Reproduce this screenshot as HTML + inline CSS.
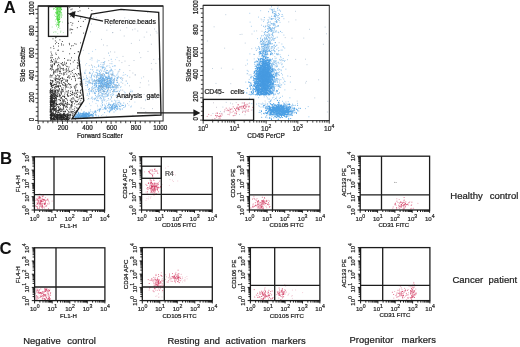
<!DOCTYPE html>
<html><head><meta charset="utf-8"><title>Figure</title>
<style>
html,body{margin:0;padding:0;background:#fff;width:520px;height:347px;overflow:hidden}
svg{display:block;filter:blur(0.35px)}
text{font-family:"Liberation Sans",sans-serif}
</style></head><body>
<svg width="520" height="347" viewBox="0 0 520 347">
<rect width="520" height="347" fill="#fff"/>
<path d="M55.4 43.7h0M51.2 57.7h0M56.2 37.2h0M53 38.8h0M55.5 37.8h0M76.1 44.2h0M71.5 57.8h0M61.6 45h0M55.8 53.1h0M78.2 51.8h0M71.5 45.9h0M73.1 45.6h0M58.6 43.5h0M74.8 43.7h0M59.9 39.8h0M55.4 58.8h0M61.6 43.8h0M53.5 46.2h0M56.2 54.5h0M78.3 51.7h0M58.5 57.2h0M59.1 58.3h0M51.4 59.9h0M58.4 46.1h0M64.5 58.5h0M69.7 53.8h0M50.7 57.8h0M56.7 42.3h0M69.3 43.4h0M52.3 55.2h0M51.4 53.9h0M74.7 53.5h0M63 51.4h0M63.3 45h0M53.7 59.7h0M57.3 59h0M51 52h0M69.6 44.7h0M55.3 40.9h0M58.2 50.1h0M52.6 57.7h0M51.1 55.8h0M58 50.4h0M53.9 48.4h0M50.8 47.8h0M62.3 41.5h0M80.5 42.9h0M70.7 48.7h0M83.3 21.4h0M78.1 11.5h0M89.8 17.8h0M89.1 20h0M72.8 23.3h0M81.8 16.5h0M69.8 7.6h0M68.7 23.2h0M71.4 29.3h0M72.8 12h0M70.1 30h0M70.7 16.3h0M80 10.8h0M78.4 21.4h0M80.8 26.5h0M71 9.7h0M79.7 7.4h0M71.3 32.9h0M77.3 27.7h0M85.2 19.4h0M72 25.2h0M68.5 13.5h0M83.7 33.1h0M88.7 8.3h0M72.1 9h0M70.2 29h0M72.7 29.6h0M70.9 22.5h0M80.7 18.1h0M91.9 10.5h0M71.4 79.2h0M73.2 62h0M52.6 80.6h0M70.4 63.8h0M74.1 69.3h0M67.6 80.4h0M52.2 62.1h0M81.5 86.3h0M57.6 86.2h0M50.4 82.8h0M75.6 79.9h0M60.1 85.5h0M57.3 86.1h0M56.8 69.9h0M60.5 68.1h0M53 89.6h0M61.2 83.2h0M55.9 87.3h0M56.9 81.8h0M59.6 79.9h0M56.2 85.8h0M55.1 62.5h0M55 61.2h0M80.9 83h0M65.8 65.1h0M78 60.2h0M52.1 64.6h0M80.8 84.2h0M59 65.3h0M69.3 78.1h0M65.1 69.9h0M74.4 87.2h0M59.6 83h0M56 61.1h0M66.9 81.4h0M66.3 68.6h0M63.2 74.1h0M58.4 86.3h0M75.2 78.4h0M56.9 87.1h0M75.4 73.5h0M65.3 72.3h0M78.1 63.6h0M56.1 61.1h0M52.6 81.4h0M81.4 84.1h0M61.4 73.8h0M56.9 89.7h0M52 61.7h0M77.2 67.8h0M78.8 65.2h0M60.4 78.6h0M54.2 64.8h0M63.9 73.4h0M51.9 66.3h0M51.3 86h0M60.2 69.8h0M63.7 75h0M66.9 80.1h0M50.6 83.1h0M74.2 86.3h0M66.3 63.1h0M62.5 78.5h0M52.1 85.5h0M62.7 80.4h0M60.2 86.3h0M54 72.1h0M60 66.3h0M63 65.6h0M57.3 71.9h0M59.9 75.6h0M71.2 71.3h0M50.7 68.5h0M56.5 78.7h0M59.5 79.3h0M54.8 89.9h0M51.5 75.7h0M52.2 85.2h0M55.8 72.2h0M58 82.9h0M61.4 88h0M74.1 76h0M54.2 71.6h0M57.2 70.1h0M55.7 77.2h0M60 80.9h0M79 73.6h0M61.3 82.9h0M69 83.9h0M58.3 79.6h0M64.5 62.2h0M56.5 86.7h0M50.1 77.1h0M60.6 78.8h0M69.6 71.3h0M50.2 83.4h0M50.2 69.3h0M77 84.2h0M60.2 73.1h0M68.8 60.1h0M64.7 74.2h0M52.4 65.3h0M61.7 80.5h0M57 69.3h0M75.8 86h0M51.1 68.2h0M58.6 64.5h0M74.6 76.6h0M58.8 86.1h0M80.5 85.2h0M58.8 62.7h0M58.2 75.4h0M70.8 74.1h0M51.2 84.4h0M76.7 74.4h0M70 77h0M63.3 82.4h0M75.4 80.7h0M74.7 60.4h0M75.8 85.2h0M52.7 82.6h0M69 67h0M78.2 78.4h0M72.3 70.5h0M55.1 88.6h0M53.7 81.1h0M66.4 87.1h0M55.6 86.5h0M58.4 86.3h0M54.9 84.6h0M57 78.7h0M79.9 77.7h0M65.7 81.2h0M54.2 84.7h0M67.5 82h0M52.2 80.9h0M59.2 76.5h0M68.6 83.6h0M63.3 65.3h0M54.4 87.3h0M51.5 83.8h0M58.7 86.1h0M58.1 70.9h0M51.9 77h0M66.4 63.2h0M56.3 83.2h0M63.2 87.9h0M67.2 84.8h0M61.9 78h0M65.4 87.2h0M53.1 69.5h0M62.7 89.5h0M55 79.6h0M58.2 86.1h0M50.8 62.2h0M63.1 69.6h0M62.1 68.5h0M51.9 65.8h0M59.2 77.1h0M68.2 72h0M57.8 68.3h0M55.7 70.1h0M55.8 82.2h0M53.9 72.8h0M74 74.2h0M69.5 84.7h0M68.7 76.9h0M53.9 74.1h0M55.8 75.5h0M56.4 84.4h0M66 85h0M56.2 76.7h0M64.8 64h0M66.9 66.4h0M78 65.9h0M64.1 82.5h0M67.9 76.9h0M58.7 78.2h0M58.6 68.9h0M74.8 88.2h0M51.2 85.5h0M64 64.3h0M63.8 85.1h0M62.4 62.5h0M51.8 88.1h0M58 82.1h0M61.5 63.9h0M55.4 84.7h0M80.1 84.1h0M52.8 85.7h0M50.8 89.4h0M77.3 62.6h0M75.5 89.1h0M57.6 75h0M55.7 71.2h0M54.1 63.4h0M65.8 80h0M52.1 67.7h0M70.2 88h0M51.8 86h0M58 81.5h0M53.6 85.5h0M63.3 70.3h0M55.8 78.5h0M76.8 84.6h0M68 87.2h0M58.3 87.2h0M50.6 65.1h0M59.1 83.9h0M51.2 86.3h0M68.8 70.2h0M78.3 73.5h0M59.9 71h0M63.1 79.2h0M55.6 80.5h0M80.6 78.6h0M53.5 72.1h0M61.5 81.5h0M61.8 68.4h0M67.4 60.2h0M64.2 79.2h0M81.8 89.7h0M50.1 75.9h0M67.1 66.7h0M77.7 68.5h0M62.4 64.2h0M72.3 72.7h0M57.4 65.6h0M65.3 85.6h0M76 87.2h0M65.2 86h0M69 75.5h0M55.6 79.4h0M62.6 84.2h0M65.7 84.2h0M51.2 80.6h0M52.7 61.6h0M62.7 77.8h0M59.9 67.8h0M54.5 64.3h0M59.2 88.8h0M58.4 87h0M59.4 71.4h0M64 85.3h0M53.7 73.2h0M64 72.6h0M54.2 84.3h0M50.5 84.5h0M60.6 71.6h0M51.5 60.3h0M64.9 83.5h0M66.8 74.1h0M77.5 66h0M52.4 66.8h0M51.4 84.1h0M71.6 87.3h0M51.9 83.5h0M51.6 83.9h0M59.5 88.9h0M51.3 86.6h0M51 60.5h0M50.7 89h0M79.6 74.9h0M60.7 86.2h0M80.3 81.7h0M74 76.6h0M50.6 75h0M66.3 86.2h0M67.4 77.5h0M52.4 69.1h0M57.9 69.3h0M68.5 68.9h0M51.2 66.6h0M56 80h0M56.3 62.1h0M67.7 80.2h0M77.1 75.8h0M62.6 84.8h0M50.8 80.8h0M50.4 89.3h0M59.7 73.3h0M66.7 69.7h0M65.3 89h0M57 62.7h0M79.2 78.2h0M52.7 75.2h0M52.5 87.6h0M59.6 82.8h0M72.4 76.4h0M51.3 83.1h0M69.9 71.7h0M57.6 79h0M54.8 88h0M70.9 86.3h0M50.4 82.9h0M54.8 63.5h0M78.8 74.1h0M61 63.4h0M53.8 70.7h0M54.1 78.2h0M57.8 66.8h0M52.9 87.2h0M70.7 84.5h0M80.3 83.9h0M54.5 64.1h0M51.6 70h0M54 84.4h0M67 70.5h0M66.4 71.7h0M65.7 84.2h0M50.5 80.1h0M61.9 89.4h0M80.3 74.9h0M70.3 60.3h0M63.5 68.4h0M59.6 104.5h0M67.8 93.3h0M77.1 111h0M51.5 97.7h0M53 108.8h0M51.7 110.3h0M53.9 108.6h0M71.2 101.7h0M57 110.4h0M54.8 94.3h0M50.8 111.9h0M55.8 108.4h0M53.4 104.6h0M55.9 95h0M50.5 102.2h0M67.4 102.6h0M60 100.7h0M63.8 104.2h0M51.6 90.4h0M55.1 115.3h0M60.8 98.7h0M53.9 97.6h0M56.2 104h0M65.1 114.8h0M53.5 103.1h0M61.5 93.6h0M62.7 109.9h0M52.9 106.5h0M51.4 113.5h0M64.9 101.4h0M79.9 104.2h0M64.2 96.5h0M70.1 112.9h0M53.1 101.6h0M50.4 106h0M50.7 100.8h0M66 98.5h0M50.7 100.7h0M80.2 96h0M76.9 97.5h0M74.1 99.1h0M71 108.9h0M60 113.3h0M50.7 111.3h0M68.7 112h0M58.7 107.2h0M50.1 90.8h0M51.6 94.6h0M59.8 96.2h0M53.9 91.3h0M68 113.7h0M59.9 95.7h0M51.9 98.9h0M63.2 91.3h0M74.7 103.8h0M51.4 113.7h0M56.8 101.9h0M72.3 94.7h0M63 96h0M80.5 93h0M53.6 107.2h0M80.9 90.7h0M62.9 100.9h0M71.5 94.3h0M50.4 98.2h0M72.9 101.4h0M50.3 111.2h0M77 96.1h0M54.2 106.4h0M76.9 104.7h0M51.5 103.8h0M52.4 95.2h0M53.4 105.2h0M52.4 101.5h0M51 106.7h0M53.6 96.2h0M52.7 104.6h0M78.8 103.7h0M61.5 97.4h0M55.8 109.3h0M50.2 111.3h0M54.3 114.8h0M67.2 113.8h0M52.8 96.1h0M51.3 114.5h0M54.8 96h0M62.9 103h0M50.1 92.1h0M54 113.9h0M53.2 114.8h0M61.5 109.8h0M75 106.8h0M56.8 111.8h0M50.1 102.3h0M50.8 109.6h0M57.5 104.6h0M54.7 98.8h0M58.2 114.5h0M52.2 97.1h0M51.2 92.2h0M53.3 113.3h0M58.7 108h0M72.8 92.4h0M63.7 114.6h0M62.3 104.8h0M52.9 91.9h0M57.3 112.9h0M80.9 103.7h0M82.2 102.5h0M52.2 106.7h0M64.2 111.3h0M50.4 98.3h0M76.1 96.7h0M51 91.7h0M54.2 102.7h0M50.5 109.9h0M54 94.4h0M55.1 99.9h0M70.7 114.9h0M55.7 112.7h0M54.9 92.8h0M59 112.7h0M54.6 95.8h0M54.4 109.4h0M55.4 98.2h0M54.9 93.3h0M50.2 104.4h0M52.5 91.6h0M50.8 97.9h0M51.1 101.3h0M51.2 94.2h0M52.6 103.1h0M71.4 105.6h0M64.7 94.9h0M54.7 93.1h0M53.1 109.1h0M63.5 107h0M55.1 95.9h0M54.1 96.2h0M67.5 94.7h0M59.9 114.1h0M80.3 104.6h0M55.7 106.1h0M56.1 98.1h0M67.6 104.6h0M51.5 94.7h0M51.3 99.5h0M57.7 110.7h0M53.2 112.3h0M68.9 95.8h0M77.4 94.6h0M59.8 109h0M50.1 96.6h0M58.4 90.9h0M81.4 98.4h0M65.6 111.1h0M57 93.2h0M56.1 111.8h0M63.7 102.1h0M64 99.8h0M81.3 103.1h0M52.3 90.5h0M53.6 108.6h0M57.4 96.6h0M74.8 93.9h0M77.3 90.3h0M69.9 112.1h0M63 109.3h0M60.1 91.3h0M75.6 101.1h0M61.7 111.4h0M64.4 113.6h0M63.6 113.2h0M66.5 109.3h0M81.2 104.2h0M76.9 101.2h0M52.9 101.9h0M50.5 104.5h0M62.8 100.9h0M50.6 114.6h0M50.9 98h0M64.5 105.7h0M68.5 114.2h0M68.3 104.2h0M53.8 107.2h0M50.7 114.6h0M51.4 105.8h0M61.6 91.8h0M60 93.9h0M55.6 97.5h0M75.8 111.7h0M53 102h0M52 102.4h0M55.1 104.9h0M50.8 102h0M56.3 99h0M50.8 97h0M60.4 108.2h0M62.6 90h0M51.5 101.2h0M55.2 110.4h0M51.5 98.1h0M68.3 111.8h0M61.1 102.3h0M50.3 112.9h0M53.2 101h0M67.2 94.6h0M55.4 109.8h0M57.3 112.9h0M78.2 99.8h0M69.5 104.4h0M71.4 102.6h0M51.5 100.7h0M50.2 112.2h0M50.5 103.8h0M53.2 101.7h0M52.7 113.3h0M80.8 100.7h0M70.5 95.6h0M74.4 112.7h0M52.4 96.1h0M51.4 95.8h0M59 112.8h0M53.8 107.8h0M55.8 100.5h0M53.5 93.3h0M72 99.2h0M79.9 102.3h0M53.2 105.5h0M59.1 110.1h0M51.9 110.9h0M72.8 111.7h0M80.1 98.8h0M74.7 110.6h0M54.3 113.9h0M52.1 109h0M72 104.9h0M52.1 112.5h0M50.6 105.4h0M55.1 103.4h0M52.7 97.9h0M52.6 97.6h0M52.9 94.8h0M56.1 110.2h0M54.6 106.1h0M81.5 95h0M70.2 100.3h0M70.9 100.3h0M80.9 93.2h0M77.9 92.3h0M76 102.1h0M65 93h0M61.4 103.8h0M52.4 102h0M69 115.2h0M51.5 113.2h0M53.2 94.8h0M51.6 95.1h0M70.3 93.4h0M59.6 115.2h0M50.1 92.9h0M54.2 102.3h0M55.8 106.1h0M54.4 110.6h0M59.4 90h0M68 91.2h0M64.3 113.2h0M50.2 101.7h0M58.8 99.6h0M57.8 115.2h0M66.1 106.6h0M73 97.5h0M78.3 108.8h0M67.1 104h0M54.8 101.8h0M51 99.3h0M57.8 91.8h0M55.6 91.3h0M53 101.9h0M53.5 103.5h0M51.5 114.2h0M59 96.6h0M65.8 98.4h0M51.9 98.3h0M77.8 90.8h0M51 96.7h0M51.5 101.3h0M51.8 105.6h0M77.3 90.7h0M64.4 100.1h0M55 91.6h0M54 94.6h0M65.8 107.1h0M51.6 94.2h0M52.8 90.2h0M67.4 95.7h0M72.1 94.9h0M54.7 107h0M64.5 97.4h0M70.9 105.2h0M56.3 104.9h0M72.9 113h0M57.9 92.5h0M55.3 97.6h0M51.1 99.7h0M51.3 94.4h0M61.3 94.2h0M58.8 93.4h0M74.5 93.1h0M54.2 91.1h0M78.2 104.2h0M51.9 104.7h0M73.7 111.7h0M57.6 104.5h0M51.5 97.2h0M67 105.9h0M51.6 92.6h0M51.5 114.9h0M50.7 91.3h0M51.8 101.5h0M50.6 96.5h0M52.3 113.1h0M63.2 114.8h0M71.1 101.6h0M53.2 106.7h0M55.8 115h0M72.2 113.9h0M73.1 98.6h0M55.2 97h0M51.2 100.8h0M63 115.4h0M53.1 115.1h0M50.3 92h0M53.9 93.8h0M52.1 98.6h0M58.5 112.4h0M51.9 99h0M57.6 96.5h0M54.9 90.9h0M53.6 95.1h0M63.8 106.7h0M65.6 103.5h0M52.6 100.3h0M54.8 100.4h0M51.6 104.4h0M50.8 104.2h0M62.8 91.7h0M55.9 93.3h0M73 101.7h0M65.8 114.3h0M52 101.9h0M51.9 99.1h0M53.4 113.4h0M74.7 108.8h0M56.8 100h0M51.5 97.8h0M56.9 104.6h0M72 102.9h0M54.9 108.7h0M51.1 91.9h0M72.1 111.4h0M51.9 110h0M72.4 103h0M56 108.9h0M66.3 106.2h0M57.9 106.5h0M63.5 113.6h0M50.9 102.9h0M50.6 109.8h0M56.8 104.8h0M71.7 104.5h0M66.5 104.1h0M54 105h0M59.6 95.4h0M60.8 92.3h0M53.8 100.5h0M76.1 93h0M51.3 90.6h0M51.3 105.1h0M50.7 104.6h0M59.3 109.8h0M50.3 110.5h0M50.4 95.4h0M55.6 95.8h0M71.3 98.7h0M62 98.7h0M54.2 101.8h0M61.5 97.9h0M82.1 95.1h0M52.7 95.5h0M57.5 90.4h0M53.9 93.3h0M51.2 105.3h0M71.4 111.8h0M50.5 101.9h0M52.1 90.6h0M55.8 90.3h0M50.1 98.6h0M63.2 108h0M51.1 113.6h0M73.2 94.1h0M59.6 109.2h0M51.1 106.1h0M50.6 93.1h0M57.4 115h0M55.7 113.7h0M50.2 109.7h0M83.5 98.1h0M50.5 96.1h0M72.5 92.8h0M50.3 107.7h0M56.4 103.5h0M54.7 106.1h0M53 103.9h0M54.3 98.8h0M52.2 96.8h0M54.6 104.2h0M53.7 110.4h0M58 95.1h0M61 108.8h0M50.5 108.5h0M77.4 101.5h0M57 95.3h0M54.7 103.4h0M53.6 103.4h0M71.8 112.6h0M67.4 96h0M53.4 111.2h0M64.4 115.3h0M60.5 100.5h0M68.4 90.7h0M64.9 105.4h0M67.5 100.2h0M52.2 113.6h0M52.5 104.2h0M76.1 93.8h0M50.8 106h0M58.8 110.6h0M53.2 104h0M68.1 92.7h0M55.9 103.8h0M52.4 100.3h0M51.5 100.7h0M51.9 114.7h0M58.3 90h0M67.4 107.3h0M69.3 109.1h0M60 115.3h0M54 92.9h0M63 105.5h0M56.4 104.8h0M51.5 94.9h0M51.8 102.5h0M52.9 109.5h0M56 92.2h0M63.8 104.7h0M72.1 91h0M82.6 90.8h0M53.7 107.7h0M51.5 96.1h0M53.8 98.7h0M52.2 99.9h0M55.7 90.7h0M62.8 103.3h0M60.4 115.4h0M51 105.8h0M51.2 113.4h0M54.4 110.2h0M76.3 93h0M50.2 100.4h0M53.2 98.4h0M63.8 111.4h0M58.6 107.2h0M63.3 101h0M60.7 109.5h0M58.8 104.7h0M67.3 102.3h0M51.1 109.5h0M80.2 91.9h0M52.6 92.4h0M54.4 114.8h0M52.7 106.2h0M53.7 109.5h0M62.2 104.4h0M56.9 96.5h0M55.2 91.8h0M61.9 110.1h0M59.4 109.4h0M60.7 111.6h0M62.9 96.3h0M63.2 111.6h0M68.6 96.3h0M55.8 108.9h0M52.4 108h0M55.8 111.4h0M76.1 101.3h0M51.4 111.9h0M52.5 99.3h0M66.9 91.8h0M62.9 96.4h0M57.5 94.2h0M50.3 111.8h0M56.9 111.2h0M59.7 94.5h0M56.9 95.9h0M51.4 111.3h0M63.1 90.1h0M52.9 90.7h0M53.3 102.5h0M60.2 97.3h0M62.9 114.3h0M56.6 97.3h0M53.7 101h0M56.2 95.9h0M54.6 99.9h0M53.8 108.7h0M58.9 110.2h0M54.6 102.7h0M60.2 110.8h0M50.9 91.6h0M55.3 94.9h0M50.4 107.5h0M61.5 90.1h0M66.7 99h0M61.7 92.4h0M59.2 103.6h0M50.2 106.6h0M54.1 106.2h0M57 114.5h0M77.3 108.2h0M56.5 98.6h0M80 96.1h0M50.9 90.7h0M70.5 91.3h0M56.6 107.4h0M51.4 104.5h0M58.8 115h0M65.4 102h0M54.7 97h0M54.5 101.4h0M57.1 90.8h0M50.3 94h0M73.2 114.1h0M51.9 102.3h0M51 109.9h0M64.4 114.3h0M72.5 92.4h0M54.2 100.7h0M52 102.3h0M51.7 96.6h0M51.5 102h0M57.4 115.3h0M72.2 106h0M51.7 114.2h0M55.8 111.2h0M64.7 96.5h0M60.7 103.4h0M66 91.2h0M55.8 101.3h0M56.1 100.4h0M80.2 92.7h0M55.3 94.4h0M59.1 106.9h0M53.9 96.3h0M61.9 104h0M77.6 101.6h0M51.5 106.7h0M55.6 92.1h0M50.2 90.7h0M53.6 98.3h0M58.4 110.8h0M82.1 98.8h0M63.1 101.1h0M56.2 95.2h0M56.5 109h0M60.6 100.6h0M79.3 96.3h0M52.5 93.6h0M76.8 110.8h0M54.6 101.3h0M50.6 103.5h0M76.5 107.9h0M54.4 96.5h0M50.7 114.2h0M52.9 102.5h0M53.1 98.2h0M79.1 97.9h0M54.4 102.7h0M54.4 109.8h0M75.4 112.8h0M58.5 110.9h0M60.9 113.5h0M60.3 104.1h0M65.5 111.6h0M72.6 115.3h0M59.1 109.4h0M55.7 113.3h0M60.6 105.5h0M54.6 114.7h0M52.6 108.9h0M52.4 105.2h0M52.4 102.5h0M71 106.4h0M81.3 98.4h0M58.2 91.5h0M75.9 90.7h0M52.7 92.8h0M63.8 109.1h0M54.5 98.5h0M75.5 90.8h0M52.2 109.4h0M56.2 99h0M50.4 99.2h0M51.9 111.2h0M67.7 110.3h0M80.6 90.3h0M52.5 95.1h0M56 102.6h0M64.3 105.1h0M77.5 97.4h0M51.9 108.5h0M65 103.9h0M50.6 104.6h0M74.4 95.7h0M50.7 102.6h0M51.9 112.7h0M51 112h0M55.2 90.9h0M55.9 98.3h0M66 107h0M50.5 101.6h0M65 111.9h0M50.5 104.3h0M75 100.4h0M67.3 103.1h0M70.1 107.6h0M70.8 111.2h0M63.5 105.6h0M50.2 108.9h0M58.8 110.8h0M71.5 107.1h0M50.2 115.3h0M59.8 99.5h0M64.7 96.8h0M62.8 99.4h0M60.6 95.7h0M54.7 108.8h0M72.9 109.4h0M63.5 108.2h0M52.9 115h0M66.6 114.6h0M61.4 118.8h0M56.1 117.7h0M50.4 119.1h0M50.2 117.6h0M61.6 116.3h0M58.5 118h0M60.9 115.8h0M59.8 119.1h0M57.8 115h0M64.2 117.6h0M66.5 118.9h0M61.9 114.7h0M63 118h0M67.5 116.3h0M54.9 118.9h0M64 115.5h0M64.1 115.1h0M57.8 117.9h0M64.4 115.6h0M53.9 116.2h0M53.7 118.8h0M63.7 117.4h0M65.8 119.2h0M51.7 118.5h0M57.7 118.8h0M55.1 116.4h0M56.3 117.7h0M60 117.9h0M56.2 118.4h0M63.4 119.2h0M66.4 118.3h0M65.5 116.5h0M75.3 119.1h0M67.7 117.2h0M50.6 116.8h0M51.6 116.6h0M64.5 119.4h0M50.5 117.9h0M54.6 119.2h0M57.7 117.2h0M64.7 119.6h0M52 115.5h0M50.8 117.7h0M68 118h0M61.9 116.4h0M68.8 119.2h0M60 117.2h0M61 119.5h0M58.1 115.7h0M54.6 119.7h0M59.2 119.6h0M58.2 119.2h0M63.6 119.1h0M63.4 117.9h0M54.5 119.6h0M64.9 115.8h0M66.9 115.2h0M54.2 115.4h0M58.4 116.1h0M51 118.3h0M51.4 119.1h0M51.4 119.4h0M62.5 119.3h0M51.5 118.7h0M66.8 119h0M57.4 117.6h0M52.8 120.2h0M53.2 114.7h0M63.2 114.8h0M63.9 118.8h0M63.3 117.9h0M51 117.9h0M68.1 115.8h0M60.5 119.8h0M55.1 120h0M53.2 118.9h0M57.8 115.9h0M57.4 115.5h0M55.8 115.6h0M51.7 115.4h0M64.8 119.5h0M67.2 119.6h0M63.1 117.1h0M63.7 117.5h0M63.5 116.5h0M61.9 117.9h0M52 115.3h0M50.9 115.6h0M62 114.9h0M70 116.3h0M56.1 117h0M57.6 116.8h0M59.9 119.1h0M59.9 119.6h0M52.7 118.5h0M50.4 118.4h0M61.4 116.3h0M57.2 117.2h0M52.9 114.7h0M65 116.3h0M67 117.1h0M61.3 116.8h0M57.4 119.9h0M66.9 117.3h0M57.7 117.2h0M52 118.2h0M57.5 119.5h0M70.1 114.7h0M60.8 116.9h0M55.8 116.8h0M50.5 115.4h0M56.4 117.9h0M54.5 116.4h0M67.2 115.7h0M51.5 117.7h0M61.8 116.6h0M65.6 120.2h0M53 120h0M54.2 118.6h0M54.8 116.6h0M52.2 115.2h0M60.6 118.5h0M66.1 116.9h0M51.6 116.6h0M50.2 115h0M72.8 116h0M60.4 117.6h0M55.5 117.3h0M50.8 115.9h0M56.5 114.5h0M58.6 116.1h0M54.6 117.5h0M50.4 120.1h0M53.1 118.4h0M53.5 117.2h0M52.6 118.6h0M64.7 119h0M56.2 117.8h0M62.3 117.4h0M57.3 117.8h0M72.4 117.4h0M66.1 118.9h0M53.4 119.4h0M62.2 116.5h0M67.6 116.3h0M57.8 119.3h0M51.1 115.4h0M67.9 116.4h0M52.8 114.9h0M54.1 115.6h0M62.4 116h0M67.2 118.1h0M63.3 119h0M57.4 119.5h0M55.1 118.9h0M58.4 117.8h0M56.2 114.9h0M57.2 116.9h0M67.3 117.5h0M66 116.2h0M67.4 114.5h0M61.3 120h0M67.4 120.1h0M67.9 117.3h0M61.9 119.7h0M63.4 114.6h0M61.4 118.9h0M50.9 115.3h0M60.3 115h0M67.4 117.8h0M67.2 119h0M57.5 119.1h0M65.6 115.3h0M62 117.9h0M62.7 119.1h0M58.1 115h0M64.6 115h0M68.6 119.5h0M55.4 116.9h0M57.3 117.7h0M59.4 116.2h0M55.2 114.7h0M51.4 115.7h0M60.9 116.2h0M67.5 120h0M69 120h0M62.6 119.8h0M60.1 114.5h0M69.1 118.3h0M58.1 117.3h0M61.6 119.7h0M56.1 116h0M70.1 114.8h0M51.4 116.3h0M59.3 117.1h0M57.4 117.6h0M61.3 117.4h0M54.8 119.5h0M56.4 116.4h0M54.4 118.4h0M56.6 116.8h0M56.7 117.4h0M55.2 119.8h0M63.8 117.1h0M66.4 119.4h0M54 119.7h0M70.2 114.8h0M56.3 119.7h0M61.9 117.1h0M66.3 119.4h0M61.2 117.2h0M60.7 116.2h0M51 117.1h0M54.8 116.6h0M64.9 115.7h0M61 116.9h0M69.7 117.1h0M61.9 116.6h0M61.3 115h0M51.9 118.1h0M57.8 119.9h0M65.4 118.1h0M56.3 117.3h0M65.1 115.2h0M53.4 117.7h0M53.5 117.3h0M64 117.2h0M52.4 116.7h0M57.3 119.2h0M66.9 118.1h0M67.1 117.3h0M59.9 117.3h0M57.6 116.1h0M62 120.1h0M54.2 116.5h0M66.4 118.4h0M54.7 115.5h0M65.6 115.9h0M70.8 115.6h0M55.2 116.9h0M51.3 119.7h0M61.6 116h0M67.7 119.4h0M68.9 115.1h0M57.5 116.3h0M68.4 115.6h0M52.9 118.8h0M64.9 117.8h0M65.6 118.6h0M57.4 114.6h0M51.6 119.9h0M59.8 115.1h0M57.2 119.1h0M56.8 118.5h0M51.4 117.5h0M59.7 118.4h0M58.1 115.4h0M61.8 115h0M52.9 115.8h0M52.7 115.5h0M56.6 115h0M50.8 120.1h0M61.7 115.2h0M50.7 114.6h0M64.2 118.7h0M53.6 119h0M53.2 115.7h0M52.6 119.7h0M60.1 116.8h0M56.5 115.3h0M68.4 119.4h0M53.2 118.5h0M63.6 117h0M60 116h0M60.2 115.3h0M70.8 117.9h0M69.5 118.6h0M57.9 119.8h0M53.9 115.3h0M60.1 117.2h0M50.4 114.7h0M60.3 114.8h0M51.5 114.8h0M50.9 118.6h0M56.4 114.5h0M63.4 115.3h0M67 118.4h0M59.4 114.6h0M62.6 119.7h0M53.1 118.7h0M61 117.8h0M67.7 120h0M68.8 118.1h0M57.5 114.7h0M62.1 115.7h0M66.3 119.6h0M66.3 119.7h0M59.3 117.7h0M62.5 119.3h0M57.4 118.7h0M66.7 116.5h0M67.7 115.5h0M61 119.3h0M57.5 119.6h0M59.4 117.9h0M57.9 115.9h0M61.4 117.7h0M56.5 117.7h0M57.7 119.1h0M62.8 115.1h0M59 118h0M60.1 115.9h0M50.9 117.9h0M53.7 118.3h0M65.2 116.6h0M68.8 117.3h0M67.7 118.3h0M57.8 119.8h0M62.2 117.3h0M64.6 117.5h0M65.9 115.6h0M71.1 118.9h0M58 115.1h0M63.5 117.8h0M67.2 115.1h0M59.2 114.5h0M57.6 116.4h0M61.7 117.9h0M57.1 118.8h0M58.9 118.8h0M54.9 115.3h0M62.8 118h0M55.9 119.3h0M61.7 117h0M65.4 119h0M69.3 115.1h0M61.4 115.9h0" stroke="#262626" stroke-width="1" stroke-linecap="round"/>
<path d="M124.2 36h0M152.3 96.6h0M131.3 43.4h0M144 108.6h0M146.8 32.1h0M100.3 66.8h0M156.1 31.3h0M129.4 92.4h0M125 61.1h0M93.6 90.9h0M129.1 65.5h0M134 60.5h0M93.6 17.4h0M136.4 23.7h0M114.8 52.1h0M89.2 80.1h0M148.9 84.9h0M148.2 20.5h0M129.5 85.8h0M103.5 45h0M110.5 51.8h0M105.1 69.8h0M156.1 98.5h0M86.5 115.1h0M129.8 77.2h0M98.8 78.5h0M119.1 77.4h0M148.9 97.7h0M90.6 31.8h0M128.8 19.7h0M123 56.4h0M96.2 17.6h0M95.8 112.9h0M124.8 17.9h0M152.9 99h0M155.9 63.4h0M102 70h0M153.8 59.4h0M132.7 29.8h0M104.1 58.4h0M147.5 12.1h0M151.3 63.4h0M135.5 74.9h0M81 74h0M108.6 53.1h0M114.5 85.7h0M125.4 98.2h0M139.9 87.4h0M148.4 81h0M150.4 35h0M151.3 44.2h0M126.8 27.7h0M113.8 86.9h0M144.2 37.1h0M127.6 103.6h0M120.3 30.2h0M155.2 12.2h0M110 63.6h0M137.8 31h0M135 29h0M104.5 64h0M107.1 45.7h0M140.8 57.6h0M112.7 32.7h0M103 62.6h0M158.2 94.3h0M114.2 84.3h0M121.9 62.6h0M143.7 76.8h0M92.2 58.1h0M158.2 96.2h0M141.3 23h0M101.6 39.4h0M158.7 59h0M132 91.9h0M144.1 94.4h0M126.2 80.8h0M116.7 86.1h0M132.9 73h0M95.2 75h0M108.8 60.6h0M141.1 108h0M140.8 94.8h0M152.5 108.6h0M135 74.9h0M92.4 69.9h0M129.9 70.6h0M80.5 64.8h0M106.9 30.2h0M119.2 60.7h0M151.8 69.1h0M122.8 83.3h0M110.3 25.5h0M145.8 111.8h0M117.6 103.9h0M83.3 50.3h0M145.5 100.6h0M148 51.4h0M154.5 29h0M81.6 109.9h0M139.6 40.2h0M132.9 115.3h0M112.8 32.5h0M84.8 73.6h0M122.7 90.1h0M91.5 24.1h0M157 33h0M124 10.5h0M140.3 82.7h0M139.6 52.7h0" stroke="#a8b8c8" stroke-width="0.9" stroke-linecap="round"/>
<path d="M103.5 91.1h0M134.9 102.1h0M112 70.9h0M117.5 91.4h0M96 103.4h0M108 85.9h0M99.3 98.4h0M87.1 79.1h0M99.9 87.8h0M108.7 53.2h0M103 78.1h0M92 60.1h0M106 84.5h0M111.2 98.3h0M82.1 79.2h0M117.2 87.1h0M96.3 115h0M109.1 65.7h0M112.6 72.3h0M101.8 87.5h0M125.7 74.5h0M126.2 81.4h0M94.9 77.4h0M106.6 115.9h0M121.2 86.7h0M128.9 105.2h0M104.6 100.5h0M99.1 88.3h0M96.9 72.8h0M103.7 96.4h0M115.1 69.6h0M96.6 76.5h0M117.1 106.8h0M92.6 51.4h0M95.8 82.6h0M117 100.6h0M92.3 98.1h0M103.9 82.5h0M98.4 90.8h0M116.8 77.4h0M104.8 83.3h0M131.5 106h0M102.7 96.9h0M145.8 99.4h0M135.7 97.6h0M104.1 100.7h0M110.6 99.4h0M82.6 80.9h0M79.1 117.8h0M86 89.9h0M107.3 91.1h0M115.7 87h0M103.2 85h0M105.8 71.8h0M111.8 82.6h0M93.5 91.2h0M96.3 83.4h0M117.3 98.7h0M89.6 82h0M125.1 85h0M89.5 93.7h0M105.5 85.7h0M94.8 74.9h0M92.8 93h0M111.5 70.3h0M105.5 93.4h0M111.9 81h0M100.6 64.4h0M101.8 94.1h0M125.8 95.1h0M104.6 79.7h0M98.6 73.9h0M124.6 97.4h0M95.9 112.5h0M100.5 85.1h0M95.3 72.5h0M116 87.5h0M97.4 60.1h0M108.9 100h0M106.8 107.9h0M97.9 109.2h0M99.2 91.9h0M108.9 75.1h0M116.1 87.7h0M109.6 80.1h0M91.8 89.7h0M107.2 65.7h0M97.7 83.6h0M89.2 77h0M107.7 92.2h0M85.9 81.1h0M85.6 65h0M124.5 92.8h0M108.7 90.3h0M115.8 85.9h0M97 97.8h0M96.6 72.7h0M98 97.5h0M116.3 108.7h0M94.8 92.9h0M101.5 115.6h0M88.3 82.4h0M141.4 78.1h0M88.9 53.6h0M85.9 70h0M103.2 73.4h0M91.1 83.4h0M121.2 104h0M90.9 105.6h0M100.9 75.8h0M114.7 87.1h0M90.3 73.5h0M116.7 79h0M85.9 106.3h0M87 95.5h0M102.4 77h0M99.1 86.8h0M100.1 76.5h0M92.4 99.6h0M98.9 85.9h0M102.8 88h0M124 75h0M89.2 65.6h0M109.7 72.8h0M113 73.4h0M113.2 91.8h0M87.9 99.4h0M93.7 90.4h0M104.9 84.7h0M88.8 96.1h0M113.7 82.7h0M83.3 77h0M101.6 85.8h0M119.6 69.4h0M119.2 84h0M104 71.5h0M101.2 62.6h0M100.9 99.1h0M89.2 83.1h0M115.5 65.8h0M119.6 96.8h0M97.2 77h0M116.1 102h0M115 65.9h0M97.5 98.6h0M99.4 109.5h0M90 98.8h0M95 93.5h0M80.1 61.1h0M106.8 73.4h0M106.6 103.7h0M124.1 91.4h0M85.9 81.9h0M125.4 92.8h0M90.1 59.5h0M115.5 85.4h0M112.1 75.8h0M95 87.9h0M98.2 73.7h0M90.2 77.8h0M89.2 90.4h0M119 92.4h0M89.3 82.6h0M116.3 88.7h0M106.8 86.7h0M109.2 93.1h0M108.9 102.6h0M93.6 91.6h0M121.6 77.4h0M114.8 77h0M130.9 90.1h0M123.4 72.6h0M86.8 81.3h0M91.7 75.3h0M80.3 66.9h0M82.9 83.8h0M110.7 83.7h0M104.2 99h0M99.7 108.6h0M116.6 85.4h0M106.6 81.1h0M96.4 76.8h0M89.6 103.7h0M94.8 84.8h0M100.7 106h0M98.6 115.8h0M92.7 65.9h0M104.1 63.8h0M112 61.6h0M91.3 80.2h0M93.5 88.7h0M105.1 99.7h0M101.8 103.7h0M108 79.1h0M115.4 59.6h0M101.8 89.1h0M96.2 85.6h0M101.2 78.8h0M125.4 97h0M109.5 55.6h0M106.2 101.7h0M92.5 101.8h0M111.1 59.3h0M96.2 67.5h0M105.3 86.8h0M102.9 114.8h0M91.3 76.1h0M119 90.8h0M112.1 93.7h0M107.7 85.6h0M101.9 83.1h0M101.4 98.9h0M107.5 84.8h0M107.9 82.9h0M107.2 85.3h0M112.3 101.2h0M117 57.4h0M96.8 70.7h0M92.7 91.3h0M110.6 105.7h0M93.6 80.6h0M103.5 94.2h0M112.4 87.5h0M95.7 49.6h0M104 99.5h0M95.9 81.7h0M93.3 98.8h0M122.5 80.5h0M108.6 95.7h0M99.6 96.7h0M89.3 92.7h0M109 71.5h0M95.5 81.4h0M92.9 69.7h0M110.6 90.8h0M92.9 83h0M115.4 76.3h0M113.5 86.8h0M104.3 104.3h0M123 75.4h0M92.5 83.7h0M106.3 84.7h0M92.3 86.3h0M97.6 105.3h0M104.5 62.5h0M87.6 95.2h0M118.2 87.7h0M89.2 73.6h0M86.7 63.5h0M96.5 78.6h0M108.9 111.3h0M108.5 72.4h0M106 79.5h0M107.2 100.5h0M97.3 96h0M85.9 79.1h0M101.2 88.1h0M110 78.7h0M120.9 106.6h0M115.9 91.7h0M88.8 89.4h0M111.2 76.9h0M112 74.8h0M111.5 81.5h0M111.5 59.4h0M102.3 94.6h0M129.4 101.6h0M116.4 82.6h0M96.5 100.6h0M123.2 98.9h0M85.1 71.1h0M97.8 106.7h0M125.3 104.4h0" stroke="#a6cdee" stroke-width="0.9" stroke-linecap="round"/>
<path d="M107.2 80.2h0M116.1 95.8h0M93.7 75.9h0M107.4 96h0M97.1 81.7h0M110 90.3h0M104.4 69.6h0M111 79.8h0M113.7 87.3h0M110.5 79.3h0M99.8 74.1h0M107.8 85.6h0M92.1 97.1h0M88.5 89.5h0M110.5 81.8h0M106.9 87.8h0M109.1 80.5h0M100.6 89.9h0M90.8 69.4h0M91.6 75.3h0M119.2 85.5h0M94.3 79.5h0M98.6 89.3h0M106.5 77h0M104.1 81.9h0M111.3 79.7h0M101.1 79.5h0M104.9 78.6h0M113.4 79.8h0M117.7 82.6h0M86.5 77.7h0M109.5 77.6h0M116.2 87.2h0M92.5 81h0M109.1 76.4h0M105 76.1h0M106.2 87.8h0M110.6 92.2h0M109.1 87.3h0M101.4 81.8h0M95.2 89.6h0M92.1 74.8h0M108.2 87.5h0M102.2 64.9h0M101.8 81.6h0M99.4 78.6h0M106.8 83.6h0M98.7 86.2h0M112.1 85.9h0M109.1 75.3h0M105.4 89.6h0M113.8 81.8h0M105.7 72.8h0M97.6 87.8h0M110.1 80.7h0M103.1 75.4h0M108.4 93.9h0M96.9 72.4h0M102 95.7h0M98.9 75.7h0M110.6 78.2h0M107.2 91.4h0M110.4 81.1h0M109 103.6h0M100.8 87.4h0M104.3 74.7h0M101.4 86.3h0M95.2 91.3h0M103.7 87.1h0M83.5 79.6h0M108.8 74.3h0M102.6 78.4h0M96.6 80.1h0M102 100.5h0M97.9 75.6h0M85.2 73.2h0M112.4 82.9h0M99.2 75.3h0M107 86.6h0M111.2 81.6h0M95.1 83.8h0M101.2 80h0M101.3 79.3h0M118.1 76.2h0M99.1 79.2h0M116.8 75.1h0M99.5 80.2h0M111.1 82.8h0M102 77h0M87.6 85.3h0M91.3 83.2h0M100.6 86.7h0M106.5 73.5h0M93.4 71.8h0M105.6 85.4h0M94.5 85.2h0M99.7 81.1h0M108.2 84.2h0M100.8 77.9h0M104 67.2h0M104.3 81.3h0M111.4 69.7h0M113.1 83.7h0M116 88.8h0M106.7 88.2h0M107.6 94.6h0M100.1 75.3h0M109.4 76.7h0M95.2 80.7h0M102.8 68.5h0M104.7 81h0M107.7 95.8h0M89.2 80.2h0M102.7 89.5h0M112.9 87.9h0M104 84h0M108 88.9h0M99 60.6h0M99.5 71.3h0M104 71.1h0M111.1 84h0M91.2 77.5h0M95.6 98.3h0M92.6 79.2h0M107 78.6h0M113.4 89.9h0M113.8 79.5h0M107.3 78.9h0M96.5 77.2h0M96.1 80.4h0M100.2 89.6h0M102.5 81.6h0M117.7 78.5h0M111.3 81.7h0M127.5 83.3h0M116.1 87.3h0M96.1 85h0M102.1 80.7h0M102.1 81.9h0M98.5 100.8h0M110.6 74.1h0M91.7 90.8h0M98.5 91.5h0M105.7 68.2h0M101.4 77.3h0M97.9 70.1h0M103.9 86.2h0M101.7 93.7h0M111.6 97.5h0M102 79.3h0M108.4 76.4h0M100.1 90.9h0M104.6 94.2h0M106.3 91.9h0M100.2 86.4h0M100.6 78.1h0M103.1 86.6h0M109.1 83.4h0M113.9 81h0M98.5 78h0M111.5 87.2h0M120.9 78.2h0M100.5 97.3h0M97.3 81.6h0M94.4 66.8h0M116.9 85.9h0M105.7 73h0M95.1 87h0M105.9 84.4h0M104.9 91.6h0M91.4 76.4h0M110 80.4h0M99.2 71.1h0M100.5 97.9h0M112.9 80.6h0M98.2 94.6h0M101.4 92.1h0M108.5 84.8h0M103.8 93.7h0M108 87.6h0M111.2 82.4h0M96.1 86.7h0M100.1 78.1h0M104.8 68h0M113 93.1h0M89.4 72.7h0M100.4 74.1h0M105.6 85.3h0M108.8 82.4h0M101 83.5h0M117.7 78.9h0M92.7 86.9h0M99.5 85.4h0M92.5 84.2h0M106.4 83.7h0M97.4 80.1h0M104.4 74.5h0M113 86.9h0M86 85.5h0M100.4 81.2h0M109 92h0M114.9 89.2h0M110 67.3h0M110.8 78.4h0M106.8 66.3h0M113.7 91.6h0M113.5 75.1h0M88.9 83.2h0M111.8 81.8h0M112.9 75.8h0M105.6 86.6h0M103.5 76.9h0M94.6 80.9h0M119.6 91.5h0M103.9 91.6h0M113.5 84.1h0M120.8 90.1h0M106.8 84.2h0M104.4 84h0M112.7 86.6h0M113 71.9h0M102.4 93.7h0M84.7 72.8h0M110.6 87.8h0M100.6 79.9h0M110.4 83.9h0M117.3 78.1h0M115.5 101.1h0M105 97h0M101.6 71.1h0M106.6 70.4h0M96.4 85.2h0M111.7 78.5h0M106.5 96.2h0M108.9 77.9h0M108.2 72.7h0M93.1 88.2h0M97.7 100.6h0M107.6 81.3h0M94.8 80.5h0M112.5 95.2h0M116.6 80.1h0M104.4 83.6h0M98 75.5h0M114.8 78.4h0M98.1 79.6h0M103.5 78.4h0M116.2 91.6h0M111.5 79.9h0M98.6 85.8h0M113.7 94.7h0M112.5 87.2h0M107.7 73h0M115.2 85.1h0M98 89.1h0M106.3 82.7h0M117.1 86.2h0M98.9 90.4h0M114 87.7h0M92.8 82.2h0M89 91.4h0M117.8 73.9h0M94.5 76.4h0M87.3 93.9h0M95.1 93.8h0M102.1 101.4h0M102.6 67.2h0M114.7 89.5h0M94.9 93.1h0M102.1 67.9h0M99.8 73.9h0M114.1 80.7h0M106 72.2h0M100.2 72.6h0M106.9 83.4h0M95.1 98.2h0M107.9 95.7h0M117.6 78h0M102.1 75.4h0M100.5 69.9h0M103.5 64.9h0M91.4 91.6h0M102.3 89.3h0M120.5 87.2h0M102.8 87.5h0M103.7 73.7h0M99.8 86.4h0M100.1 92.4h0M94.1 85.7h0M116.7 80.4h0M87.4 84.5h0M104.6 75.7h0M114.4 79h0M87.8 87.1h0M110.1 81.6h0M108.1 76.2h0M97.4 74h0M98.3 66.6h0M106.1 84.3h0M109 86.1h0M104.3 83.6h0M96.4 96.8h0M113.8 82.6h0M113.3 90.6h0M116.6 95.3h0M97.2 61.9h0M96.9 70h0M95.2 81h0M98.4 65.1h0M86.3 75.9h0M96.6 80.9h0M90.1 82.6h0M113.7 87.2h0M118.1 72.1h0M96.5 83.6h0M98.9 83.5h0M119 100.8h0M109.6 87.5h0M104.8 61.5h0M102.5 93.9h0M99.5 86.3h0M107.6 87.5h0M99.3 95.6h0M105.8 93.9h0M104.2 80.3h0M111.1 77.8h0M109.7 84.9h0M111.3 83.1h0M98.5 88.6h0M111 83.8h0M100 88.9h0M102.7 75.5h0M107 78.2h0M104.3 84.2h0M95.5 93.2h0M109 85.6h0M107.1 79.3h0M94.8 99.6h0M104 84.9h0M130.4 91.7h0M111.7 89.6h0M99.5 83.2h0M103.1 78.3h0M102.5 87.1h0M108.2 94.1h0M100.6 78.5h0M98.8 78.7h0M112.8 66.4h0M102.5 77.8h0M116.3 84.7h0M114.3 75.8h0M89.4 88.6h0M106.9 82.4h0M110.8 87.4h0M114 91.8h0M99.4 73.3h0M97.5 74.9h0M96.2 82.9h0M109.8 82.9h0M98.9 80.4h0M121.1 82.2h0M103.2 77.4h0M118.6 84.2h0M106.7 85.7h0M102.7 67.3h0M112.3 80h0M87.4 78.4h0M92.3 73.3h0M94.7 83.3h0M107.3 91.1h0M105.7 77.4h0M116.1 91.7h0M110.2 80.8h0M112 83.1h0M103.5 80.2h0M103 99.9h0M103 79.9h0M102.9 66.9h0M103.8 97.1h0M100.6 82.7h0M120.6 78.1h0M110 78.5h0M101.3 82.7h0M105.9 76.8h0M101.2 66.7h0M91.8 87.6h0M112.8 74.2h0M94.2 87.9h0M98.9 93.6h0M110 86.5h0M95.3 84.9h0M106.6 94h0M102.2 80.4h0M111.4 101.1h0M117.3 77.7h0M107.5 85.1h0M95.1 84.1h0M101.9 76h0M103.5 67.3h0M111.9 63.7h0M104.7 89.9h0M97.6 73.8h0M98.1 96.3h0M103.9 84.5h0M117.5 82.4h0M112 70.4h0M95.1 87.7h0M107.2 78.2h0M94.7 98.8h0M103.9 79h0M106.6 86.2h0M98.9 65.9h0M91.5 98.1h0M99.5 90.1h0M95.5 89.9h0M108.9 83.1h0M109.2 80.7h0M108.4 105.2h0M111.1 94.8h0M114.7 100.2h0M111.6 82.2h0M108.2 83.3h0M101.3 98.3h0M100.2 92.3h0M114.3 90.9h0M89.1 81h0M122 79.4h0M118.3 85.9h0M103.4 80.4h0M104.5 88.4h0M88.9 81.5h0M87.3 81.8h0M107.8 73.5h0M105.2 80.2h0M110.2 95h0M91.3 90.7h0M103.5 91.1h0M102.4 78.7h0M106.4 79.5h0M97.3 89.9h0M102 77.6h0M102.7 78h0M109 81.6h0M114.3 78.6h0M98.8 82.2h0M98.8 80.1h0M101 76.8h0M103.5 98.2h0M101.2 75.2h0M110.5 80.3h0M92 88.6h0M96.3 75.4h0M117.8 87.7h0M98.7 88.8h0M119.9 69.7h0M110.5 70.3h0M106.7 72.8h0M113.5 90.1h0M99.7 78.2h0M98.2 96h0M104.7 83h0M114.7 84.4h0M91.3 79h0M98.6 88.4h0M98.1 83h0M95.5 95.6h0M102.6 74h0M108.1 77.7h0M103.7 62.5h0M114.3 65.8h0M111.5 89.5h0M89.9 72.3h0M103.2 91.6h0M102.6 95.9h0M111.6 74.1h0M100.3 80.6h0M118.4 77h0M94.4 85.2h0M106.4 92.7h0M109.7 86.7h0M98.1 85.8h0M96.8 100h0M84.5 79.1h0M89.4 88.9h0M94.4 93.1h0M108.3 98.5h0M108.5 73.3h0M110.8 81.9h0M127.3 75.8h0M108.4 84h0M99.4 80h0M132.2 91.1h0M103.9 92h0M106 89h0M102 85.1h0M100.9 90.5h0M94.4 93h0M97 87.8h0M85.9 83.4h0M101.3 96h0M104.2 78.7h0M91.2 58h0M103.2 78.9h0M97.2 89.6h0M107.4 70.5h0M92.5 67.2h0M90.5 91h0M101.5 89.2h0M109.4 71h0M105.2 78.5h0M115.6 85h0M102.4 79.8h0M106.9 84.4h0M112.7 73.9h0M102.3 83.3h0M111.1 69.1h0M102.4 81.6h0M110.6 85.4h0M110.7 71.2h0" stroke="#7ab8ea" stroke-width="1" stroke-linecap="round"/>
<path d="M104.5 79.9h0M103.1 81.1h0M108.1 81.1h0M108.4 84h0M107.5 77.9h0M110.1 80.8h0M103.1 78.6h0M102.9 78.6h0M105.4 84.4h0M100.1 83.6h0M112.4 78h0M102.9 91.1h0M100.3 76.9h0M110.2 78.9h0M107.1 86.5h0M110 83.7h0M101.4 80.9h0M100.6 86.4h0M102.9 86.1h0M103.9 90.4h0M108.2 88.4h0M104.6 82h0M99.4 78.7h0M102.8 80h0M102 86.5h0M97.1 79.8h0M103.3 83.9h0M93.3 81.3h0M105.7 77.7h0M96 82.9h0M110.6 85.8h0M110.8 88h0M96.5 85.8h0M106.6 85.2h0M103.6 79h0M99.9 85.8h0M102.3 83.2h0M105.1 96.1h0M101.2 76.3h0M103.1 80.3h0M106.8 86.9h0M103.9 87.1h0M105.6 83h0M109.1 79h0M100.1 81.2h0M106.6 82h0M107 85.3h0M110.1 81.1h0M98.6 87h0M106 82h0M99.9 82.3h0M101.9 82.3h0M98.6 87.7h0M102.5 84h0M98.9 83.8h0M99.4 88.1h0M98.2 91.2h0M103.2 77h0M92.8 83.5h0M101.1 85.1h0M106.3 86.5h0M100.7 77.5h0M105.1 76.3h0M99 81.8h0M102.8 84.9h0M102 83.2h0M101.6 81.9h0M106 86.5h0M102.3 80.7h0M106.2 87.5h0M96.4 91.6h0M107.6 83.4h0M99.6 86h0M108.2 83.7h0M112.5 86h0M103.6 88.7h0M100.9 83.8h0M98.3 83.8h0M102 83.2h0M100 86.7h0M109.4 78.4h0M102.9 83.6h0M100.1 82.9h0M102.3 89.2h0M110.3 83.5h0M98.7 80.6h0M102.1 78.6h0M99.9 80.8h0M106.3 86.6h0M104.2 86.2h0M100.1 78.5h0M108.4 86.3h0M101.5 88.4h0M107.4 83.5h0M105.8 82.5h0M111.7 84.7h0M110.2 82.6h0M102 86.6h0M100.1 95.2h0M104 85.9h0M99.6 81.5h0M106.5 85.3h0M113.5 82.9h0M101.4 85h0M96.4 86.2h0M109.4 82.7h0M111.4 77.7h0M103.6 85.4h0M107.8 81.1h0M104.4 84.6h0M96.2 82.9h0M98.6 81h0M104.8 91.5h0M102 85.2h0M101.4 79.7h0M98.5 91.2h0M109.3 85.6h0M102.2 87.3h0M107.6 90.5h0M108.5 78.4h0M100.3 80.6h0M100.6 84.1h0M114 82h0M106.2 77.6h0M104.9 79.5h0M99.3 81.6h0M104.7 80.1h0M108.2 76.2h0M105.3 82.7h0M107.7 83.7h0M96.4 86.4h0M105.4 80.3h0M105.3 82.6h0M108.5 78.1h0M89.5 94h0M108.5 87.4h0M107.8 80.9h0M100.8 75.1h0M103.4 82h0M102.8 84.3h0M107.6 78.6h0M109.1 85.2h0M94.8 83.4h0M100.4 85.2h0M106.7 81.2h0M101.3 82.6h0M109.8 80.2h0M98.1 80h0M107.5 81.2h0M106.4 77.5h0" stroke="#62a9e5" stroke-width="1" stroke-linecap="round"/>
<path d="M96.7 80.5h0M108.1 84.5h0M92.2 89.6h0M106.4 73h0M104.3 91.7h0M126.7 97.6h0M114.9 86.7h0M88.6 98.5h0M98.6 81.2h0M103 90.9h0M114.8 91.1h0M114.7 80h0M102.3 87.2h0M101.6 74.4h0M117.2 80.8h0M89.9 73.3h0M91.5 65.1h0M100.8 87.9h0M107.3 79.5h0M90.6 82.9h0M112.4 74.7h0M108.7 87.8h0M122.8 78.3h0M100 90.9h0M98.5 93.1h0M101.6 85.8h0M117.2 91.3h0M117.5 85.6h0M111.2 96.6h0M104.6 80.4h0M94.9 81.1h0M105.8 93.8h0M104.2 86.1h0M119 71.2h0M97 76.9h0M107.6 82.9h0M108.1 89.5h0M111.5 75h0M102.8 74.7h0M112.5 91.5h0" stroke="#7f8f9f" stroke-width="0.8" stroke-linecap="round"/>
<path d="M105.3 108.1h0M95.7 111.4h0M125.2 106.7h0M118.1 102.5h0M112.2 106.7h0M115.3 103h0M114 112h0M119.7 106.5h0M110.3 105.5h0M110.7 110.4h0M122.6 105.3h0M112.2 104.6h0M115.6 107.5h0M113.8 106.7h0M116.2 104.9h0M117.7 108.3h0M113.3 104.8h0M104.7 112.6h0M114.9 107.7h0M118.6 104.9h0M105.6 109.1h0M118.9 102.8h0M112.7 105.3h0M110.8 104.7h0M100.7 108.6h0M109.9 111.2h0M108.8 108.3h0M109.1 106.4h0M111.2 109.3h0M110.9 109.9h0M115.5 107.4h0M120.2 104.2h0M114.7 109.5h0M120.1 106.6h0M112.2 107.1h0M119.7 102.2h0M101.9 107.1h0M97.3 110.5h0M105.1 108.9h0M105.7 108.3h0M109.4 107.2h0M111.9 107.5h0M99.4 110.2h0M125.6 105.7h0M99.8 110h0M114.5 107.5h0M105.8 106.7h0M116.3 106.2h0M117.7 109.5h0M120.2 109.8h0M112.6 107h0M114.8 103.7h0M102.3 102.6h0M117.6 107h0M98.8 109.9h0M115.7 106.7h0M112.6 105.4h0M107.3 110.9h0M99.6 109.7h0M112.7 108.7h0M123.2 105.5h0M114.5 105.3h0M113.6 104.3h0M111.9 107.3h0M116.5 106h0M111.9 110h0M119.4 108.8h0M115.1 106.1h0M110 104.5h0M110 107.8h0M109.1 104.5h0M111.5 106.5h0M110 109.2h0M115.7 106.4h0M115.3 104.9h0M111.2 108.5h0M113 107.9h0M99.3 111.6h0M119.7 105.9h0M107.5 105.8h0M105.2 107h0M113.4 108.2h0M102.3 105.3h0M118 108.2h0M121.9 105.5h0M107.8 107.5h0M111.4 107.3h0M114.4 108.6h0M104.5 107.6h0M111.9 109.7h0M109.3 112.2h0M114.8 107.2h0M104.2 108.2h0M110.2 110.7h0M111.7 106.9h0M120.3 103.3h0M123.8 103h0M116.8 104.2h0M112.1 106.2h0M108.7 104.5h0M115.8 110.7h0M106.4 108.9h0M122.4 109h0M116.8 105.6h0M116.1 108.4h0M105 108.7h0M112.7 108.7h0M110.5 107.7h0M117.3 106.3h0M120.8 109h0M112.9 105.5h0M111.3 108.3h0M112.5 109h0M123.9 107.5h0M109.9 108h0M123.2 105.5h0M130.9 106.9h0M116.5 109h0M102.4 104.9h0M113.4 103.4h0M116.8 106.8h0M111.7 106.2h0M112.8 109.2h0M103 109.4h0M114.7 107.1h0M109.5 111.6h0M116.2 106.6h0M105.1 105.4h0M100.7 109.6h0M114.9 105.4h0" stroke="#6aaee6" stroke-width="1" stroke-linecap="round"/>
<path d="M95.2 114.2h0M83.6 114.2h0M80.5 118.3h0M80.4 116.1h0M90.8 115.6h0M86.3 114h0M77.6 116h0M80 116.5h0M86.9 115h0M80 112.6h0M84.3 116.3h0M78.5 112.4h0M81.4 117.9h0M92.4 112.1h0M81.5 116.2h0M74.9 117.6h0M76.8 112h0M95.8 114.9h0M92.6 116.2h0M84 113h0M78 113h0M89.6 115.8h0M83.9 115.5h0M83.7 112.3h0M82.2 115.7h0M75.8 118.2h0M87.5 113.8h0M92 115.4h0M85.2 112.5h0M75.8 117.2h0M98.3 116.1h0M86.8 116.6h0M78.4 112.6h0M77 117.7h0M82.1 116.4h0M92.4 114.3h0M87.3 113.5h0M74.9 116.8h0M86.2 116.4h0M86.8 113.2h0M75.4 116.4h0M79.3 116.2h0M90.9 111.7h0M78.2 112.1h0M96.2 116h0M74.8 116.4h0M95.3 114.9h0M90.3 109.9h0M80.4 114.2h0M78 115.7h0M88.7 112.1h0M85.1 117.2h0M80.8 116.3h0M85.3 116.3h0M83.6 117.3h0M84.1 115.4h0M76 114h0M82.8 116.1h0M89.8 114.5h0M81 117.7h0M81.1 114.9h0M82.2 116.7h0M90.7 114.5h0M82.8 117.3h0M79.4 116.7h0" stroke="#7ab6e8" stroke-width="1" stroke-linecap="round"/>
<path d="M82.3 115.6h0M77.1 117h0M90.5 115.5h0M87.2 116.4h0M83.9 113.3h0M95.8 111.9h0M84.9 113.9h0M88.3 114.2h0M81.3 113.5h0M81.7 115h0M85.8 114.5h0M81.7 116.6h0M79.3 118.2h0M81.7 114.8h0M75.7 116h0M93.5 113.5h0M86.8 114.2h0M88.5 115.4h0M75.7 117.2h0M80.3 114h0M76.3 117.2h0M88.7 116.4h0M86.4 117.6h0M94.3 112.3h0M84.1 114.4h0M86.7 113.6h0M88.6 113.5h0M82 116.3h0M79.7 115.1h0M78.7 115.7h0M81.2 116.5h0M82.6 115.8h0M92.8 115.4h0M84.2 117.9h0M89.3 115.5h0M87.7 117.7h0M86.9 117.9h0M87.2 117.3h0M88.2 114.1h0M86.9 117.1h0M78.2 118.4h0M84.9 114.2h0M83.5 114.6h0M84.9 114.6h0M80.7 118.1h0M76.8 114.9h0M85.7 113.3h0M85.4 113.7h0M89.5 115.4h0M86.2 115.1h0M78.3 116.1h0M84.7 116.6h0M89.2 113.6h0M84 114.9h0M85.2 116.6h0M84.2 114.9h0M84.8 116h0M81.3 115.6h0M83.7 115.3h0M78.4 117.5h0M81.6 115.9h0M88.6 115.6h0M79.3 114.1h0M85.8 117.4h0M73 118.5h0M75.4 117h0M90.3 117.2h0M84 117.2h0M81.5 115.9h0M78.3 117.8h0M78.1 117.7h0M86.6 113.2h0M78.9 116.3h0M87.1 113.3h0M86.4 116h0M82.9 115.5h0M86.6 112.7h0M80.8 115.8h0M83.4 115.4h0M82.5 118.2h0M85.9 116.6h0M83.2 115.2h0M89.4 113.2h0M83.9 116.4h0M84.4 115.2h0M79.3 115.6h0M84.9 116.2h0M79.7 115.8h0M84.1 116.3h0M84.8 115.7h0M83.3 115.5h0M95.2 110.8h0M79.5 115.7h0M82.5 113.8h0M91 114.1h0M75.7 113.8h0M94.2 111.7h0M83.6 116.7h0M78 117.3h0M87.2 118h0M80.6 113.9h0M78.7 117.8h0M85.7 116.4h0M89.7 115.5h0M77.4 116.7h0M82 115.2h0M77.7 115.5h0M86.8 117.2h0M79.1 114.4h0M84.1 111.8h0M75.4 118h0M89 112.9h0M80.7 116.6h0M81.4 115.7h0M82.3 116.9h0M86.5 117h0M76.7 116.6h0M83.2 113.3h0M84.5 115.2h0M76.9 115.3h0M83.2 116.3h0M83.2 113.5h0M84 115.7h0M76.9 114.1h0M83.4 117.2h0M83.5 116.1h0M85.4 114.6h0M82.6 116.3h0M82.9 114.6h0M89 117.1h0M93.1 114.9h0M83.4 114.6h0M73.8 116.9h0M78.9 115.9h0M79.6 115.1h0M89.6 115.4h0M87.8 114.4h0M76.7 116.2h0M87.7 117.5h0M88.6 115.6h0M86.5 113.5h0M78.8 114h0M88.3 116.2h0M82.3 115.9h0M82.1 114h0M93.1 115.8h0M83.7 115.5h0M77 117.3h0M89.2 112.4h0M91.6 114.6h0M83.9 114.9h0M80.2 113.6h0M86.1 116.2h0M79 114.2h0M84.9 117.7h0M85.9 114.5h0M88.5 114.5h0M93 116.5h0M86.1 115.8h0M87.1 115.2h0M85.2 114.3h0M90.9 115.1h0M82.7 115.1h0M85.8 116.4h0M81.9 117h0M85.5 116h0M85.4 114.6h0M79.3 114.7h0M82.6 113.3h0M78.1 116.7h0M86.2 114.8h0M87.3 115.8h0M85.8 116.6h0M87.4 114.1h0M85.7 115h0M89.4 116.2h0M85.9 117.4h0M77.9 114.6h0M78.5 113.2h0M83 113.2h0M88.7 115.7h0M86.7 116.2h0M77 116.7h0M84.4 117h0M73.5 116.8h0M85.4 117.1h0M85.6 115.1h0M92.7 114.9h0M80.7 116.6h0M79.4 115.6h0M81.8 115.9h0M88.4 116.1h0M84 117.2h0M83.5 117.2h0M84.8 114.5h0M78.9 116.9h0M88.5 114.9h0M75.4 115.7h0M83.1 116.8h0M84.3 117.3h0M82.5 116.6h0M86.3 116.2h0M82.6 115.5h0M84.7 115.5h0M80.6 117.7h0M86.9 116.3h0M85.4 115.5h0M80 117.7h0M81.4 115.8h0M91.2 115.9h0M87.2 114.3h0M77.4 117h0M83 116.5h0M79.9 115.8h0" stroke="#55a2e2" stroke-width="1.1" stroke-linecap="round"/>
<path d="M58.5 9.7h0M58.6 10h0M57.4 10.7h0M56.8 8.6h0M57.8 11.8h0M58 16.9h0M57.3 8.4h0M58.1 10.3h0M59.5 17.3h0M59.1 13.8h0M59.6 14.9h0M57.4 7.1h0M58.7 16.7h0M58.7 16.5h0M60 14.6h0M59.6 7.2h0M58.3 7.9h0M58.7 7.8h0M56.6 13h0M58.4 17h0M58.4 11.7h0M58.5 19.7h0M59.6 12.6h0M58 17h0M57.9 20.6h0M58.8 10h0M59.7 13.6h0M58.4 16.8h0M58.7 8.9h0M58 10.2h0M59.3 7.9h0M58.7 21.2h0M58.1 11.3h0M59 10.9h0M57.5 11.7h0M57.4 11.5h0M59.6 8.9h0M57.1 9.3h0M58.6 9.4h0M60.1 10h0M57.3 19.3h0M58.9 9.7h0M58.9 11.2h0M57.4 12h0M58.1 8h0M59.4 9.9h0M56.8 11.2h0M57.7 19.9h0M58 12.3h0M57.6 11.9h0M56.7 9.7h0M58.4 9.4h0M58.5 8.2h0M57.4 17.1h0M57.2 18.9h0M59.4 16.4h0M59.4 9.6h0M58.5 16.9h0M58.1 13.5h0M59 9.2h0M57.9 10h0M59.1 7.8h0M61.1 7.8h0M57.6 20.5h0M59.9 8.3h0M58.6 8.5h0M59.6 10.3h0M58.9 12.9h0M59.9 10.8h0M58.5 16.5h0M59 7.4h0M58.5 10.4h0M58.8 11.8h0M57.8 11.4h0M57.8 15.8h0M58.3 15.2h0M58.8 14.9h0M58.6 23h0M58.1 8.3h0M58.9 14.5h0M59.7 8.5h0M59.2 9.7h0M61 7.8h0M57.6 16.4h0M59.2 12.9h0M57.5 14.6h0M58.4 13.2h0M59.3 13.6h0M57.5 18.6h0M57.9 17.1h0M58.8 8.5h0M58.7 15h0M58.3 7.9h0M57.3 9.2h0M58.4 18.9h0M58.3 10.4h0M59.1 11.4h0M57.8 12.5h0M58.8 17.3h0M57.4 16.2h0M58.9 7.2h0M59.6 19.6h0M60.1 10.2h0M59.1 11.5h0M58.3 7.1h0M58.6 18.5h0M58.5 7.2h0M59.6 11.5h0M58.1 18.4h0M58.8 18.1h0M59.7 10.5h0M57.8 15.5h0M58 10.7h0M57.9 7.5h0M58.2 7h0M57.6 9.3h0M59.1 10.6h0M58.6 11.6h0M57 7.2h0M59 23.7h0M57.9 17h0M58.3 10.9h0M57.8 11.1h0M58.9 22.6h0M58.6 7.5h0M58.7 13.4h0M59.2 17h0M56.9 11.7h0M58.9 15.6h0M59.2 7.3h0M58.3 17.7h0M59 12.4h0M58.4 17.7h0M59.2 14h0M57.6 9.1h0M57.6 10.5h0M57.8 9.3h0M57.8 19.8h0M57.1 10.7h0M59.3 10.9h0M56.8 13.3h0M57.1 7.9h0M58 9.7h0M59.5 15.5h0M58.7 17.2h0M57.1 7.3h0M58.1 15.5h0M57.4 13.6h0M58.4 9h0M57 7.4h0M56.8 18h0M59.6 14.5h0M58.8 11h0M58.6 7h0M59.6 22.1h0M61.6 9.4h0M59.3 11.3h0M57.2 11h0M60.9 8.8h0M60.3 9.6h0M60.1 11.2h0M58.9 13h0M58.7 21.4h0M57 7.4h0M58.5 14.3h0M57.5 12.6h0M57.6 7.5h0M58.3 8.6h0M59 9.4h0M59.6 8.8h0M58.2 19.1h0M56.8 7.7h0M58.1 9.1h0M57.6 16.3h0M58.4 15.1h0M59.9 15.5h0M58.3 8.7h0M58.5 20.2h0M58.4 13.1h0M57.6 9.6h0M57.3 8.7h0M56.7 16.7h0M58.2 19h0M57.9 7.9h0M59 26.1h0M58.2 8.9h0M58.6 10.7h0M58.7 25.4h0M59.8 10.6h0M59.6 11h0M57.6 7.6h0M58.6 8.2h0M58.9 19.1h0M57.4 18.6h0M57.8 14.4h0M58.1 19.2h0M56.9 7.7h0M59.1 18.1h0M58.6 13.7h0M58.3 15.1h0M57.9 13.2h0M58.3 16.3h0M58.7 9.1h0M59.4 14.6h0M58.2 11.3h0M59.9 18h0M57.5 18.7h0M58.4 11.4h0M58 13.7h0M59.5 13.7h0M57.5 12h0M58.2 8.8h0M58.2 7.5h0M58.1 11.5h0M59.5 10.1h0M60.3 9.3h0M58.2 16.3h0M59.4 11.6h0M57.7 11.1h0M58.5 10.1h0M59.6 17h0M57.6 20.1h0M59.2 9.9h0M56.6 13.8h0M57.1 16.1h0M59.4 16.5h0M58.6 11.7h0M59.9 12.2h0M59.2 7.4h0M60.3 11.4h0M57.9 15.5h0M58.5 10.2h0M59 11.1h0M58 19.4h0M58.7 10.7h0M57.9 16.2h0M58.6 10.6h0M55.8 7.4h0M59.6 11.5h0M57.3 13.3h0M58.4 7.9h0M60.4 9.4h0M57.8 7.4h0M58.4 9.6h0M58.4 7.2h0M57 14h0M58.4 9.1h0M57.9 12.1h0M58.2 7.6h0M59.1 14.7h0M59.2 9.8h0M58.1 15.5h0M57.6 18.8h0M59.1 19.2h0M58.5 11.3h0M59.2 9.3h0M58.7 25.2h0M57.7 7.9h0M56.6 7.2h0M59.5 11.3h0M58.3 17.8h0M58.6 24.4h0M59 13.7h0M55.9 12.4h0M58.1 10.6h0M57.3 8.7h0M57 19.1h0M58.1 10.4h0M58.4 10.2h0M57.3 9h0M57.7 18.6h0M57.9 10.6h0M59.6 10.5h0M59 18h0M58.9 10.3h0M57.8 9.6h0M59.8 9.6h0M58.3 13.3h0M57.6 17h0M59.3 13.9h0M60.5 7.9h0M57.6 9.6h0M59 14.3h0M60 10h0M59.1 9.8h0M57 9.6h0M57.6 24.4h0M59.6 14.5h0M59.1 13.6h0M57.6 7.7h0M58.8 13.7h0M58.4 7.1h0M58.9 7.2h0M58 9.6h0M58.3 11.4h0M57.5 15.7h0M60.3 12.5h0M60.1 10h0M57.6 7.9h0M58.6 12h0M60.2 7.8h0M57.8 10.4h0M57.8 10.1h0M60.1 13h0M57.1 14.3h0M59.4 9.1h0M57.5 14.5h0M58 7.3h0M59.1 10.3h0M61.2 12.5h0M57.5 7.2h0M57.9 9.3h0M59.3 14.3h0M59.3 8.6h0M56 7.5h0M60.5 12.4h0M58 22.3h0M58.6 14h0M58 12.8h0M58.2 17.6h0M58.3 22.1h0M57.7 18.1h0M57 10.9h0M59.4 17.4h0M58.7 7h0M58 14.4h0M58.2 13.2h0M58.5 11.8h0M57.6 16.3h0M59.3 14.3h0M58.3 27.3h0M59.1 9.5h0M58.9 10.9h0M59.2 13.1h0M58.4 7.7h0M59.8 9.8h0M60.4 9.2h0M57.8 8.5h0M57.4 15.1h0M56.5 9.6h0M58.8 24h0M58.9 14.5h0M59.4 10.3h0M59.1 8.5h0M59.3 10.1h0M60.1 11.1h0M56.6 7.1h0M58.1 15.2h0M58.5 18.8h0M59.4 21.2h0M58.8 11.2h0M60.5 8.5h0M58.6 9.7h0M58.1 14.2h0M59.7 14.2h0M58.2 10.4h0M60.2 7.2h0M58.6 14.4h0M58.7 11.1h0M58.5 22.6h0" stroke="#45d838" stroke-width="1.1" stroke-linecap="round"/>
<path d="M57.3 14.7h0M57.6 29.1h0M57.3 10.3h0M56.3 8.9h0M55.5 16.5h0M57.1 10h0M59.1 8.1h0M53.4 9.4h0M59 17.2h0M57.1 14.1h0M58.9 8.1h0M60.3 10.3h0M61.5 17.5h0M58.8 13.9h0M57.1 15.8h0M56.8 10.5h0M58.2 12.8h0M55.9 13.7h0M58.3 16.2h0M62 15.2h0M58.5 12.6h0M53.5 8.5h0M57.7 7.2h0M58.1 17.8h0M58.1 7h0M59.7 15.7h0M58 22.6h0M58.5 12h0M59.4 10h0M59.6 12.4h0M59.8 28.2h0M61.5 16.3h0M58.8 17.6h0M58.3 8.7h0M59.5 10.4h0M60.1 8.7h0M56.3 10.7h0M56.9 25.3h0M56.7 23h0M58.2 21.2h0M60.6 12.5h0M60.2 16.8h0M60.7 10.7h0M58 24.2h0M59.2 8.8h0M54.6 15.1h0M60.5 21.4h0M58.6 9.6h0M58 21.7h0M58.6 12.3h0M58.6 8.8h0M59.9 10.2h0M56.5 7h0M59.1 7h0M54.5 8.6h0M58.5 16.8h0M61.4 13.4h0M59.4 15.9h0M60 13.9h0M56.6 19.1h0M60.6 9.5h0M55.7 9.4h0M58.8 13h0M57.1 15.3h0M57 11.5h0M61 10.8h0M56.7 7.6h0M56.4 18.5h0M58.9 10.8h0M59.1 24.7h0M58.2 18.1h0M59.6 10.6h0M56.5 25.1h0M55.9 19.6h0M59.6 13.6h0M58.1 10.5h0M58.4 8.3h0M58.6 13.9h0M61.3 14.9h0M61.8 14.8h0" stroke="#8fe58a" stroke-width="1" stroke-linecap="round"/>
<path d="M52.2 27h0M55.8 24.4h0M58 21.4h0M58.3 24h0M53.5 32.3h0M63.3 32.6h0M56.4 26.3h0M57.8 33.7h0M60.9 31.1h0M55 31.8h0M60.5 32.1h0M56 32h0M55.3 21.1h0M62.5 22.1h0" stroke="#86d486" stroke-width="0.8" stroke-linecap="round"/>
<path d="M38 6H163.1" stroke="#222" stroke-width="1.4"/>
<rect x="38.0" y="6.0" width="125.1" height="115" fill="none" stroke="#2a2a2a" stroke-width="1"/>
<path d="M38 120.5h-3M38.2 121v3M38 116.1h-2.2M43.1 121v2.2M38 111.6h-2.2M47.9 121v2.2M38 107.2h-2.2M52.8 121v2.2M38 102.7h-2.2M57.6 121v2.2M38 98.3h-3M62.5 121v3M38 93.8h-2.2M67.4 121v2.2M38 89.4h-2.2M72.2 121v2.2M38 84.9h-2.2M77.1 121v2.2M38 80.5h-2.2M81.9 121v2.2M38 76h-3M86.8 121v3M38 71.6h-2.2M91.7 121v2.2M38 67.1h-2.2M96.5 121v2.2M38 62.7h-2.2M101.4 121v2.2M38 58.2h-2.2M106.2 121v2.2M38 53.8h-3M111.1 121v3M38 49.3h-2.2M116 121v2.2M38 44.9h-2.2M120.8 121v2.2M38 40.4h-2.2M125.7 121v2.2M38 36h-2.2M130.5 121v2.2M38 31.5h-3M135.4 121v3M38 27.1h-2.2M140.3 121v2.2M38 22.6h-2.2M145.1 121v2.2M38 18.2h-2.2M150 121v2.2M38 13.7h-2.2M154.8 121v2.2M38 9.3h-3M159.7 121v3" stroke="#222" stroke-width="0.85" fill="none"/>
<text x="38.8" y="130.4" font-size="6.3" text-anchor="middle" fill="#1f1f1f" stroke="#1f1f1f" stroke-width="0.24">0</text>
<text x="33.6" y="119.5" font-size="6.3" text-anchor="middle" transform="rotate(-90 33.6 119.5)" fill="#1f1f1f" stroke="#1f1f1f" stroke-width="0.24">0</text>
<text x="63.1" y="130.4" font-size="6.3" text-anchor="middle" fill="#1f1f1f" stroke="#1f1f1f" stroke-width="0.24">200</text>
<text x="33.6" y="97.3" font-size="6.3" text-anchor="middle" transform="rotate(-90 33.6 97.3)" fill="#1f1f1f" stroke="#1f1f1f" stroke-width="0.24">200</text>
<text x="87.4" y="130.4" font-size="6.3" text-anchor="middle" fill="#1f1f1f" stroke="#1f1f1f" stroke-width="0.24">400</text>
<text x="33.6" y="75" font-size="6.3" text-anchor="middle" transform="rotate(-90 33.6 75)" fill="#1f1f1f" stroke="#1f1f1f" stroke-width="0.24">400</text>
<text x="111.7" y="130.4" font-size="6.3" text-anchor="middle" fill="#1f1f1f" stroke="#1f1f1f" stroke-width="0.24">600</text>
<text x="33.6" y="52.8" font-size="6.3" text-anchor="middle" transform="rotate(-90 33.6 52.8)" fill="#1f1f1f" stroke="#1f1f1f" stroke-width="0.24">600</text>
<text x="136" y="130.4" font-size="6.3" text-anchor="middle" fill="#1f1f1f" stroke="#1f1f1f" stroke-width="0.24">800</text>
<text x="33.6" y="30.5" font-size="6.3" text-anchor="middle" transform="rotate(-90 33.6 30.5)" fill="#1f1f1f" stroke="#1f1f1f" stroke-width="0.24">800</text>
<text x="160.3" y="130.4" font-size="6.3" text-anchor="middle" fill="#1f1f1f" stroke="#1f1f1f" stroke-width="0.24">1000</text>
<text x="33.6" y="8.3" font-size="6.3" text-anchor="middle" transform="rotate(-90 33.6 8.3)" fill="#1f1f1f" stroke="#1f1f1f" stroke-width="0.24">1000</text>
<text x="76.9" y="137.8" font-size="6.5" text-anchor="start" fill="#1f1f1f" stroke="#1f1f1f" stroke-width="0.24">Forward</text>
<text x="102.3" y="137.8" font-size="6.5" text-anchor="start" fill="#1f1f1f" stroke="#1f1f1f" stroke-width="0.24">Scatter</text>
<text x="25" y="64.2" font-size="6.5" text-anchor="middle" transform="rotate(-90 25 64.2)" fill="#1f1f1f" stroke="#1f1f1f" stroke-width="0.24">Side Scatter</text>
<polygon points="91.4,14.2 121.0,9.4 158.7,12.3 161.0,115.0 72.2,118.7 83.8,100.5 78.7,57.6" fill="none" stroke="#1c1c1c" stroke-width="1.35" stroke-linejoin="miter"/>
<rect x="48.5" y="6.5" width="19.2" height="29.9" fill="none" stroke="#1c1c1c" stroke-width="1.35"/>
<line x1="103" y1="21.2" x2="73" y2="14.8" stroke="#1c1c1c" stroke-width="1.3"/>
<polygon points="68.3,13.7 75.6,11.0 74.3,18.4" fill="#1c1c1c"/>
<text x="104.3" y="23.7" font-size="6.85" text-anchor="start" fill="#1f1f1f" stroke="#1f1f1f" stroke-width="0.24">Reference</text>
<text x="137.2" y="23.7" font-size="6.85" text-anchor="start" fill="#1f1f1f" stroke="#1f1f1f" stroke-width="0.24">beads</text>
<text x="116.6" y="98.1" font-size="6.85" text-anchor="start" fill="#1f1f1f" stroke="#1f1f1f" stroke-width="0.24">Analysis</text>
<text x="146.4" y="98.1" font-size="6.85" text-anchor="start" fill="#1f1f1f" stroke="#1f1f1f" stroke-width="0.24">gate</text>
<line x1="137" y1="112.9" x2="195" y2="112.9" stroke="#1c1c1c" stroke-width="1.35"/>
<polygon points="200.4,112.9 193.4,109.3 193.4,116.5" fill="#1c1c1c"/>
<text x="3.8" y="13.3" font-size="16.6" text-anchor="start" font-weight="bold" fill="#111">A</text>
<path d="M214.1 26.8h0M305.6 59.2h0M220.5 111.6h0M261.1 19h0M282 60.8h0M272.4 86.2h0M262.6 40.5h0M261.4 88.9h0M230.5 103.1h0M239.5 114.5h0M292 38.2h0M221.3 68.2h0M222.9 107.1h0M212.9 113.5h0M318.7 79.8h0M265.1 101h0M327.3 112h0M254.3 54.5h0M226.2 102.4h0M274.6 48.4h0M245.8 65.3h0M295.9 19.9h0M262 31.3h0M212.4 68.5h0M326.5 33.8h0M216 83.4h0M306.3 81.4h0M327.8 101.3h0M247.7 73.5h0M290.3 76.5h0M232.9 69.2h0M305.7 83h0M238.1 109h0M268.4 62.7h0M323.3 44.3h0M207.3 41h0M240.1 34.5h0M314.8 97.9h0M303.8 38.1h0M265.8 103.1h0M242 34.3h0M279.1 42.7h0M245.4 110.9h0M266.6 96.3h0M272.8 12.7h0M251.8 48.7h0M309.5 29.3h0M222.1 113.4h0M285.2 37.6h0M243.6 103h0M279.4 113.4h0M230.8 83.7h0M245.2 43.1h0M263.8 61.8h0M224.7 48.2h0M295.2 89.6h0M295.7 59.4h0M297.2 101.1h0M224.6 111.8h0M276.1 67.1h0M256.7 30.9h0M252 34h0M250.7 88.2h0M225.8 14.7h0M295.4 11.3h0M219.1 94.9h0M270.3 113.3h0M288.8 21.9h0M307 64.7h0M325.1 27.1h0" stroke="#a9bdd0" stroke-width="0.9" stroke-linecap="round"/>
<path d="M267.8 54.2h0M268.6 37.7h0M261.8 44.9h0M266.4 50.6h0M261.7 46.7h0M273.8 18.6h0M271.6 50.3h0M262.6 39.3h0M275.8 11.6h0M278.2 32.2h0M264.9 51.4h0M260.2 42.8h0M261.6 53.5h0M275.3 46.5h0M267.6 45.1h0M265.7 50.9h0M275.6 15.9h0M266.4 48h0M264.8 50.8h0M262.3 52.6h0M274.7 15.4h0M266.8 49.8h0M275.1 21.8h0M268.2 28.3h0M266.3 47.8h0M271.7 9.4h0M266.4 41.8h0M263.8 50.8h0M270.1 9h0M277.2 37.2h0M261.5 35.9h0M275.1 42.6h0M272.5 35h0M277.8 19.6h0M263.2 46.3h0M269.4 50.4h0M261.1 44.2h0M268.8 42.7h0M271.9 24h0M271.7 19.2h0M260.4 51.5h0M268.1 50.8h0M275.9 32.1h0M278.4 19.9h0M266.7 38.6h0M276.9 45.2h0M263.9 44h0M265.6 31.5h0M273.9 40h0M272.6 12.7h0M270.1 42.4h0M270.8 51.5h0M274.5 28.8h0M269.3 28h0M263.6 50.8h0M269.4 51h0M268.1 49h0M258.9 48.1h0M265.5 48.8h0M264.5 47.9h0M263 51.9h0M268.7 36.2h0M269.8 38.9h0M267.8 54.4h0M265.7 44.4h0M265.9 47.4h0M272.8 9.4h0M264.2 38.4h0M263.5 26.3h0M271.5 40.2h0M270.8 29.3h0M273.9 45.4h0M274.1 9.1h0M262.5 39.4h0M267.2 48h0M274.7 11.2h0M263.1 46.4h0M268.6 42.2h0M271.1 48.1h0M265.3 55.3h0M272.2 43.6h0M274.8 13.8h0M275 27.3h0M271.6 31.4h0M269.3 28.9h0M261.4 41.6h0M269.9 37.5h0M271.9 48.3h0M279.5 14.3h0M267.3 44.7h0M269.4 43.1h0M276 14.6h0M267.9 43.7h0M275.3 19.4h0M267.8 40.9h0M273.9 40.1h0M273 31.1h0M262.1 52h0M270.1 41h0M267.4 46.9h0M271.9 44h0M265.7 31.6h0M265.8 51.7h0M269.1 50.7h0M277.7 15.9h0M262.8 40.5h0M268.4 31.1h0M266.9 46.9h0M266.8 54.6h0M270.7 53.5h0M281.9 16.5h0M264.7 47h0M270.6 22h0M268.3 44.2h0M267.3 44.6h0M275.4 14.4h0M265.6 42.8h0M265.9 50.8h0M268.1 29.8h0M274.5 45.1h0M274.8 16.5h0M280.5 11.1h0M259.3 52.8h0M268.8 48.6h0M275 25h0M274.2 24h0M261.7 47h0M270 43.9h0M266 35.1h0M261.7 41.3h0M266.4 37.6h0M261.9 51.3h0M277.9 26.5h0M267.2 36.5h0M270.6 31.1h0M269.3 41.1h0M265.7 26.5h0M272.3 10.3h0M265.3 52.4h0M266.1 56h0M269.1 27h0M273 50.4h0M267.9 46.9h0M270.8 43.3h0M273.3 25.3h0M274.1 50.4h0M268 44.7h0M264.1 48.1h0M274.1 13.7h0M272.7 11.3h0M256.3 50.4h0M269.9 43.4h0M268.6 47.4h0M269.8 35.7h0M271.9 34.7h0M262.6 48.2h0M276.1 26.7h0M272.8 35.7h0M268 44.8h0M264.8 39.8h0M262.1 50.2h0M272.3 27.6h0M264.2 32.3h0M271.6 6.8h0M270 25.6h0M267.8 43.9h0M274.3 15.8h0M267.2 51.8h0M272.9 37.8h0M265.6 39h0M273.9 24.8h0M268.6 41.1h0M266.8 52.1h0M267.1 32.5h0M265.1 53.7h0M276.6 20.6h0M269.1 40.6h0M267 39.3h0M261 51.3h0M262.8 42.3h0M264.8 49.5h0M266.2 54.2h0M276.1 21.5h0M270.7 28.9h0M263.6 41.6h0M265.1 45.1h0M259.5 51.6h0M264.1 54.2h0M269.2 27.1h0M271.8 29.1h0M282.1 14.5h0M277.9 10.1h0M265.4 44.6h0M261.9 49.8h0M279.4 18.2h0M268.9 31.1h0M268.6 11.7h0M271.6 19.2h0M262.3 53.7h0M265.8 46h0M278.4 13.4h0M264.4 54.8h0M264.3 45.7h0M270.1 19h0M272.8 28.3h0M265.5 53.7h0M267.1 45h0M272.3 33.4h0M267.2 35h0M264 51.9h0M264.6 49.8h0M263.2 35.7h0M263 43.2h0M264.1 42.7h0M263 50.3h0M271 53h0M268.5 34h0M265.3 52.2h0M268.2 42h0M271.3 46.7h0M266.9 49.4h0M271.6 30.1h0M260.3 52.4h0M271.7 16.3h0M276.7 53.6h0M273 24h0M272.8 12.6h0M272.2 47.1h0M263.2 52h0M278 17.4h0M266 44.3h0M270.1 38.9h0M271.4 37.2h0M270.1 27.8h0M259.5 48.9h0M272.9 30.1h0M260.3 51.7h0M266.9 50.8h0M261.2 44h0M257.2 48.9h0M263.2 53.2h0M271.9 30.6h0M259.6 51.7h0M265.9 35.3h0M268.1 31.9h0M259.3 54.3h0M264.8 47.2h0M267.2 32.3h0M269.7 35.1h0M274.1 16.4h0M264.3 17.5h0M271.5 18.6h0M276.4 21.8h0M275.9 18.2h0M269.9 24.9h0M275.9 13h0M273.9 11.3h0M275.7 16.8h0M274.7 38.5h0M273.7 28.3h0M274.8 13.5h0M269.7 30.5h0M267.1 38.9h0M278.1 25.5h0M273.7 23.3h0M269.9 27.9h0M272.8 46.5h0M273.1 38.7h0M267.7 49.1h0M268.4 26.6h0M268.8 43.9h0M277.7 8.5h0M271 29.9h0M265.9 45.8h0M263 52.2h0M268.5 22h0M264.8 32.9h0M271.1 28.8h0M269.5 46.8h0M260.4 41.5h0M275.1 16.8h0M262.8 46.8h0M264.5 34.3h0M261.4 44.3h0M262.4 44h0M264 49.1h0M270.2 43.7h0M279.5 10h0M272.6 53.6h0M274.8 23.9h0M266.3 44.3h0M268.5 51.1h0M271.1 23.6h0M280.5 31.4h0M276.4 15.3h0M259.5 49.4h0M266.2 41.3h0M265 44.7h0M269 22.1h0M275.5 42.6h0M270.6 29.3h0M269.8 34.1h0M264 43.6h0M264.1 19.9h0M272.3 18.9h0M271.9 23.5h0M263.6 46.6h0M278.7 15.4h0M258.5 46.7h0M275.8 31.2h0M276.5 22.3h0M254 54.4h0M266.6 47.6h0M270.1 27.7h0M263.1 44.7h0M267.8 35.2h0M264.6 45.3h0M264.8 37.4h0M264.5 45.2h0M260.6 38.3h0" stroke="#6aaee6" stroke-width="1" stroke-linecap="round"/>
<path d="M269.1 17.3h0M277.9 54.9h0M278.2 25.7h0M268.2 45.1h0M269.1 45.5h0M265.4 50.2h0M268.5 20h0M269.4 43.7h0M264.2 47.5h0M268.9 28.4h0M276.3 45.6h0M264.4 49.3h0M268.4 46.5h0M274.7 13.6h0M267.9 25.1h0M270 18h0M272.3 63.6h0M266.7 54h0M283.9 35.1h0M282.9 16.2h0M278.5 25.9h0M272.9 54.9h0M268.2 24.4h0M254.2 31.1h0M278.1 53.4h0M265.9 25.7h0M269.6 62.1h0M266.2 36.8h0M273.5 36.2h0M260.7 10.7h0M267.7 65.1h0M278.8 32.7h0M264.8 51.2h0M287.6 59.7h0M257.5 38.6h0M260.9 40.2h0M259.5 54.3h0M273.4 24h0M267.6 25.9h0M283.9 18.7h0M276.4 30.9h0M261.9 19.9h0M288.5 55.4h0M267.4 39.6h0M262.1 58.9h0M267.9 42.8h0M279.3 20.6h0M261.4 25.2h0M272.2 18.7h0M275.4 38.1h0M272.1 34.5h0M268 26.2h0M280 54.7h0M274.4 30h0M272.9 32.4h0M267.5 22.7h0M265 27.2h0M267.3 23.2h0M273.8 32.2h0M270.1 41.6h0M274.1 32.2h0M269.5 43.1h0M263.4 21.5h0M275.1 25.7h0M277.3 21.7h0M250.1 22.1h0M281.9 44h0M272.8 33.7h0M251.3 26.3h0M260.8 40.1h0M261.1 48.8h0M265.6 29.4h0M270.1 42.3h0M280 22.4h0M268.5 40.4h0M277 22.6h0M272.1 10.3h0M279.1 18.3h0M259.4 71.2h0M267.8 20h0M249.8 13.3h0M274.5 27.5h0M273.1 32.5h0M258.4 17.1h0M278 7h0M268.3 37.6h0M260.9 37.8h0M282 32.5h0M271.6 30.9h0M272.4 39h0" stroke="#8cbfe8" stroke-width="0.9" stroke-linecap="round"/>
<path d="M275.4 98.5h0M271.2 59.5h0M249.6 85.1h0M253.8 73.5h0M262.6 81.4h0M255 66.3h0M274.6 62.4h0M259.2 106.6h0M284.8 84.3h0M273.6 110.1h0M290.3 82.1h0M277.2 65.9h0M273.4 69.4h0M262.9 81.2h0M276.8 72.5h0M256.2 70.2h0M272.1 76.5h0M269.7 102.9h0M276.1 70.6h0M263.9 77.6h0M274.9 74.5h0M257.4 72.1h0M271.2 88.9h0M265.5 70.4h0M262.6 90.7h0M256.6 104.1h0M271 65.3h0M274.2 99.6h0M274.9 51.8h0M245.8 82.1h0M268 67h0M268.2 99.1h0M262.3 59h0M259.5 63h0M277.1 66h0M270.8 83.1h0M264.1 91.7h0M249.1 75h0M278.4 50.9h0M265.7 82h0M263.2 48.5h0M273.5 84.7h0M285 60.5h0M272.5 92h0M268.4 81.3h0M257.1 74.6h0M248.2 71.3h0M270.9 71.9h0M277.7 81.9h0M267.4 107.5h0M270.2 84.4h0M265.1 38.6h0M264.4 51.7h0M270.3 54.9h0M270.4 92.3h0M275.4 69.7h0M262.9 76.5h0M267.7 69.3h0M259.1 83.1h0M263.2 86.9h0M261.8 66.2h0M276 62.4h0M271.3 87.5h0M259.3 51.6h0M271.3 52.4h0M259.6 65.4h0M265.2 80.8h0M273.4 49.3h0M278.1 84.8h0M260.2 90.1h0M255.6 48h0M259.6 47.3h0M282.5 96.2h0M255.6 65.2h0M278.3 93.9h0M268.5 66.1h0M272.3 65.1h0M265.7 65.7h0M263.8 70.2h0M256.9 73.7h0M267.1 86h0M256.9 72.3h0M261.6 85.1h0M256.5 88.9h0M272 104.9h0M250.7 83.5h0M276.3 98.8h0M269.3 61.3h0M270.2 83.8h0M264.4 86.5h0M278 79.6h0M282.2 63.9h0M258.9 103.4h0M270.5 87.9h0M276.6 78.8h0M256.3 83.5h0M262.8 73.3h0M271.2 72.2h0M257.3 74.1h0M268.5 76h0M249.9 53.9h0M273.6 60.9h0M281.2 59.5h0M269.5 82.2h0M269.6 90.4h0M275.8 82.4h0M280.5 97.4h0M263 43.8h0M283.2 58.5h0M264.6 81.3h0M264.6 74.9h0M268.6 72.7h0M260.5 67.1h0M276.6 76.5h0M266.5 44.8h0M258.9 70.5h0M267.4 53.9h0M247.6 63.9h0M276.5 90.7h0M274 89h0M278.5 89.1h0M270.4 59.6h0M264.2 62.3h0M267.9 74.7h0M273.7 90.9h0M280.7 87.4h0M267.9 62.3h0M272.9 90.4h0M281.1 50.1h0M267 55.1h0M254.4 62.6h0M257.4 58.2h0M263.5 71.1h0M255.7 81.4h0M270.1 44h0M270.4 67.5h0M271.4 64.2h0M282.2 60.2h0M253.4 79.6h0M268.9 87.3h0M266.5 90.5h0M267.5 80.6h0M259.5 79.5h0M264 44.7h0M254.8 83.6h0M279.3 98.3h0M264.8 86.6h0M247.1 73.8h0M267.1 75.1h0M259.6 81.8h0M269.4 85.9h0M256.7 79.8h0M267.8 71.3h0M256 62.3h0M279.3 86.2h0M264.3 75.4h0M251.8 103.6h0M263.9 103.9h0M264.2 96.9h0M261.3 56.6h0M267.1 92.9h0M274.7 88.6h0M270.6 86.9h0M273.3 63.1h0M263.8 72.9h0M266.9 85.5h0M279 50.5h0M273 87h0M270.2 75.6h0M267.9 69.6h0M275.2 60.9h0M266.7 69.3h0M259.9 64.4h0M263.3 56.8h0M270.8 86h0M277.3 69.6h0M259.1 56.1h0M259.3 80.2h0M250.1 91.9h0M272.2 93.2h0M259.8 63.6h0M268.2 71.1h0M266.6 93.9h0M281.5 73.4h0M265.5 91.2h0M265.4 65.8h0M267.8 90.1h0M261.7 77.8h0M260.6 79.8h0M265.6 66.9h0M263.5 49.5h0M264.9 74.6h0M273.4 70.3h0M264.8 64.7h0M259.5 87.2h0M260.6 53.8h0M269.8 80.6h0M259.8 69.9h0M283.3 60.4h0M257.4 65.2h0M272.2 39.8h0M278.4 72.8h0M254.5 64.3h0M263.1 82.6h0M284.6 81.1h0M269.4 71.7h0M268.9 63.5h0M259.4 78.5h0M264.8 40.2h0M282.2 50.1h0M249.2 79.4h0M261.6 75.4h0M265 91.4h0M261.6 85.7h0M273.7 87.8h0M265 75.9h0M272.6 97.9h0M252.7 76.7h0M274.6 72.3h0M255.3 61.4h0M253.1 88.3h0M267.5 92h0M274.2 61.8h0M259.7 95.5h0M263.7 55.4h0M260.5 78.3h0M264.6 55.8h0M272.7 71.5h0M276.2 58.2h0M263.4 77.5h0M261.4 86.2h0M283.8 79.1h0M264.6 79h0M276.7 97.2h0M274 73.2h0M255.3 62.2h0M271.7 72h0M249.5 98.2h0M255.3 66.5h0M270.6 87.6h0M256.8 85.9h0M273.5 64.5h0M276.6 78.2h0M268.5 69.2h0M274.3 89.9h0M285.1 81.6h0M262.7 56.8h0M266.8 68.1h0M267.1 67.7h0M273.9 71.3h0M253.5 78.4h0M272.7 64.1h0M273.8 97.2h0M278 62.4h0M265.8 76.6h0M265.9 78.1h0M251.3 88.9h0M256.5 80.7h0M267.3 75.9h0M258.7 97.7h0M247.2 60.1h0M260.9 70.6h0M263.7 77.2h0M260.4 86.8h0M257.5 80.3h0M280.7 56.5h0M263.3 84.2h0M264.6 67h0M264.9 75.6h0M278.7 62.3h0M265 80.1h0M272 65.7h0M267.7 70.8h0M274.8 78.4h0M276.7 78.4h0M271.8 86.1h0M271.5 75.6h0M263.8 48.5h0M269.6 69.8h0M271.4 84.5h0M257.6 92.4h0M256.7 72.5h0M283.2 82.8h0M260.6 67.2h0M265.9 76.5h0M262.5 70.6h0M273.1 74.5h0M255.7 91.7h0M254.9 83.2h0M260.2 76.7h0M265.1 59.4h0M265.2 70.9h0M273.9 60.9h0M256.4 71.2h0M271.4 85h0M264.6 76.9h0M254.7 74.2h0M261.8 60.8h0M265.6 67.4h0M279.5 75.4h0M265.6 81.8h0M272.7 69.6h0M263.8 75.4h0M268.5 66.9h0M278.8 74.9h0M273.5 81.4h0M261 76.3h0M259 52.6h0M274.9 56.7h0M271.7 64.6h0M254.2 58.9h0M264.1 93.6h0M271.9 77.8h0M260.5 74.8h0M262.6 74.5h0M261.3 64.6h0M261.2 85.4h0M271.8 80.7h0M272 85.8h0M267.8 71.6h0M267.8 90h0M268.7 88.8h0M259.4 70.4h0M284.9 89.9h0M267.4 87h0M269 88.9h0M275.1 81.9h0M275.4 70.5h0M266.8 79.6h0M269.7 76.3h0M275.9 65.7h0M258.4 91h0M271.7 77.5h0M264.3 88.3h0M266.6 91.6h0M263.1 77.2h0M269.2 72.7h0M260.2 53h0M256.7 94.4h0M271.2 63.5h0M261 73.9h0M269 75.1h0M284.8 48.1h0M265.9 88.8h0M272.9 71.1h0M265 77.5h0M261 103.9h0M269.7 99.1h0M264.3 79.2h0M270.4 63.4h0M266.7 87h0M259.5 53.5h0M259.2 78.1h0M261.9 90.2h0M254.1 78.5h0M263.8 81.6h0M272.4 75.1h0M259.5 75.1h0M254.4 62.2h0M271.5 54.4h0M272.6 59.1h0M250.9 74.8h0M262.5 78.5h0M266.3 83.6h0M269.7 80.5h0M248.8 81.6h0M276 80.9h0M281.1 69.8h0M263.1 62.5h0M279.7 69.4h0M272.5 93.3h0M266.1 72h0M247.2 70.4h0M263.7 93.8h0M271.5 75h0M267.6 93.7h0M271.4 68.9h0M265.2 66.4h0M274 77.4h0M267.4 69.4h0" stroke="#80bbea" stroke-width="0.9" stroke-linecap="round"/>
<path d="M277.3 73.4h0M274.2 47.2h0M276.2 63.8h0M267.6 67.8h0M282.3 67.2h0M270.1 90.5h0M275.2 81.5h0M267 65h0M285.9 69.2h0M281 57.7h0M280 84.1h0M271.6 91.4h0M278.5 74.6h0M274.1 76.6h0M271.6 65.1h0M271.9 77.6h0M273 84.6h0M276.4 75.4h0M268 88.5h0M275 51.2h0M273 73.2h0M276.8 49.3h0M276.5 72.2h0M281.7 84.7h0M267.6 79.8h0M275.2 76.5h0M276.7 66.4h0M271.2 71.1h0M273.4 64.7h0M283.6 47h0M279 63.7h0M275.9 86.3h0M268.4 61.8h0M271.8 86.9h0M269.9 68.6h0M271.4 53.8h0M274.4 76.3h0M280.2 60.5h0M269.9 77.4h0M272.4 58.8h0M276.6 73.3h0M266.6 65.4h0M272.5 75.2h0M279.5 72h0M278.7 68.7h0M277.2 76h0M281.8 64.7h0M265.2 64.6h0M274.1 86.1h0M277.7 54.2h0M283.6 66.7h0M274.7 69.9h0M275.1 58.7h0M276.4 75h0M279.7 82.9h0M275 66h0M275.8 63.5h0M276.4 85.1h0M275.8 84.5h0M274.3 64.6h0M268 60.2h0M275 69.5h0M269.9 49.1h0M268.7 73.7h0M276.3 79.7h0M274.1 89.5h0M269.9 95h0M270.1 84.8h0M279.8 87.4h0M280.9 79.6h0M277.7 82.3h0M279.5 92.5h0M277 91.7h0M271.9 53.1h0M279.1 79.3h0M268.9 84.8h0M266.5 74.5h0M272.9 72.7h0M277 66.6h0M283 46.6h0M279.7 59.4h0M274.3 68.3h0M278.3 86.1h0M271 79.4h0M281.2 70.7h0M277.6 78.7h0M277.9 72.7h0M271.9 76h0M275.1 78.8h0M272.8 62.8h0M269.1 70.8h0M275.3 61.5h0M278.6 70h0M277.7 54.5h0M273.6 87.3h0M276.3 74.7h0M272.4 53.8h0M272 64h0M272.7 79.8h0M274.8 81.3h0M287.8 76h0M267.5 28.5h0M267.4 75.2h0M273.9 63.1h0M273.2 80.2h0M276.9 64.2h0M279.6 100.6h0M276.3 60.9h0M284.6 61.4h0M279 93.5h0M274.2 90.2h0M276.5 73.5h0M281 62.9h0M271.7 61.2h0M274.5 69.9h0M269.8 77.7h0M280.9 85.7h0M278.3 54.3h0M278.2 47.9h0M282.5 74.9h0M265.7 76.1h0M277.7 93.6h0M277.9 78.8h0M276.7 54.6h0M273.1 70.3h0M277 73h0M279.4 80.9h0M282.5 101.3h0M274.5 51h0M274.1 47.9h0M278.3 103.6h0M274.7 53.4h0M273.7 83.8h0M268.1 86h0M276.5 72.9h0M270.3 66.3h0M282.7 77.7h0M272 72.4h0M277.3 74.4h0M274.9 60.7h0" stroke="#7ab8ea" stroke-width="0.9" stroke-linecap="round"/>
<path d="M257.5 82h0M266.8 67.6h0M271.3 71.4h0M262.7 81h0M265.2 88h0M270.7 60.6h0M262.3 86.9h0M265.1 74.2h0M262.9 89.9h0M260.3 69.7h0M262.4 74h0M261.3 81.4h0M269.2 78.1h0M262.8 72.9h0M267.5 72.5h0M267.7 88.9h0M259.2 82.3h0M262.3 80.2h0M268.6 67.8h0M268.8 79.6h0M263.3 57.3h0M266.3 65.5h0M263.2 61.3h0M265.1 70.8h0M265.9 68.2h0M258.7 78h0M262.5 91.4h0M261.2 77h0M260.3 75.6h0M268.7 71.4h0M264.8 73.6h0M269.5 69.2h0M256 73.9h0M261.2 68.8h0M266.8 74.3h0M261.4 58.5h0M272.5 70.6h0M266 76.2h0M264.3 61.6h0M261.8 72h0M255.4 94.7h0M262 54h0M260 81.1h0M260.5 72.3h0M260.7 61.8h0M255.6 78.1h0M267.1 80.7h0M260.5 79.8h0M259.8 75.4h0M265 72.1h0M264.1 65.8h0M269.8 69.5h0M261.6 68h0M246.8 92.9h0M268.4 80.2h0M258.4 94.6h0M263.1 86.3h0M264.5 74h0M266.8 82.9h0M263.8 80.8h0M260 78.3h0M262.6 79h0M254 78.3h0M267 78.2h0M266 72.2h0M270.7 82.3h0M265.6 57.5h0M268.6 94h0M262.5 90.5h0M263.1 67.8h0M271 92.5h0M265.8 72.3h0M264.5 67.1h0M260.2 58.4h0M265.3 54.2h0M266.4 80.3h0M263.4 80.4h0M267.1 69.3h0M255.6 88.1h0M268.3 68.7h0M267.1 69h0M255.6 83.3h0M259.1 73.9h0M254.7 75.6h0M268.1 72.3h0M268.5 86h0M271.1 82.3h0M266.7 74.7h0M264.9 66h0M262.5 61.4h0M273.2 68.8h0M260.4 91.2h0M269.8 68.5h0M261.2 84.3h0M257.2 83.1h0M262.4 80.3h0M258.9 93.3h0M260.9 75.8h0M256.8 90.1h0M270.1 74.5h0M270.8 73.5h0M262.5 68.1h0M260.6 81h0M270.1 63.4h0M259.3 73.2h0M247.3 88.4h0M259.8 89.1h0M266.5 73.8h0M256.4 66.6h0M264.2 75.4h0M273.6 84h0M258.5 93.5h0M263.9 68.6h0M261.5 79.8h0M267 84.7h0M260.2 83h0M262.5 90.1h0M265 67.1h0M261 78.4h0M261.7 89.8h0M266.1 54.5h0M254.2 85.9h0M261.8 87.8h0M257.4 84.1h0M267.8 85.6h0M269 60.5h0M268.3 83.2h0M279.3 86h0M264.1 59.2h0M267.8 69h0M262.2 90.4h0M262.1 61.5h0M264.3 82.3h0M258.4 83.3h0M265.7 67.3h0M257.1 78.9h0M261.7 83.9h0M260.4 77.6h0M272.1 67.2h0M272.3 91h0M267.2 69.5h0M257 67.8h0M262.9 91h0M258.8 91.9h0M257 87.1h0M253.5 92.3h0M267.9 75h0M262.7 76.2h0M250.5 89.1h0M263.2 68.9h0M263.3 84.1h0M267.6 83.6h0M257.5 69.4h0M256.5 79.6h0M256 90.9h0M265.1 76.6h0M269.9 91.2h0M261.7 88.8h0M260.2 75h0M267.8 74.6h0M257.2 83.6h0M268.1 75.2h0M264.1 71.2h0M264.4 91.9h0M262.2 84.1h0M264.7 74.5h0M267.3 92.8h0M251.7 84.9h0M265.2 90.4h0M267 69.1h0M266 69.9h0M270.2 87h0M267.1 66.9h0M258.9 89.7h0M254.2 89.6h0M262.1 73.6h0M265.6 69.4h0M267.1 76.9h0M259.7 67.7h0M258.7 72.8h0M257.7 84.9h0M270.1 67h0M258.1 62.2h0M268.8 71.9h0M265.3 81.2h0M258.4 75.5h0M264.8 72.5h0M255 84.1h0M263.4 64.3h0M259.3 87.3h0M259.2 83.4h0M265.6 82.1h0M261 89.9h0M264.4 82.5h0M261.1 79.6h0M260.9 70.8h0M265 63.9h0M270.6 67.5h0M255.6 88.3h0M265.1 84.6h0M273.7 71h0M257.7 78.6h0M260.9 93h0M258.7 78.2h0M260.3 89.1h0M259 88.4h0M265.9 64h0M264.1 70.9h0M261.9 65.9h0M268.7 76h0M264.3 84.3h0M269.8 76.4h0M267.3 76.2h0M262 69.7h0M260.4 76.6h0M267.8 69.2h0M266.2 76.8h0M275 84.6h0M263.3 83.7h0M265.2 74.5h0M267.6 87.9h0M256.5 61.1h0M255.4 82.7h0M269.9 93.9h0M255.2 78.9h0M265.5 60.4h0M273.9 90.9h0M267.3 86.6h0M264.5 65h0M266.3 93.4h0M265.5 85.1h0M264.6 77.8h0M268.2 93.4h0M261.6 75.7h0M262.5 55h0M259.2 74.6h0M264 92.7h0M259.4 85.3h0M259 75.2h0M256.4 85.2h0M267.1 57.5h0M264.4 80.8h0M263 72.1h0M264.7 85.3h0M265.1 89.1h0M256.7 67.8h0M272.1 75h0M259.6 90.5h0M264.5 73.2h0M267.1 73.1h0M269.1 62.5h0M265 72.8h0M266.6 74.4h0M260 76.9h0M261.3 72.7h0M268.2 82.5h0M262.1 93.6h0M263.3 64.9h0M267.5 78.3h0M263 77.5h0M266.1 72.4h0M269.5 77.1h0M269.6 63.5h0M268.9 86.6h0M265.7 82.5h0M271 93.6h0M262.6 67.9h0M269 72h0M267.3 66h0M264.4 56.4h0M268 87.4h0M251.5 85.4h0M275.1 75.5h0M257.5 81.7h0M262.3 75.8h0M267.9 85.1h0M261.6 76.8h0M267.3 71.7h0M269 80h0M262.4 76.4h0M259.4 81.6h0M268.3 73.8h0M269.6 67h0M272.7 92.4h0M262.7 72.1h0M270.2 91.1h0M265.5 85.3h0M270.7 83.5h0M269.1 69.2h0M262.8 75.4h0M260.8 86.3h0M266.9 80.4h0M264.3 92.9h0M270 86h0M263 72.8h0M251 83.1h0M264.1 90.9h0M257.7 64.8h0M264.8 90.9h0M265 86.9h0M268.7 64.5h0M257.7 87.7h0M270.1 82.9h0M265.7 91.1h0M260.4 52.9h0M259.9 70.3h0M258.1 92.9h0M257.8 85.2h0M249.8 86.2h0M267.3 83.1h0M263.6 87.2h0M257 67.1h0M253.9 94.5h0M263.4 62.3h0M269.2 81.4h0M262.6 81.9h0M264.6 67.1h0M258.5 81.2h0M263.8 59.9h0M256.6 88.2h0M267.8 70.1h0M263.2 88.4h0M266.3 69.9h0M265.6 72.1h0M272.9 87h0M267.3 80.5h0M262.5 72.7h0M259 93.7h0M262.1 71.5h0M266.5 82.8h0M250.6 85.1h0M261.3 84h0M260.5 69.1h0M266.4 77.5h0M268.5 93.3h0M261.5 83.4h0M265.9 67.6h0M269.6 84.5h0M262.1 76h0M260.2 78.2h0M271.1 87.1h0M268.4 67.9h0M267.4 68.9h0M262.9 86h0M262.7 77h0M268.4 64.6h0M258.7 79.5h0M273.1 76.6h0M263.3 89h0M266.5 90.2h0M258.7 78.4h0M264.8 90.3h0M265.1 71.2h0M260.4 74h0M262.4 73.6h0M267.5 75.3h0M262.5 75h0M259 85.6h0M264 67h0M260.7 83h0M259.4 73.4h0M270.1 73.8h0M264.8 61.4h0M259.3 75.7h0M265.5 78.6h0M264.4 79.9h0M265.4 90.2h0M260.4 73.4h0M262.6 75.1h0M259.8 63.4h0M266.7 63.3h0M261.2 67.8h0M269.4 86.8h0M265 87.4h0M268.7 66.3h0M263 79.4h0M263.6 68.9h0M266.7 90h0M266.6 74.5h0M263.3 72.8h0M260.9 59.1h0M262.4 72.9h0M264.1 80.3h0M267.5 74.2h0M264.4 65.2h0M266.7 62.3h0M264.3 77.3h0M262 75.9h0M272.4 79.7h0M267.1 74.2h0M263.7 77h0M258.4 89.2h0M263.9 81.2h0M253.9 85.2h0M268.8 74.3h0M266.8 82.2h0M262.9 86.8h0M262 61.3h0M263.7 92.6h0M259.1 70.5h0M256.6 89.4h0M267.3 68.4h0M262.1 58.3h0M262 77.9h0M268.8 82.9h0M261.2 81.4h0M270.8 80.8h0M267 74.5h0M262.3 89.7h0M262.7 83.7h0M263 76.1h0M260.1 90.2h0M266.8 57.1h0M262.1 70.1h0M258.8 67.8h0M266.3 88.3h0M260.6 74.8h0M267.8 70.4h0M265 69.1h0M258.7 86.8h0M270.3 79.9h0M265.6 76.7h0M259.9 76.1h0M259.6 70.6h0M256.9 92.1h0M263 77.1h0M269.4 68.1h0M266.9 60.5h0M268.6 66.7h0M267.2 65.8h0M267.4 67.6h0M258.5 88.6h0M250.6 77.8h0M265.4 72.2h0M266.8 71.3h0M263.8 88.3h0M263.5 83.4h0M264.2 77.2h0M267.1 86.3h0M266.5 75.3h0M262.7 74h0M269.8 63.6h0M264 89.4h0M269.2 61.5h0M258.7 86.2h0M269.8 73.3h0M269.3 77.9h0M268.7 79.5h0M255.3 70.7h0M264.1 86.7h0M258.7 70.4h0M264.3 79.3h0M270.3 90.8h0M269.4 82.6h0M269 61.7h0M248.8 82.3h0M266.4 73h0M261.7 93.3h0M265.8 69.8h0M261.5 81h0M260 80.4h0M269.1 83.7h0M256.1 87.6h0M254.9 89.5h0M264.5 80.8h0M266.9 73.8h0M263.7 68.8h0M266.3 61.8h0M267.2 67.3h0M268.3 74.9h0M259.1 91.5h0M263.1 73.3h0M263.2 86.6h0M263.3 64.2h0M272.2 71.5h0M262.8 74.6h0M262.7 83.1h0M264.8 72.7h0M256.7 75.7h0M257.9 77.1h0M258.1 89.8h0M263.3 81.2h0M260.7 81.3h0M260.3 81.6h0M266.2 80.6h0M261.6 67.5h0M269.2 76.1h0M258.4 85.9h0M258.4 76.9h0M270.8 81.3h0M264.5 61.4h0M271 76h0M266.4 75.3h0M261.5 83.3h0M265.1 65.3h0M267.2 51.3h0M267.6 85.5h0M267.9 65.7h0M265.1 67.6h0M259.4 79h0M261.5 94.5h0M263.3 63.3h0M263.9 73.1h0M265.9 76.5h0M264.1 84.9h0M260.7 81.3h0M260.4 81.5h0M263.3 73.9h0M267.5 76.9h0M261.9 85.1h0M262.2 63.7h0M258.9 79.9h0M268.9 71.6h0M267.7 65.1h0M265.8 88.4h0M267 90.6h0M265.5 79.6h0M269 86.3h0M258.6 81.6h0M269.7 70h0M265.2 61.9h0M264.8 74.1h0M263.8 53.6h0M256.6 83.1h0M264.9 65.2h0M269.6 65.9h0M263.8 73.2h0M258 68.4h0M262 93.4h0M271.1 79.2h0M263.7 60.5h0M255.8 71.3h0M262.2 82.9h0M261.9 78.7h0M264.2 88.4h0M266.5 75.5h0M265.9 80.2h0M263.1 81.6h0M268.7 68.9h0M270.1 79.5h0M263.9 91.2h0M255.6 81.8h0M261.7 82.6h0M264.8 61.6h0M261.3 81.7h0M266 73.8h0M265.4 82.9h0M265.6 74h0M261.8 73.7h0M254.3 89.4h0M256 86.2h0M272.6 78.9h0M269.2 92.3h0M269.5 76.1h0M259.9 80.6h0M262.5 65.7h0M263.4 83.4h0M264 77.5h0M267.8 73.2h0M263.1 78.3h0M266.9 90.5h0M266.3 81.2h0M262.2 91.4h0M264.4 80.7h0M264.7 86.1h0M268.1 85.4h0M265.2 60.8h0M268.7 77.2h0M262 74.5h0M259.4 75.3h0M264.8 72.2h0M268.3 84.9h0M266.9 74.4h0M267.9 93.8h0M264.3 67h0M261.8 91.4h0M271.4 82.7h0M258.7 90.9h0M261.3 75.2h0M259.3 79.2h0M257.8 74.9h0M270.3 75.8h0M268.9 62.8h0M265.4 94.9h0M265.6 86h0M272.6 86h0M267.3 62.9h0M267.6 72.9h0M262.1 80.5h0M266.9 88.6h0M263.4 81h0M267.8 90h0M267 62.2h0M266.6 76.4h0M264.3 72.4h0M265.5 75.3h0M264.9 78.3h0M253.7 88.4h0M270.4 90.1h0M266.2 75.1h0M256 68.7h0M261.8 76.3h0M260.8 71.6h0M259.6 64.4h0M263.7 50.9h0M267.5 82.6h0M268.2 94.5h0M269.7 64.1h0M262.5 75.1h0M262 65.2h0M261.3 65.9h0M268.3 88.7h0M263.1 76.2h0M261.5 88.6h0M269.4 86.5h0M261.5 82.2h0M251.6 91.6h0M263.9 67h0M262.3 71.6h0M256.8 78.1h0M264.4 74.7h0M261.1 75.5h0M264 71h0M266.2 75h0M267.1 79.8h0M261.1 74.7h0M258.5 58.9h0M269.2 78.4h0M269 68.2h0M262.3 81.3h0M262.7 87.7h0M271.2 85.9h0M261.9 89.5h0M259.3 87.1h0M261 85.2h0M263.6 70.4h0M266.3 76.3h0M258.7 93.2h0M263.7 74.6h0M261.1 76.4h0M273.1 74.7h0M270.6 68.5h0M268.5 78.9h0M271.4 88.1h0M261.8 66.1h0M265 74h0M261.4 70.5h0M263 59.4h0M265.3 64h0M256.6 82.5h0M268.5 72.8h0M260.2 60.6h0M261.6 91.4h0M268.2 61.5h0M271 73.5h0M260.8 82.1h0M257.3 78.5h0M268.4 57.7h0M256.3 80.3h0M251.2 76.2h0M270 79h0M265.2 83.9h0M263.5 82.5h0M268.3 73.9h0M269.1 86.7h0M257.3 85.3h0M263.4 94.9h0M258.2 90.1h0M258.9 83.8h0M263.6 71.1h0M268.8 73.2h0M268.5 90.2h0M264 64.2h0M265.7 71.8h0M266.6 62.4h0M268.9 69.6h0M258.7 64.9h0M267.8 63.8h0M256.3 74.2h0M258 77h0M264.3 79.9h0M266.8 68.1h0M264.1 79.8h0M267.5 86.5h0M265.4 69.1h0M261.4 79.6h0M263 72.6h0M265.3 82.7h0M261.5 74.9h0M271 82h0M272.6 82.8h0M270.9 72.7h0M263.2 58.5h0M268.7 69.4h0M266.3 74.8h0M261 82.9h0M259.5 79.8h0M260.7 72.1h0M263.3 90.2h0M267.1 80.8h0M269.9 93.8h0M274.1 88.2h0M257.7 94.6h0M261.6 72.5h0M267.3 73.1h0M270.5 54.4h0M255.8 81.9h0M270.4 72.6h0M266.5 64.2h0M259 80.3h0M256.4 76.1h0M261.9 91.8h0M263.6 82h0M272.5 88.7h0M272.5 76.5h0M263.7 72.4h0M261.6 71.6h0M269.8 60.6h0M266 63.7h0M269.7 81.5h0M258.2 84h0M267.1 64.2h0M267.3 71.3h0M264.6 83.1h0M264.6 79.6h0M269.9 92.9h0M263.4 70.1h0M264.2 65h0M268.7 90.8h0M265.9 70.9h0M263.5 81.8h0M261.2 82.6h0M265.2 70.7h0M267 88.4h0M262.3 87.2h0M264.8 79.9h0M272.1 66.5h0M258.3 71.2h0M266.2 70h0M264.2 78.4h0M258.9 74.7h0M265.3 73.1h0M269.7 73.6h0M262.9 68.8h0M262.2 63.5h0M261.9 75.5h0M262.1 79.7h0M275.1 73h0M265.3 65.9h0M263 78.1h0M254.6 71.3h0M256.5 72.9h0M265.9 82.4h0M269.5 63.5h0M262.1 74.4h0M263.6 76.2h0M254.1 75.7h0M260.5 65h0M258.6 59.6h0M259.6 69h0M256.9 78.2h0M269.1 66.2h0M266.9 72.4h0M264.2 81.2h0M263.3 56.6h0M267.4 84.1h0M267.4 82.7h0M259.8 94.6h0M263.2 66.9h0M267.2 73h0M265.4 82.7h0M263.3 85.2h0M266.2 76.9h0M261.5 88.3h0M271.9 69.7h0M264.7 72.7h0M262.4 69.5h0M274.2 81.8h0M258.4 67.3h0M261 68h0M263 81.4h0M263.3 90.5h0M262.7 79.2h0M258.5 75.9h0M264.2 94.4h0M264.9 69.1h0M258.4 78.4h0M262.3 89h0M257.5 67.8h0M261.8 67.5h0M256.4 94.2h0M258.9 60.7h0M265.6 77.1h0M262.3 88.9h0M266.4 83.2h0M263.2 82.2h0M263.8 75.8h0M263.4 59.7h0M266.5 88.3h0M263.5 68.2h0M263.4 84.4h0M260.5 83.8h0M260.6 82.3h0M261.5 68h0M264.2 79.1h0M265.1 67.8h0M264.6 70.3h0M270.1 80.9h0M271.9 87h0M270.1 82.2h0M269.4 65.2h0M266.8 65.3h0M253.3 80.4h0M264.4 61.1h0M267.9 69.9h0M262.7 61.8h0M260.4 88h0M263.2 86.2h0M257.9 87.3h0M253.2 91.3h0M264.2 67.1h0M264.4 86.2h0M266.8 82.3h0M266 80.9h0M260.4 94.2h0M265.6 91.3h0M258.9 81.4h0M272.5 84.6h0M254.2 82.1h0M264.5 68.2h0M258.3 74h0M257.2 77.1h0M264.9 71.7h0M267.8 63.9h0M268.2 80h0M272.4 69h0M260.6 82.4h0M270.2 72.8h0M268.2 78.8h0M261.2 79.7h0M258.7 72.2h0M261.6 83.5h0M265.7 89.9h0M263.3 69.4h0M262 77.9h0M263 75.2h0M260 62.8h0M258.7 70.5h0M272.9 80.6h0M256.8 73.9h0M259.2 90h0M264.1 87.9h0M260.6 74.3h0M268.7 78.9h0M265.8 87.7h0M265.1 75.1h0M260.1 70.3h0M263.6 90.6h0M268.5 68.4h0M266.9 69.7h0M259.7 80.7h0M258.3 90.4h0M262 84.9h0M266 70.9h0M260.2 68.2h0M265.1 90.3h0M263.9 86.1h0M263.6 74.1h0M257.1 75.2h0M264.1 85.2h0M266.3 81h0M265.8 68.4h0M263.2 94.8h0M257.3 77.2h0M259.3 83.7h0M261.7 90.8h0M262 72h0M265.9 84.3h0M265.2 85h0M252.6 93h0M261.2 93.8h0M273.8 90.9h0M257.1 73.4h0M258.9 74h0M266.6 67.8h0M264.8 78.3h0M259 93.9h0M258.3 84.1h0M264.7 81.6h0M269.8 79h0M263.4 71h0M255.3 91.6h0M262.6 76.4h0M268.1 81.1h0M262.9 89h0M266.2 76.1h0M272.4 70h0M268.1 60h0M266.3 73.2h0M266.2 81.6h0M263.9 71.6h0M256.1 70.5h0M262.9 91.7h0M267.6 78h0M266.9 62h0M261 76.6h0M263.9 84.2h0M266.5 89.7h0M262.5 64.6h0M263 68.5h0M257.6 91.2h0M265.3 83.3h0M263.4 75.3h0M270.9 80.3h0M259.3 71.2h0M261 62.1h0M273.4 84.1h0M270.2 79.7h0M268.3 87.9h0M257.2 93.5h0M266.4 78.4h0M258.8 77.1h0M267.3 72.6h0M271.1 91.8h0M272.9 75.7h0M264.4 59.3h0M261.8 80.2h0M258.5 84h0M257.4 90.6h0M244.2 92.1h0M261.5 92.4h0M265.2 86.5h0M260 73h0M263.6 59.6h0M260.9 83.1h0M257.1 75.8h0M249.2 94.3h0M265.7 72.2h0M269.6 82h0M258.1 75.8h0M263.6 82.9h0M260.3 89.8h0M262.4 81.4h0M257.2 95h0M265 61.3h0M269.5 84.9h0M261.6 87.5h0M265.8 63.8h0M263.5 69.3h0M263 77.2h0M271.2 88.4h0M262.7 83h0M266 86.6h0M268.2 80h0M259.3 76h0M273.4 74.4h0M262.7 73.6h0M262 84h0M265.8 91.3h0M262.6 93.2h0M258.3 74.9h0M254.1 86.3h0M261.1 76h0M272.2 85.7h0M266.3 75.1h0M262.9 93.2h0M255.4 81.5h0M261.4 71.9h0M276.2 91.8h0M266.6 93.2h0M259.5 95h0M267.9 76.4h0M268.4 73.6h0M262.7 73.4h0M260.1 80.1h0M268.1 63.7h0M256.9 88.5h0M264.2 83.8h0M269 66.6h0M269.3 82.3h0M262.6 65.1h0M266.8 91h0M262.2 72.6h0M262.2 74.3h0M266.7 80.7h0M264 81.4h0M263.1 93.6h0M263.7 69.1h0M267.1 69.2h0M258.9 65.8h0M268.1 74h0M263.5 70.8h0M262.1 94.3h0M266.4 75.2h0M265.9 58.5h0M266.9 73.5h0M269.6 69.2h0M265 67.4h0M268.7 65.7h0M271.3 84.2h0M266.8 82.1h0M273.8 82.5h0M258.8 78h0M268.5 72.6h0M260.3 72.2h0M266.9 86h0M266.2 88.6h0M256.7 78.5h0M255.3 86.7h0M265.2 86h0M266.7 86.8h0M261.7 84.2h0M259.7 67.6h0M263.4 80.8h0M272.4 78.8h0M257.9 79.5h0M263.1 71.8h0M257.9 88.3h0M273 81.1h0M268.8 64h0M260.8 80.3h0M261.9 76h0M257.8 91.3h0M270 61.1h0M262.6 74.7h0M262.7 72.7h0M260.4 65.8h0M261.7 82.9h0M271.2 74h0M258.2 71.3h0M268.9 87.2h0M269.1 79.5h0M264.1 70.2h0M265.1 81.2h0M268.6 79.5h0M272.1 75.3h0M267.5 88h0M263.1 80.9h0M258.7 74.5h0M260 59.2h0M262.1 82.4h0M259.3 74.1h0M265.9 54.5h0M256.8 85.8h0M264.5 82.6h0M265.3 54.2h0M264.9 77.7h0M264.6 92.1h0M271.1 74.2h0M268.2 94.9h0M262.6 75.7h0M262.8 73.3h0M259.1 84h0M262.3 62.5h0M267.3 84.1h0M267 82h0M262.3 80.7h0M258.5 75.5h0M268.7 59.9h0M256.5 77.1h0M262.3 81.3h0M261.5 94.6h0M260.8 78.8h0M267.9 80.7h0M261.6 83.2h0M259.7 88.9h0M252.5 90.1h0M267.8 81.8h0M254.8 72.5h0M269 65.4h0M255.9 76.5h0M265.2 71.5h0M273.6 82.1h0M254.9 82.9h0M268.6 73.4h0M266.6 71.3h0M266 69.8h0M264.2 86.3h0M270.4 82.8h0M266.7 68.1h0M265.9 77.7h0M267.2 76.7h0M273.5 83.5h0M263.7 79.2h0M263.6 85.8h0M265.2 79.7h0M263.2 79.1h0M262.3 70.6h0M264.6 65.9h0M266.2 80h0M271.7 84.2h0M259 74h0M261.3 75.7h0M267.6 74.6h0M260.3 79.9h0M266.2 90.2h0M270.8 71.9h0M267.9 65.6h0M269.9 91.8h0M258.7 92.8h0M265.7 83.3h0M254.6 83.2h0M266.9 64.5h0M263.3 83.3h0M269.1 81.3h0M253.2 93h0M263.7 79.6h0M266.4 85.4h0M259.5 64.5h0M264.7 81.6h0M266.9 93.5h0M266.4 85.9h0M270.4 84h0M267.1 60.2h0M260.2 71h0M268.8 62.1h0M261.3 78.7h0M267.2 92.3h0M265.4 61.5h0M264.4 65.3h0M257.2 68.7h0M258.9 74.8h0M263.5 76.5h0M265.8 81.5h0M264.3 80.8h0M266.4 89.1h0M257.4 91.2h0M258.4 92.6h0M264.4 74h0M265.8 84.2h0M271.3 73.1h0M260.1 69.3h0M264 71.3h0M258.6 68h0M261.3 71.9h0M262.6 73.9h0M257.8 86.2h0M265.4 66.2h0M264.2 69h0M263.9 91h0M256.5 71h0M272.2 66h0M259.5 73.6h0M264.4 73.7h0M267.1 87.9h0M259.8 88h0M266.9 78.8h0M255.3 73.8h0M259.2 84.6h0M267.2 62.3h0M265.8 56.5h0M272.2 75.8h0M265.5 74.1h0M263.6 66.4h0M260.4 61.8h0M267.3 85.5h0M266.1 63.9h0M262.2 81.2h0M265 75.9h0M253.5 90.9h0M271.3 77.2h0M266.4 83.1h0M278.1 84.7h0M260.8 73.4h0M262.4 78.1h0M265.1 72.7h0M254.9 83.2h0M271.1 78.6h0M256.3 94.2h0M267.7 64.2h0M265.8 68.9h0M268.4 83.7h0M260.9 77.3h0M269.1 90.1h0M267.4 82.3h0M262.7 76.4h0M266.6 75.7h0M259.4 78.4h0M256.8 70.7h0M266.5 77.6h0M260.7 80.2h0M264.2 94.3h0M263.9 66h0M264.4 78h0M275.7 73.9h0M263.9 71.4h0M269.4 50h0M267.7 74.5h0M261.4 68h0M261 61.3h0M257.4 76.6h0M270.7 77.4h0M259 82.2h0M261.9 76.9h0M256.4 78.2h0M261.2 86.7h0M265.3 62.4h0M262 55.5h0M261.9 77.5h0M276.9 90.4h0M260.7 86.3h0M267.6 76h0M275.9 75h0M262.4 55.1h0M256.5 88h0M265.2 82h0M267.8 68.3h0M265.4 68.6h0M261.1 86.4h0M270.8 81.4h0M259.5 67.1h0M266.8 86h0M262.2 71.7h0M270.1 75.1h0M265.5 77.5h0M262.6 77.4h0M264.7 83.2h0M261.9 71.2h0M267 73.9h0M273.5 77.8h0M271.1 75.7h0M265.1 74.5h0M273.2 86.2h0M261.1 82.8h0M267.7 92.2h0M261.6 77.4h0M256.8 93.7h0M261.3 90h0M270.4 77.1h0M270.9 68.6h0M258.3 77h0M267.4 63.6h0M259.3 79.6h0M267.6 90.4h0M271.9 87.6h0M262.8 61.7h0M261.2 69.4h0M261.5 81.4h0M267.2 72.8h0M257.5 79.7h0M253.6 85h0M254.8 78.6h0M272.5 83h0M262.6 69.5h0M256.6 76.8h0M267.1 68.7h0M268.4 86.1h0M260.7 67.8h0M266.5 78.9h0M270.1 89.2h0M259.2 81.1h0M263.4 62.8h0M263.4 73.8h0M263.6 68.5h0M265.1 67.4h0M262.2 76.2h0M266.8 80.7h0M269.4 75.1h0M267.6 69.4h0M264.9 87.2h0M269.8 63.4h0M263.8 90.7h0M258.6 87.6h0M262 90.1h0M263.5 90.7h0M265.5 63.4h0M262.6 77.2h0M262.9 69.4h0M274.4 77.6h0M265.8 77.2h0M278.1 86.1h0M263.6 92.2h0M264 78h0M267.6 72.4h0M270.8 70.2h0M265.7 78.3h0M266.4 82.9h0M268.7 81.7h0M258 81.3h0M265.7 85.5h0M260 75h0M264.5 71.8h0M261.9 93.5h0M263.1 72.9h0M267.9 60.8h0M262.3 82h0M269.1 86.2h0M263.7 74.7h0M269.3 81.9h0M272.2 76.2h0M261.9 72.2h0M264.8 68.1h0M265.6 57.3h0M268.1 62.3h0M259.9 77.7h0M262.9 81.7h0M263.8 77.8h0M258.8 70h0M262.7 70.5h0M264.1 56.9h0M268.9 64.5h0M267.5 71.4h0M261.2 76.4h0M265.5 54.3h0M260.5 73.4h0M264.1 89.6h0M267.7 79.7h0M271.2 80h0M269.5 76.7h0M268.2 66.1h0M258.2 74.5h0M268.6 68.7h0M263.9 84.1h0M257 65.4h0M268.4 74.6h0M258.3 92.5h0M257.8 72.1h0M261.2 93.4h0M258.9 78.2h0M265.9 64.2h0M262.5 70.4h0M258.5 79.9h0M267.2 92.7h0M259.7 89.3h0M261.7 81.8h0M264.2 75.1h0M266.7 66.8h0M260.7 93.5h0M256.4 76.1h0M267.2 64.2h0M268.5 70.7h0M269.3 82.4h0M256.8 83.3h0M264.8 79.2h0M258.1 86.5h0M269.1 78.7h0M257.6 85.2h0M260.8 73.5h0M264.3 73.9h0M257.5 67.4h0M260.7 53.6h0M267.4 80.8h0M264.1 74.9h0M265.9 73.4h0M268 77.2h0M261.4 72.8h0M257.6 61.4h0M261.9 76.3h0M266.8 82.4h0M256 83.9h0M267.3 89.1h0M259.7 67.2h0M267.8 67.7h0M263.1 80.8h0M260.5 93.9h0M261.6 73.6h0M258.2 86h0M272.7 77h0M265.8 73.3h0M263.6 70.3h0M267.3 72.8h0M254.9 80.9h0M268.6 67.1h0M274.9 79.7h0M264.1 73.2h0M264.8 80.4h0M252.8 93.4h0M263.4 87.1h0M266.4 64.4h0M261.6 83h0M265 65.7h0M263.2 76.9h0M262.8 91.7h0M268.9 85.4h0M263.8 67.8h0M264.1 69.9h0M268.2 74.2h0M261.9 79.7h0M269.7 59.8h0M260.1 78.9h0M262 82h0M252.6 93.1h0M260.5 85.9h0M263.5 78h0M264.7 79.9h0M258.9 86.6h0M261.7 63.4h0M267 68.4h0M268.3 88h0M261.8 70.2h0M260.2 71.7h0M266 72h0M258.3 73.9h0M259.1 86.3h0M264.6 74.4h0M261.4 84.6h0M266.8 74.2h0M265.4 71.7h0M263 76.9h0M265 60.9h0M264.8 78.4h0M268.5 71.2h0M271.3 78.2h0M264.5 73.5h0M268.6 80.8h0M264.4 87.2h0M266.6 87.3h0M259.2 80.6h0M255.3 68.6h0M267.7 72.5h0M263.6 60.5h0M263.4 51.3h0M269.3 91.1h0M264.2 65.5h0M264.3 79.9h0M269.9 91.5h0M259.3 89.3h0M269.3 81.6h0M254.9 86.1h0M259.7 71.3h0M256.8 79h0M270.8 79.7h0M273.1 92.9h0M266.6 74.8h0M257 73.5h0M254.1 71.8h0M260.9 75.6h0M263.8 84.1h0M271.5 82h0M266.4 88h0M265.7 74.3h0M272.5 83.4h0M265.9 70.5h0M269.3 79.2h0M263.6 80.1h0M261.4 71.2h0M270 63.7h0M265.8 58.5h0M266.7 67.7h0M270.9 80.4h0M270.2 68.2h0M258.9 71.4h0M268.9 76.6h0M266.1 72.4h0M261 73.8h0M270.1 62.8h0M260.3 76.4h0M261 82.3h0M268 81.9h0M259.7 72.4h0M271.6 74.6h0M266.2 67h0M266.8 86.2h0M267.8 71.2h0M263.1 65.9h0M252.7 86.7h0M276.3 73.7h0M266.8 77.7h0M268.3 72h0M268 70.8h0M258.5 92.9h0M265.6 94.6h0M264.1 75.8h0M268.1 77.6h0M267.5 75.3h0M271.4 75.9h0M262.4 85.3h0M263.4 81.5h0M268.2 67.4h0M262 69.6h0M263.4 71.5h0M262.4 81.4h0M266.9 65h0M268.5 75.3h0M265.2 88.2h0M262.1 74.2h0M257.5 79.6h0M273.2 93.8h0M269 70.9h0M268.9 72.8h0M255.3 84.7h0M265.2 50.9h0M266.2 91.8h0M266.5 83h0M266.6 94.8h0M262.1 88.9h0M266.4 60.7h0M277.5 91h0M261.9 76.4h0M269.3 77h0M264.2 69.8h0M265.9 80.9h0M262.6 70.6h0M264.8 78.1h0M265.5 93.2h0M263 74.4h0M261.7 84.5h0M264.8 78.2h0M270.5 78.1h0M268.9 90.8h0M265.6 77.5h0M271.3 80.1h0M267.6 74.5h0M268 74.3h0M265.9 82.5h0M264.2 88h0M269.2 77.2h0M263.4 80.3h0M264.1 72.4h0M257.8 64.7h0M265 87.4h0M263.8 80.6h0M266.6 74.4h0M267.2 59.5h0M263.4 73.1h0M257.2 85.3h0M261.7 85.5h0M261.6 72.3h0M266 80.6h0M264.5 89.5h0M260.4 75.1h0M266 86h0M262 93.8h0M257.3 89h0M259.2 76.9h0M267.1 85.4h0M271.3 81.4h0M265.1 71.3h0M262.7 90.9h0M267.8 76.9h0M273.9 76.5h0M274 80h0M269.6 81.2h0M270.1 85.3h0M260.7 66.6h0M255.1 76.1h0M256.1 88.5h0M257.6 77.2h0M261.7 82.8h0M267.2 53.8h0M264.4 67.7h0M262 74.5h0M269.6 94.4h0M264.9 60.7h0M259.2 77.2h0M256 74.8h0M272.8 69h0M263.2 80.7h0M258.4 80.3h0M265.6 57.9h0M264.7 92.6h0M257 81h0M267.1 68h0M261.9 78.8h0M263.2 94.5h0M265.3 89.9h0M269.2 73h0M270.4 76h0M249.9 82.5h0M261.9 71.2h0M260.6 84.4h0M263.2 63h0M264.1 72.1h0M269.7 88.5h0M259 82.6h0M261.1 70h0M271.4 83.4h0M262.4 74.9h0M264.7 62.8h0M266.2 88.2h0M263.4 76.4h0M263.9 70.9h0M263.5 75.8h0M269.4 84.4h0M272.7 84.3h0M261.1 91.4h0M259.2 78h0M250.4 87h0M266.9 85.3h0M266.7 76.5h0M266.2 87.9h0M265 81.5h0M264.2 56.2h0M267.9 67.4h0M270.6 73.1h0M259.6 92.8h0M263.6 87h0M269 86.8h0M257.3 69.5h0M261.3 67.3h0M259.6 74.4h0M266.1 83.6h0M270.2 88.1h0M266.6 79.4h0M263.7 73.1h0M272.8 89.7h0M263.3 90.8h0M268.8 62.8h0M270.9 76.1h0M267 76.6h0M270.1 77.3h0M259.5 80.3h0M260.3 88h0M267.3 74h0M260.9 72.4h0M260.3 59.4h0M262.9 68.4h0M266.3 78.9h0M262.1 73.5h0M263.7 86.6h0M260 78.3h0M264.7 72.8h0M267.6 93.5h0M270.4 80.8h0M264.3 80.3h0M261.5 77.9h0M271 76.8h0M256.8 70.6h0M262.5 90.8h0M262.3 64.7h0M273.7 85.8h0M262.7 87.6h0M264.4 69.8h0M264.8 78.1h0M272.7 83.2h0M265.5 85.7h0M266.5 67.1h0M265.5 76.5h0M264.2 80.4h0M257.4 73.6h0M268.7 85.6h0M265 88h0M269.3 89.1h0M263.7 76.4h0M256.2 83.3h0M263.4 75.5h0M267.4 77.6h0M265 62.1h0M265.7 86.3h0M268.6 79.5h0M258.7 91.4h0M260.5 89.8h0M266.6 80.1h0M251.2 77.7h0M260.2 81.3h0M262.6 73.1h0M261.5 94.1h0M260.6 92.2h0M264 82.4h0M264.3 75.1h0M263.7 88.4h0M264.9 82.2h0M262 77.3h0M259.3 68.7h0M270.2 92h0M260.3 69.7h0M267 93.7h0M261.2 91.9h0M262.2 78.6h0M256.2 84h0M271.3 69.5h0M263.5 67.1h0M251.2 94h0M264.2 78.6h0M265.2 81.7h0M267.5 77.9h0M263 78.6h0M257.8 86.1h0M257 81.8h0M270.1 79.2h0M268.8 73.7h0M258.2 86.8h0M269 79.2h0M261.3 82.4h0M254.2 78.6h0M259.2 71.7h0M262.7 65.8h0M267.5 77.4h0M274.5 87.1h0M267.8 66.5h0M259.7 70.1h0M277 80.7h0M270.1 51.4h0M254.3 72.8h0M265.9 75.9h0M266.5 71.2h0M263.3 61.3h0M268.8 70.5h0M256.5 88.3h0M262.8 81.9h0M261.2 75.7h0M271.2 79.8h0M255.5 78.9h0M265 74.8h0M260 85.6h0M262.7 70.8h0M262.9 90.8h0M256.4 88.4h0M263.6 61h0M265.4 74.8h0M269.3 67.1h0M266.1 78.9h0M260 92.3h0M265.4 83.7h0M260.5 92.6h0M261.5 85.2h0M269.7 76.5h0M272.3 77.5h0M261.7 68.6h0M266.2 72h0M263.1 79.3h0M264.9 68.3h0M271 82.1h0M260.6 68.1h0M260.2 76.2h0M267.2 70.1h0M254.9 80.4h0M260.3 72.5h0M258.7 79.2h0M261.6 79.6h0M265.2 69h0M269.2 77.7h0M267.3 92.5h0M265.5 61.6h0M263.6 64.4h0M261.8 72.5h0M258.2 87.5h0M266 91.7h0M258.9 78h0M265.4 87.1h0M261.5 84.2h0M261.5 72h0M262.8 84.2h0M263.4 78.7h0M265.5 93.8h0M259.7 61.9h0M263.1 83.4h0M269.9 84.7h0M264.1 93.3h0M256.6 80.9h0M264.5 85.8h0M261.4 80.9h0M263.3 88.7h0M258.5 93.2h0M270.2 91.5h0M257.6 93.5h0M270.3 70.8h0M255.6 78.2h0M262.5 76h0M265.5 79h0M263.5 78.3h0M267.4 81.7h0M263.1 87.1h0M259.5 69.9h0M266.6 78.5h0M271.3 91h0M259.2 90.5h0M266.2 93.9h0M265.5 73.7h0M269.3 85h0M259.5 89.6h0M263.8 87h0M261.6 70.2h0M260.9 76.4h0M261.3 84.4h0M264 41.2h0M264.5 75.3h0M262.5 65.7h0M268 67.7h0M265.1 80.4h0M262.4 85.3h0M264.7 89.9h0M265.6 80.1h0M273.8 94.9h0M261.2 93.9h0M263.3 56.7h0M253.5 77.3h0M269.9 73.5h0M265.3 81.2h0M257.6 90.1h0M253.3 89h0M250.8 94.7h0M264.4 86h0M261.7 65.8h0M265.8 84.3h0M260.3 78.3h0M264.6 79h0M275.2 79.9h0M265.8 82.6h0M261.7 72.7h0M263.6 61.7h0M266.9 82h0M265 62.4h0M269.3 78h0M265.3 61.2h0M268.1 57.6h0M264.2 70h0M263.5 85.4h0M264.4 59.4h0M260.2 73.2h0" stroke="#4b9fe4" stroke-width="1.1" stroke-linecap="round"/>
<path d="M258.3 73.7h0M267.7 68.9h0M260.4 86.4h0M265.6 62.1h0M256.2 87.8h0M263.6 77.3h0M267.9 64.6h0M262.9 68.8h0M261.3 86.8h0M270.5 84.4h0M267.3 86h0M265.5 69.2h0M264.1 81.4h0M257.9 79h0M260.1 67.9h0M266.5 81.4h0M266.9 80.9h0M258.3 93.9h0M266 70.8h0M260.5 84.1h0M264.3 76.7h0M260.4 76.4h0M264 94.5h0M260.1 84.4h0M271.9 76.1h0M269.4 77.1h0M264.8 88.1h0M269.3 94.6h0M265.4 67h0M262.9 88.4h0M262.5 69.1h0M261.6 78.5h0M258.5 78.4h0M257.1 79h0M258.5 92.6h0M267.3 86.4h0M267.6 83.8h0M265.2 78.2h0M260.4 74.2h0M265.5 70.8h0M259.8 69.2h0M260.7 89.5h0M267.2 75.9h0M265.4 78.3h0M265 69.3h0M266.2 81.3h0M255.1 79.6h0M262.7 90.3h0M264.9 84.9h0M269.1 86.4h0M267.3 71.6h0M263 77.2h0M258.9 91.3h0M267.4 77.1h0M261.1 76.2h0M264.4 70.2h0M268.4 68.1h0M262.4 59.6h0M254.3 84.9h0M265.5 76.3h0M260.6 80.9h0M267.2 86.3h0M274.3 77.6h0M262.6 91.5h0M261.5 75.7h0M268.6 72.8h0M265.6 87.7h0M267.4 89h0M259.6 84.6h0M263.8 62.5h0M265.1 88.8h0M263.6 75.7h0M266.3 93.9h0M262.9 90.9h0M264.7 84.2h0M264.6 78.1h0M262.5 64.7h0M266.9 79.2h0M265 77.9h0M269.7 72.2h0M269.2 78.7h0M262 89.3h0M263 84.1h0M260.9 91.6h0M264.7 94.9h0M260.1 69.3h0M266.9 72.3h0M259.6 72.4h0M266.1 92.9h0M267.7 85.5h0M271.2 88.7h0M265.2 65.7h0M267.6 73.1h0M263.2 92.7h0M260.3 72.1h0M262.6 65.7h0M266.2 73.7h0M263.6 77.4h0M269.9 74.7h0M263.5 87h0M251.5 92.3h0M261.7 71.6h0M265.4 71h0M258.4 85.6h0M262.7 72.9h0M260.6 81h0M265.3 74.5h0M269.2 74.2h0M258.3 63.9h0M264.4 74.4h0M266.9 85.5h0M262.4 83.4h0M258 89.2h0M260.9 67.3h0M261.8 75.7h0M262 89.2h0M262.2 83.1h0M270.4 76.2h0M256.7 70.8h0M264.8 78.5h0M265.9 79.9h0M259.3 68.1h0M260.5 76.1h0M264.1 67.2h0M269.7 69.4h0M268 69h0M266.1 89.2h0M268.1 76.3h0M265.6 80.7h0M265.4 85.9h0M267.3 64.7h0M264.9 71.5h0M264.3 83.3h0M266.5 79.4h0M266.8 77.6h0M268.1 82.7h0M267 59.9h0M257.2 90.4h0M270.7 88.3h0M261.5 65.6h0M266.5 72.5h0M257 81.7h0M269.8 80.6h0M266.9 76.9h0M268.5 76.7h0M263.9 74.1h0M262.9 82.8h0M266 83.1h0M262.6 74.5h0M267.3 87.2h0M267.8 73.8h0M265.7 74.2h0M262.8 60.6h0M257.3 83.5h0M266.1 83.1h0M260.6 80.7h0M266.3 93.6h0M266.4 84.4h0M263.1 69.3h0M258.5 92.7h0M262.2 91.3h0M265.6 92.4h0M259.7 74.9h0M263 67.1h0M268.1 79.7h0M270.8 66h0M271.2 74.9h0M262.8 64.7h0M269.3 67.1h0M262.9 75.2h0M261 74.2h0M261.8 82.4h0M265.5 52.5h0M265.4 84.5h0M263.2 72.6h0M262.7 73h0M265.2 93h0M260.3 81.5h0M263.1 79.3h0M272.4 83.2h0M264.1 86.3h0M265.9 81.5h0M263.6 76.6h0M263.4 71.9h0M260.8 84h0M267.2 79.6h0M258.1 78.6h0M265.4 78.2h0M264.5 72.2h0M261.1 92.1h0M265.8 65.3h0M272.3 92.9h0M260.5 89.2h0M268.6 70.7h0M266.8 77.3h0M261.6 78h0M260.3 77h0M258.5 76.6h0M269.3 88.9h0M265.5 76.3h0M267.8 71.8h0M259.7 81.5h0M263.3 81.8h0M263 71.1h0M263.4 74.4h0M267.6 70.9h0M260 91.9h0M267.4 81.2h0M257.4 85.1h0M265.3 76.5h0M262.7 94.5h0M262.5 89h0M263.5 77.8h0M266.2 69.3h0M270.1 80.7h0M262.9 68.7h0M267.8 79.8h0M266.6 72.8h0M261.3 77.2h0M268 78.6h0M265.1 84.8h0M261.8 87.3h0M260.5 88.8h0M263.5 72.4h0M269.1 66.1h0M268.2 82.4h0M262.9 74h0M264.8 85.5h0M265.3 68.2h0M269.4 69.6h0M261.3 89.2h0M267 52h0M260.6 72h0M269.3 69.8h0M257.7 85.7h0M263.2 69.5h0M260.8 81.5h0M265 63.5h0M275.1 94.1h0M257.9 91h0M265.8 75h0M253.9 85.8h0M261.8 66.9h0M260.3 67.3h0M257.3 81.8h0M265 94.1h0M264.4 76.9h0M262.5 65.1h0M265.4 83.9h0M256.9 86.8h0M263.9 70.3h0M266 67.5h0M266.5 85.3h0M256.1 86.2h0M262.7 55.7h0M270.5 76h0M255.6 87.5h0M265.6 77.8h0M260.8 71.2h0M264.5 75.4h0M261.5 78.9h0M264.9 88.6h0M264.2 84.8h0M261.1 93.5h0M272.2 68.7h0M265.4 73h0M262.5 78.2h0M266 61.9h0M263.7 88h0M265.5 80.8h0M260.8 94.9h0M258.8 82.6h0M268.7 72h0M261.6 82.6h0M264.8 89.6h0M258.8 79.8h0M259.8 81.5h0M261.9 82.2h0M252.1 94.1h0M264.6 79.9h0M264.5 76.9h0M267.4 74.2h0M264.8 92.1h0M260.3 84.6h0M263.7 81h0M262.4 81.4h0M271.7 81.3h0M267.9 72.1h0M265 84.1h0M260.1 80h0M264.4 85.9h0M267.1 92.5h0M263.9 72h0M264.7 71.8h0M260.8 73.5h0M264 63.8h0M264 74.2h0M269.2 75.8h0M257.2 79.1h0M259.2 78.2h0M267.6 90.6h0M258.8 66.9h0M263.7 79.7h0M262.8 85.6h0M269.2 82.4h0M262.4 80.6h0M262.7 76.3h0M267.4 65.8h0M265.7 75.8h0M266.2 79.2h0M263.2 81.9h0M262.1 76.2h0M268.2 87h0M269 69.8h0M254.2 82.2h0M263.5 77.7h0M266.2 92.1h0M266.5 79.3h0M263.3 85.1h0M256.6 87.6h0M262.5 79.7h0M267.2 58.1h0M263 72.6h0M263.2 69.3h0M265.1 75.2h0M262.8 74.5h0M265.6 58.2h0M266.2 75.2h0M263.1 80h0M263 70.1h0M264.7 67.4h0M258.5 77h0M263.8 85.7h0M256.2 85h0M270.1 85h0M265.3 90.1h0M262.9 84.3h0M261.3 89.4h0M261.7 91.5h0M255.1 89.1h0M268.3 62.6h0M269.1 88.8h0M258.6 83.6h0M270 59.2h0M263.9 72h0M255.6 83.4h0M260.2 85.3h0M262.9 80.5h0M259 83.5h0M266 63.2h0M257.3 70h0M266 71.2h0M262 75.8h0M263.1 80.6h0M259.2 74.7h0M272.8 79.6h0M263.6 82.8h0M266.7 78.4h0M262.5 89.1h0M270.9 92.4h0M263.2 84.2h0M269.9 82.4h0M265.3 71.7h0M265.5 68.8h0M264.9 88h0M267.4 82h0M260 80h0M267.1 92.4h0M260.4 65.6h0M269.1 72.5h0M264.6 79.8h0M265.6 65.4h0M267.3 93h0M261.1 73.6h0M267.3 73.8h0M261.2 86.1h0M257.6 71.7h0M271.9 78.9h0M262.1 79.5h0M263.1 90.8h0M267.3 74.8h0M267 87h0M258.5 75.9h0M262.7 66.6h0M265.1 79.4h0M258.3 82.9h0M259.1 69.7h0M263.4 82.4h0M262.4 93.2h0M262.1 85h0M267.1 67.2h0M266 89.8h0M264.1 87.7h0M262.2 78.1h0M268.3 91.7h0M262.7 82.1h0M265.4 79.5h0M266.9 69h0M262.8 90.1h0M257.5 92.2h0M270.4 87.9h0M266.3 63.3h0M266.9 79.4h0M262.4 79.4h0M265.1 74.7h0M257.2 93.4h0M263.3 67.2h0M262.9 81h0M267.2 87h0M262.9 62.5h0M264.8 85.7h0M258.6 85.3h0M267.6 84.5h0M264 66.9h0M260.9 85.4h0M255.5 90.1h0M268.2 91.1h0M268.6 77.4h0M266.2 60h0M268.8 88.1h0M257.8 77.5h0M262.9 83.9h0M263.7 70.7h0M262.5 75.8h0M260.4 74.5h0M262 72.7h0M264.4 81.6h0M271.1 94h0M264.1 62.9h0M261 91h0M263.9 93.9h0M264.5 77.6h0M257.9 89.5h0M263.8 75.8h0M262.8 86.5h0M269.4 63.8h0M264.2 77.8h0M259.5 73.3h0M262.5 84h0M265.8 71.9h0M268.3 76.3h0M265.4 74.8h0M268.5 81.4h0M266.2 88.7h0M262.7 86.4h0M266.8 93.1h0M261.7 82.8h0M260.7 94.3h0M261.8 75.4h0M262.7 70.6h0M262.4 83.6h0M262.5 71.7h0M263.9 63.7h0M271.6 71.4h0M265.4 63.9h0M264.5 69.3h0M264.2 89.3h0M256.9 89.7h0M264.9 74.3h0M257.1 64.1h0M267.9 83.5h0M266.4 72.2h0M265.8 74.3h0M267.9 78.9h0M264.7 76.7h0M264.7 70h0M269.4 75.8h0M264 81.8h0M263.4 84.4h0M259 83.5h0M263.7 84.2h0M268.8 79.8h0M270.9 67.4h0M265.3 89.4h0M260.8 78.4h0M266.7 76.3h0M268.6 81.6h0M263.3 75.2h0M264.1 73.7h0M263.1 85.1h0M262.9 63.5h0M269 93.9h0M259.9 86.2h0M265.6 81.1h0M266.5 90.8h0M264.1 77.4h0M262.2 84.2h0M270.2 91h0M266.1 82.4h0M265 81.2h0M260.5 76.7h0M263.2 88.4h0M263.9 68.9h0M263.1 62.5h0M271.4 93.2h0M264.1 81.9h0M264.5 84.2h0M271 79.3h0M265.2 87.6h0M266.9 90.5h0" stroke="#4599e0" stroke-width="1.2" stroke-linecap="round"/>
<path d="M292.4 111.9h0M288.1 113.3h0M291.1 114.8h0M280.7 114.7h0M291.5 109.6h0M308.2 106.6h0M298.5 108.3h0M271.9 116.5h0M296.4 109.3h0M267.9 108.4h0M278.2 110h0M273.6 104.1h0M294.1 109.3h0M272.1 105h0M269 101.8h0M278.9 115.4h0M293.7 110.4h0M281.9 106.6h0M273.2 111.9h0M278.6 107.9h0M261.4 114h0M298.8 111h0M305.4 108.6h0M288.8 114.6h0M271.3 99.8h0M278.6 113.1h0M275.9 116.3h0M270.7 112.5h0M290.2 112.7h0M289.5 110.8h0M274.1 108.9h0M274.8 114.8h0M292.4 104.1h0M289.1 107.5h0M288.3 108.7h0M275.2 105.2h0M277.5 111.3h0M275.7 108.7h0M271.9 104.5h0M268.2 111.2h0M294.2 108.1h0M284.3 105.5h0M285.2 114.1h0M277.4 112.8h0M270.4 112.6h0M292.4 107.8h0M280.9 108.8h0M290.7 107.4h0M275.8 110.7h0M280 112.1h0M290.5 110.6h0M277.4 107.2h0M263.2 107.5h0M284.4 108.5h0M281.4 113.9h0M284.2 110h0M297.5 103.4h0M274.5 108h0M258.9 105.3h0M267.8 109.5h0M265.8 104.5h0M283.6 113.6h0M281.1 109h0M280.4 106.5h0M283.9 106.7h0M281.8 107.7h0M269.6 115h0M277.3 115.4h0M280.8 105.4h0M292.6 114h0M284.3 116.4h0M286.6 117.2h0M271.7 110h0M275 110.4h0M267.7 104.6h0M283.3 104.3h0M286.8 105.3h0M252.9 110h0M286.9 103.7h0M289.1 111.2h0M278.6 119.1h0M295.5 105.3h0M288.7 108h0M281.8 109.7h0M282 107.4h0M294.2 107.5h0M283.4 111.1h0M268.1 114.7h0M282.6 113.1h0M282.1 113.1h0M279.4 111.5h0M284.4 112.6h0M259.9 110.4h0M277.1 117.7h0M274.6 110.7h0M280.2 111.6h0M271.1 115.2h0M283.9 105.4h0M274 114.9h0M282.4 108.3h0M267.3 97.8h0M294.4 112.9h0M288.2 101.7h0M277.5 107.3h0M278.9 102.2h0M269.3 109.4h0M272.5 112.1h0M292 113h0M278.4 113.6h0M290.1 115.3h0M269.1 106.6h0M296 108.9h0M291 112.6h0M275.6 116.5h0M274.2 108.4h0M266.2 109.6h0M275.7 108.5h0M291.5 113.3h0M286 106.1h0M280.2 111.1h0M274.8 109.2h0M261 107.1h0M271.5 113h0M274.3 107.8h0M278.2 109.7h0M262 104.4h0M265.6 110.8h0M285.9 102h0M283.2 113.3h0M287.5 112.2h0M278.2 109.7h0M284 110.2h0M288.2 107.9h0M297.7 110h0M275 114.8h0M275 109.1h0M292.6 105.1h0M292.4 112h0M272.5 109.6h0M272.6 112.5h0M288.9 116.3h0M287.9 109.4h0M275.9 109.7h0M273.7 109.9h0M280.2 112.8h0M278.4 109.1h0M279.4 107.7h0M288 115.3h0M276.1 113.1h0M290.2 107.7h0M286.9 106.2h0M270.2 110h0M299.1 108.3h0M271.7 110.6h0M289.9 97.8h0M262.7 103.2h0M276.5 107h0M286.8 115.4h0M266.1 106.6h0M267.1 109.7h0M289.4 114.3h0M296.4 113.3h0M280.6 108.7h0M280.5 110.3h0M279.1 105.1h0M271.7 108.2h0M276.5 113.2h0M269.9 110.6h0M283.9 109.1h0M267.7 103.5h0M260.7 112.4h0M281.1 108.8h0M289 106.9h0M308.9 116.8h0M270.8 111.6h0M282.7 112.4h0M267.1 117.8h0M269.7 108h0M279.5 112h0M286.4 112.4h0" stroke="#80bbea" stroke-width="0.9" stroke-linecap="round"/>
<path d="M276.5 115.3h0M274.7 113h0M279.4 113.1h0M275.9 111.6h0M286.1 111.2h0M273.1 111.2h0M281.6 108.2h0M280.7 110.3h0M267.4 106h0M288.5 111.7h0M272.7 109.9h0M285.8 108.2h0M276.7 109.5h0M280.5 109.5h0M281.1 111.4h0M278.5 111.5h0M282 112.4h0M280.2 108.2h0M281.5 116.5h0M285.1 116.2h0M290 108.1h0M280.8 109.3h0M283.3 110.6h0M278.3 112.4h0M273.3 107.2h0M277 108.7h0M293.9 105.2h0M288.8 112.1h0M284.1 109.1h0M271.6 111.7h0M276.2 113.2h0M286.8 109.3h0M276.9 112.3h0M278.6 105h0M278 110h0M272.2 109.4h0M273.9 109.8h0M276.7 114.6h0M292.1 110.9h0M283.8 111h0M273.3 110.8h0M273 113.4h0M276.5 108.7h0M282.7 111.5h0M279.5 112.8h0M278.1 112.4h0M282.4 110.7h0M291 108h0M292.7 111.3h0M281.8 114.9h0M288.7 119.2h0M280.7 107.9h0M286.1 111.5h0M261.7 117.2h0M270.2 101.2h0M277.6 109.9h0M274.4 109.9h0M284.7 113.3h0M274.8 113.1h0M288.5 107.6h0M279.4 110.4h0M287.2 109.2h0M274.8 109.9h0M283.4 108.7h0M284.7 112.6h0M285.7 112h0M276 109h0M282.5 111.6h0M280.5 109.4h0M264.3 113.7h0M286 111.7h0M277.1 104.8h0M279.2 109.7h0M287.3 110.8h0M285.7 107.1h0M268.9 109h0M276.5 114.2h0M279 109.7h0M277 107.4h0M280 114.4h0M288.8 111.4h0M269.7 117.2h0M267.4 112.6h0M270.2 114.9h0M280.3 117.7h0M272 109.6h0M271.7 112.1h0M282.8 108.8h0M281.8 108.8h0M278.2 113.1h0M281.4 106h0M275.7 116.8h0M284.5 108h0M274.2 112.4h0M274.4 112.3h0M284.4 109.1h0M279.8 107.7h0M283.9 109.2h0M279.2 108.3h0M277.3 110.7h0M291.7 113h0M282.2 108.6h0M266.1 107.9h0M274.2 107.5h0M277.2 110.9h0M278.9 107.7h0M270.9 107.8h0M277.4 107.6h0M280.5 109.9h0M284.9 108.9h0M280.4 108.4h0M275.4 107.9h0M275.2 111.4h0M269.9 115h0M282.6 111.8h0M286.1 114.9h0M284.7 108.5h0M289.1 104.5h0M286.1 117.5h0M273.8 110.8h0M280.3 105.2h0M280.8 107.8h0M279.3 113.3h0M272.6 107.2h0M276.6 113.5h0M276.5 108.2h0M286.5 108.3h0M270.5 108.3h0M285.5 112.1h0M278.2 116.4h0M270.6 107.1h0M278.9 111.5h0M284.2 114.1h0M281.2 108.6h0M290 114.9h0M280.9 109.7h0M283.7 110.5h0M261.5 110.8h0M288.1 114.8h0M280.9 110.6h0M274.1 114.7h0M287.2 110.7h0M294.1 109.9h0M284.3 115.8h0M276.6 109.6h0M270.9 110.9h0M276.2 109.1h0M281.2 112.8h0M284.3 108.5h0M283.6 113.6h0M287.4 109.7h0M277 110.9h0M277.6 109h0M287.4 108.4h0M283.5 111.5h0M280 110.4h0M273.7 111.7h0M283 114.8h0M280.9 107.1h0M278.4 109.8h0M278.1 110.4h0M279.2 104h0M283.2 112.6h0M281.3 108.5h0M280.1 111.8h0M275.6 109.9h0M284.9 114.6h0M283.5 109.7h0M276.6 114.4h0M283.3 111.7h0M275.6 112.7h0M276.4 111.3h0M271.2 118.2h0M278 108.4h0M283.3 107.7h0M278.4 106.1h0M271.1 114.6h0M278 104.5h0M269.9 108.1h0M276.4 106.6h0M266.7 112.9h0M275.8 109.6h0M281.8 114.6h0M279.2 115.3h0M281.3 114.4h0M281 108.7h0M284.2 113.1h0M280 113.4h0M277 109.3h0M284.9 111h0M279.6 108.6h0M288.3 111.3h0M278.4 113.4h0M268.1 108.6h0M271 112.8h0M275.3 115h0M291.5 114.7h0M269.5 106.3h0M269.2 106.5h0M272.4 109.4h0M279.5 109.2h0M276 108.5h0M282.5 109.1h0M279.1 115.4h0M278.1 112.2h0M289.6 109.2h0M275.6 108.9h0M283 112h0M290 109.6h0M278.2 109.8h0M281 115.4h0M277.1 105.9h0M270.4 112.4h0M276.8 110h0M286.4 108.8h0M278.4 102.4h0M279.5 108.9h0M279.1 112.6h0M272.6 111.6h0M284.8 106.3h0M277.8 109.8h0M278.9 111.2h0M294.7 110.2h0M279.8 108.7h0M292.5 110.8h0M289.3 108.2h0M284.5 107.9h0M269.9 113.9h0M268.8 106h0M276 106.9h0M279.1 109.1h0M277.3 111.1h0M287.3 111.5h0M266.1 113.5h0M280.9 111.8h0M281.6 115.6h0M273.6 113.1h0M269.1 109.6h0M272.3 111.3h0M270.8 100.8h0M278.6 106.8h0M277.1 108.5h0M281.7 108.3h0M276.5 107.4h0M285.8 105.1h0M275.1 109.3h0M272.3 105.1h0M290.3 111.4h0M280.4 114.4h0M277.7 115.4h0M276.9 114h0M263.5 113.2h0M268.8 110.4h0M296.8 109.4h0M276.6 111.2h0M279.2 113h0M283.5 109.3h0M283.7 109.5h0M283.2 112.9h0M274.4 112.6h0M269.9 109.4h0M271.5 109.2h0M269.5 106.7h0M288.7 107.6h0M269.2 106.9h0M273.3 108.7h0M281.2 109.6h0M285 104.9h0M266.5 110.4h0M279.1 107.2h0M282.5 117.5h0M284.3 110.5h0M278.7 108.3h0M277.4 116.2h0M274.1 109h0M273.1 112h0M275.1 112.7h0M271.5 111.2h0M279.1 106.6h0M284.8 108.2h0M267.4 112.2h0M290.4 114.1h0M279.5 106.2h0M281.2 111h0M276.8 108.7h0M283.1 108.4h0M295 112.1h0M275.9 110.8h0M284.1 111.6h0M283.1 110.4h0M278.8 109.5h0M274.1 109h0M284.8 103.7h0M278.2 119.6h0M265.4 108.3h0M276.6 107.3h0M287.6 114.3h0M284.1 108.1h0M290.6 107.2h0M270.2 110.6h0M279.9 110.7h0M278.9 106.3h0M283.8 113h0M284.3 109h0M279.8 111.6h0M278.3 112.3h0M269.7 113.8h0M266.8 106.2h0M287.8 110.4h0M280.1 107.7h0M284.7 104.1h0M281.7 106.3h0M282.1 106.6h0M283.5 106.9h0M281 105.7h0M283.5 106.1h0M277.6 110.2h0M274.9 111.2h0M272 110.2h0M283.2 109h0M283.4 107h0M279.2 107.3h0M275.1 110.1h0M280.1 108.1h0M275.9 110.4h0M280.6 108.4h0M282.2 108.6h0M285.6 110.6h0M282.1 110.4h0M277.4 110.3h0M280.4 115.1h0M287.2 106.9h0M271.2 110.9h0M273.7 103.5h0M279.4 114h0M271.5 110.8h0M278 110.4h0M282.8 113h0M288.9 114h0M278.1 113.2h0M276.6 114.9h0M291.5 113.1h0M290.8 108h0M275.4 108.6h0M296.5 113.2h0M283.7 111.5h0M270.3 110.3h0M274.6 113.2h0M286 110.7h0M283.2 113.2h0M282.2 111.2h0M284.2 112.5h0M287.3 114h0M286.5 112.5h0M288.4 111.5h0M271.8 109.7h0M282.6 111.4h0M282.2 112.3h0M288.7 110.4h0M283.6 111.5h0M281 109.5h0M283.8 106.3h0M279.7 112.4h0M275.2 105.4h0M289.2 106.1h0M283.2 113h0M279.5 110.1h0M273.8 112h0M277 108.2h0M286.9 114.7h0M269 105.9h0M282.4 109.1h0M290.2 111.1h0M265.7 117.1h0M270.8 112.4h0M272 106h0M276.2 113.1h0M286.8 111.3h0M271.7 109.6h0M277.3 113.9h0M274.7 116.5h0M283.3 105.9h0M282.3 106.4h0M285.3 112.6h0M278.4 107.2h0M274.3 107h0M286.1 107.4h0M287.5 107.1h0M274.3 108.8h0M277.1 114.7h0M279.1 105.1h0M283.3 109.8h0M279 102.7h0M281.1 112.3h0M272.1 106h0M283.8 103h0M282.3 114.1h0M274.7 110.6h0M278.1 110.1h0M277.9 108.2h0M284.8 110.3h0M292.8 112.8h0M278.4 108.5h0M291.3 111.5h0M280.3 108.2h0M280.8 107.8h0M277 111.5h0M286 111.3h0M279.1 106.4h0M287 108.7h0M283.9 110.5h0M272 111.5h0M275 113.6h0M279.3 107.9h0M272.9 115.1h0M286 105.3h0M272.3 111.5h0M277.2 114.1h0M273.8 117.7h0M261.5 111.5h0M277.6 107h0M280.7 113.7h0M287.1 114.4h0M272.6 109.7h0M280.7 110.3h0M282.4 112.5h0M286.3 109.5h0M272.1 114.5h0M281.3 104.8h0M283.5 110.2h0M270.8 113h0M282.3 107.5h0M283.8 113h0M277.1 108.9h0M271.1 104.4h0M266.9 108.3h0M277.4 109h0M288.5 109.6h0M275 108h0M278.4 113.6h0M289.6 106.3h0M278.5 105h0M276.7 108.9h0M279.1 111.5h0M276.5 112.3h0M287.4 111.8h0M277.2 110.7h0M284.1 108.9h0M287.4 112.7h0M277.2 110.4h0M277.4 100.4h0M270 112.3h0M278 109.2h0M283.3 106.2h0M288.1 112.3h0M275.4 112.7h0M285.1 111.3h0M287 113.8h0M281.1 108.3h0M286.8 108.6h0M266.9 113.7h0M267.4 113.2h0M270.5 109h0M277.8 106.2h0M271.3 109.7h0M285.7 114.1h0M273.8 110.7h0M280.3 110.1h0M275.6 111.5h0M273.5 110.3h0M276.8 109.2h0M278.8 106.7h0M278.5 111.5h0M275 111.3h0M269.4 118.3h0M268 108.3h0M277.4 113.4h0M289.4 112.1h0M275.8 108.7h0M289.1 112h0M288.8 113.3h0M289.3 103.9h0M281.8 112.4h0M280 113.3h0M286.1 112.4h0M297.7 110.7h0M276.5 114.2h0M270.1 113.2h0M273.6 108.8h0M272.7 104.6h0M281 113.7h0M279.3 107.4h0M271.4 112.9h0M275.9 109.5h0M285.2 111.8h0M288.3 111.2h0M280 112.7h0M283.6 111.5h0M276.7 108.6h0M280.4 106.4h0M279.1 110.5h0M278.1 112.1h0M281.1 108.9h0M288.2 111.1h0M275.1 112.6h0M274 108.9h0M280.3 113.2h0M282.8 113.2h0M296.3 112.6h0M270.9 107.3h0M278 109.5h0M281 109.2h0M287.1 116.4h0M278.9 108.9h0M273.5 110.6h0M293.9 108.3h0M280.8 113.5h0M274.9 105.9h0M276 111.3h0M273.4 110h0M287.1 107.9h0M290.7 118.5h0M281.2 105.3h0M279.8 111.2h0M277.9 109.5h0M283.7 115.2h0M285.6 112.3h0M278.5 113.5h0M275.8 108.9h0M269.6 111.8h0M276.4 109h0M283.3 115.4h0M282 115.4h0M286.4 114.5h0M274.7 112.1h0M290.5 108h0M275.3 114.4h0M277.7 115.6h0M276.4 113.7h0M263.7 105.5h0M291.9 111h0M286.3 116.5h0M280.6 114.4h0M265.2 107h0M279.2 114.7h0M287.9 109.4h0M277.1 114.9h0M279.2 109.1h0M285 113.6h0M277.9 111.9h0M284.3 116.1h0M277 114.4h0M286.3 112.1h0M280.4 114.7h0M288.6 109h0M281.5 112.1h0M275.3 109.1h0M289.9 109.8h0M280.4 106.1h0M284.2 114.2h0M278.3 114.3h0M278.3 112.6h0M282.1 112.7h0M283.9 107.9h0M285.8 109.8h0M281.9 109.8h0M283.9 107h0M269.7 114.2h0M279.5 107.8h0M280.5 113.3h0M273.5 110.7h0M286.1 112.7h0M276.3 106.6h0M268.1 112.9h0M284.1 114.8h0M278.4 107.5h0M272.1 107.4h0M279.4 108.2h0M285.8 107.2h0M278.4 110.5h0M286.2 108.1h0M281.2 107.8h0M275.5 112.9h0M270.9 113.8h0M282 111.8h0M294.6 108.4h0M275.1 111.2h0M282 114h0M286.6 110.4h0M280.3 111.1h0M281 117.2h0M269.4 108.9h0M270.5 103.6h0M282.9 113.9h0M282.8 114.1h0M280.6 106h0M293 112.7h0M275.9 111h0M287.8 114.3h0M286.5 111.8h0M274.2 108.7h0M277.8 111.9h0M274.3 110.6h0M275 104.6h0M274.5 110.3h0M282.2 107.5h0M285.6 114.5h0M277.7 111.4h0M288.4 112.3h0M293.4 111h0M278.8 116h0M283 113.4h0M273.5 106.2h0M265.3 112.6h0M270.9 113.6h0M283.3 108h0M276.8 107h0M277.6 106.6h0M282.8 113.7h0M280 112.9h0M278.7 109.8h0M280.9 115.1h0M276.1 108.4h0M269.3 107.6h0M270 112.6h0M259.2 112.3h0M278.6 109h0M271.5 119.4h0M291.2 110.8h0M286.6 108.8h0M275.1 107.3h0M271.4 112h0M266.9 108.1h0M282.4 111h0M273 107.8h0M284.1 107.6h0M279.5 109.1h0M284.2 115.6h0M281.1 114.7h0M274 107.9h0M283.2 113.4h0M281.4 109.8h0M264.8 105.3h0M273.2 109.4h0M270.8 109.7h0M297.6 105.2h0M278.8 106.4h0M277.5 106.1h0M268.6 111.1h0M267.7 111.7h0M285.9 109.8h0M272.9 104.9h0M268.2 111.5h0M289.9 111.3h0M272.5 110.5h0M282 111.8h0M281.8 105.5h0M277.8 109.9h0M284.3 111.7h0M289.9 104.5h0M270.9 109.7h0M300.5 108.3h0M269.6 110.1h0M281.6 107h0M282.6 109.8h0M281.5 108.3h0M276.3 105.5h0M288.2 113h0M284.7 110.3h0M282.7 111.1h0M268.4 106.6h0M284.1 112.3h0M275.3 110h0M275 108.1h0M282.7 107.3h0M280.4 109.7h0M277.7 106.2h0M288.7 118.3h0M267.4 112.2h0M266.7 115.8h0M278.2 113.5h0M280.9 109.6h0M274.8 107.5h0M280.7 109.6h0M276.6 112.1h0M285.4 108.3h0M276.6 111.8h0M273.4 114.5h0M278.2 106h0M276.9 109.4h0M279.7 111.9h0M282.5 107.2h0M288.4 107h0M281.7 114h0M273.6 111.8h0M280 112.1h0M276 110.5h0M280.7 110.9h0M291.9 105.9h0M279.5 112.5h0M278.1 109.4h0M278.5 110h0M271.3 113.8h0M276.4 110.4h0M265.9 110.5h0M277.6 113.5h0M287 110.8h0M280.4 110.7h0M276.6 107.3h0M281.9 111.1h0M273.2 108.4h0M292.2 115.4h0M284.8 108.7h0M274.6 104.9h0M273.1 109.2h0M279.5 111.6h0M289.9 106.7h0M282.7 112.6h0M273.4 112.7h0M280.2 110.1h0M286.6 107.7h0M278.2 106.8h0M278.6 113.6h0M276.7 108.1h0M279.5 109.8h0M288.2 112h0M281.7 108.1h0M288.7 104.4h0M284.4 110.7h0M278.5 107.3h0M275.6 111.2h0M286.1 106.5h0M286.2 112.4h0M279.2 117.3h0M263.2 106.3h0M276.4 110.8h0M276.7 110h0M280.6 111.7h0M269.9 113.8h0M279.1 106.9h0M291.3 111.4h0M280.7 105.1h0M281.4 110h0M290.8 107.7h0M280.8 110.8h0M283.3 105.4h0M274.3 105h0M279.4 116.2h0M270.4 112h0M277.5 114h0M277.9 108h0M271.4 109.6h0M270.7 112.7h0M272.5 108.6h0M277.9 114h0M264.2 105.2h0M292.8 108.8h0M272.4 109.9h0M279.2 108.9h0M272.4 106.5h0M281 111h0M278.4 112.2h0M286.6 108.9h0M282.1 108h0M282 111h0M276.4 117.4h0M275.2 104.8h0M290 106.4h0M281.7 109.9h0M282.4 114.6h0M270.8 108h0M277.7 109.8h0M272.1 110.5h0M284.1 108.2h0M276.5 113.4h0M279.4 107.7h0M277.6 108.6h0M287.3 104.7h0M273 114.4h0M273.1 109.7h0" stroke="#4b9fe4" stroke-width="1.1" stroke-linecap="round"/>
<path d="M235 113.1h0M246.8 110h0M237.2 107.4h0M232 108.9h0M208.7 114.4h0M229.9 110.9h0M230.3 109.4h0M241.1 107h0M229.4 114.8h0M232 112.3h0M228 114.4h0M244.8 104.9h0M230.2 112.1h0M237.7 104.8h0M241 107.9h0M238.9 110.8h0M234.2 115.4h0M207.2 116.4h0M221.5 113.8h0M237.3 107.2h0M244.7 108.4h0M212.3 119.2h0M248.7 111.3h0M222.2 114.9h0M247 104h0M220.1 118.6h0M239.5 106.6h0M238.7 108.4h0M251.3 110h0M238.5 109.4h0M245.9 104.5h0M217.5 113.4h0M236.7 111.4h0M229.3 108h0M244 105.8h0M231.8 108.7h0M237.2 106.7h0M218.9 118.2h0M227.8 109.3h0M239.7 106.9h0M216 113.2h0M241.7 106.2h0M243.6 106.9h0M224.1 111.7h0M242.2 102.9h0M236.4 108.1h0M246.8 106.6h0M252.7 107.4h0M246.2 105.9h0M247.7 104.8h0M234.7 113.1h0M229.9 109.7h0M243.6 105.7h0M248.9 106.2h0M247.2 111.1h0M211.1 115.2h0M244.6 102.5h0M249.7 103h0M229.9 113h0" stroke="#e597aa" stroke-width="1.1" stroke-linecap="round"/>
<path d="M244 111.2h0M236.6 113.8h0M216.1 115.6h0M230.8 109.3h0M233.2 115.7h0M217.2 112.9h0M224.9 109.9h0M239.2 109.5h0M220.9 116.5h0M219.9 117h0M226.2 108.2h0M240.8 106.7h0M235.7 109.6h0M238.3 108.1h0M245.9 107.4h0M219.6 116.3h0M237.8 108.3h0M242.1 108.8h0M236.2 113h0M244.2 108.5h0M233.2 111.2h0M245.1 108.8h0M215.4 115.4h0M248.3 109.8h0M228.4 110.6h0M236.3 108.4h0M243.4 106.7h0M242.6 112.2h0M219.8 113.6h0M227.1 110.6h0M242.2 106.2h0M245.6 106.1h0M216.7 117h0M233.2 106.9h0M238.2 109.5h0M245.6 112h0M220.7 115.4h0M244.3 105.7h0M244.5 103.8h0M218.7 116.4h0M243.5 106.7h0M238.6 104.8h0M249.1 106.2h0M248.9 107.1h0M243.2 107.6h0M234.4 108.5h0M217.4 115.7h0M235.7 110.5h0M214.9 118.6h0M239.1 107.7h0" stroke="#d04467" stroke-width="0.9" stroke-linecap="round"/>
<path d="M232.7 103.9h0M249 103.4h0M242.8 111.1h0M245 114.8h0M213.4 102.8h0M216.4 107.3h0M235.7 115.3h0M236.2 102.6h0" stroke="#b9b0c0" stroke-width="0.9" stroke-linecap="round"/>
<path d="M203.1 5.4H329.3" stroke="#222" stroke-width="1.3"/>
<rect x="203.1" y="5.4" width="126.2" height="115.2" fill="none" stroke="#2a2a2a" stroke-width="1"/>
<path d="M203.1 120.1h-3M203.1 115.6h-2.2M203.1 111.2h-2.2M203.1 106.7h-2.2M203.1 102.3h-2.2M203.1 97.8h-3M203.1 93.3h-2.2M203.1 88.9h-2.2M203.1 84.4h-2.2M203.1 80h-2.2M203.1 75.5h-3M203.1 71h-2.2M203.1 66.6h-2.2M203.1 62.1h-2.2M203.1 57.7h-2.2M203.1 53.2h-3M203.1 48.7h-2.2M203.1 44.3h-2.2M203.1 39.8h-2.2M203.1 35.4h-2.2M203.1 30.9h-3M203.1 26.4h-2.2M203.1 22h-2.2M203.1 17.5h-2.2M203.1 13.1h-2.2M203.1 8.6h-3M203.2 120.6v3M212.7 120.6v2M218.2 120.6v2M222.2 120.6v2M225.2 120.6v2M227.7 120.6v2M229.8 120.6v2M231.7 120.6v2M233.3 120.6v2M234.7 120.6v3M244.2 120.6v2M249.8 120.6v2M253.7 120.6v2M256.8 120.6v2M259.3 120.6v2M261.4 120.6v2M263.2 120.6v2M264.8 120.6v2M266.2 120.6v3M275.7 120.6v2M281.3 120.6v2M285.2 120.6v2M288.3 120.6v2M290.8 120.6v2M292.9 120.6v2M294.7 120.6v2M296.3 120.6v2M297.8 120.6v3M307.3 120.6v2M312.8 120.6v2M316.8 120.6v2M319.8 120.6v2M322.3 120.6v2M324.4 120.6v2M326.2 120.6v2M327.9 120.6v2M329.3 120.6v3" stroke="#222" stroke-width="0.85" fill="none"/>
<text x="198.2" y="118.8" font-size="6.3" text-anchor="middle" transform="rotate(-90 198.2 118.8)" fill="#1f1f1f" stroke="#1f1f1f" stroke-width="0.24">0</text>
<text x="198.2" y="96.5" font-size="6.3" text-anchor="middle" transform="rotate(-90 198.2 96.5)" fill="#1f1f1f" stroke="#1f1f1f" stroke-width="0.24">200</text>
<text x="198.2" y="74.2" font-size="6.3" text-anchor="middle" transform="rotate(-90 198.2 74.2)" fill="#1f1f1f" stroke="#1f1f1f" stroke-width="0.24">400</text>
<text x="198.2" y="51.9" font-size="6.3" text-anchor="middle" transform="rotate(-90 198.2 51.9)" fill="#1f1f1f" stroke="#1f1f1f" stroke-width="0.24">600</text>
<text x="198.2" y="29.6" font-size="6.3" text-anchor="middle" transform="rotate(-90 198.2 29.6)" fill="#1f1f1f" stroke="#1f1f1f" stroke-width="0.24">800</text>
<text x="198.2" y="7.3" font-size="6.3" text-anchor="middle" transform="rotate(-90 198.2 7.3)" fill="#1f1f1f" stroke="#1f1f1f" stroke-width="0.24">1000</text>
<text x="203" y="131.3" font-size="6.7" text-anchor="middle" fill="#1f1f1f" stroke="#1f1f1f" stroke-width="0.2">10<tspan font-size="5.0" dy="-3.0">0</tspan></text>
<text x="234.5" y="131.3" font-size="6.7" text-anchor="middle" fill="#1f1f1f" stroke="#1f1f1f" stroke-width="0.2">10<tspan font-size="5.0" dy="-3.0">1</tspan></text>
<text x="266.1" y="131.3" font-size="6.7" text-anchor="middle" fill="#1f1f1f" stroke="#1f1f1f" stroke-width="0.2">10<tspan font-size="5.0" dy="-3.0">2</tspan></text>
<text x="297.6" y="131.3" font-size="6.7" text-anchor="middle" fill="#1f1f1f" stroke="#1f1f1f" stroke-width="0.2">10<tspan font-size="5.0" dy="-3.0">3</tspan></text>
<text x="329.1" y="131.3" font-size="6.7" text-anchor="middle" fill="#1f1f1f" stroke="#1f1f1f" stroke-width="0.2">10<tspan font-size="5.0" dy="-3.0">4</tspan></text>
<text x="266.1" y="138.1" font-size="6.5" text-anchor="middle" fill="#1f1f1f" stroke="#1f1f1f" stroke-width="0.24">CD45 PerCP</text>
<text x="190.6" y="64" font-size="6.5" text-anchor="middle" transform="rotate(-90 190.6 64)" fill="#1f1f1f" stroke="#1f1f1f" stroke-width="0.24">Side Scatter</text>
<rect x="203.3" y="99.4" width="50.3" height="20.9" fill="none" stroke="#1c1c1c" stroke-width="1.35"/>
<text x="204.4" y="93.6" font-size="6.85" text-anchor="start" fill="#1f1f1f" stroke="#1f1f1f" stroke-width="0.24">CD45-</text>
<text x="230.6" y="93.6" font-size="6.85" text-anchor="start" fill="#1f1f1f" stroke="#1f1f1f" stroke-width="0.24">cells</text>
<path d="M42.3 203.6h0M45 202.7h0M42.6 205.5h0M40.1 203h0M40.9 202.8h0M38.5 194.3h0M45.5 202.2h0M41.2 201.3h0M39.1 203.3h0M47.4 203.9h0M43.7 200.1h0M38.5 198.6h0M45.4 197.6h0M36.9 202.7h0M40.3 200.5h0M38 201.8h0M41.6 200.3h0M36.6 199h0M42.5 207h0M35.1 200.4h0M39 198.7h0M42.2 204.8h0M43.8 199.6h0M41.8 201.6h0M44.2 200.1h0M45 206.3h0M42.1 198.9h0M48 203.9h0M42.3 199.5h0M45.2 200.7h0M38.7 202.6h0M43.5 199.2h0M43 207.6h0M39.4 196.9h0M49.5 203.8h0M40.5 201.4h0M41 206.5h0M47.8 198.9h0M52.1 201h0M50.2 194.6h0M43.4 200h0M48.4 200.9h0M41.8 200.5h0M48.2 204h0M39.5 206.5h0M46.6 200.5h0M43.3 203.7h0M36.9 204.2h0M49.1 202.1h0M43.2 206.7h0M40.2 197.9h0M39.1 202.1h0M37.9 203.1h0M44.5 199.4h0M37.1 198.8h0M37.4 206.9h0M41.7 206.5h0M39.2 203.2h0M40.7 206.4h0M41.4 207.3h0M37.1 200.6h0M41 200.7h0M44.6 207.9h0M38.3 203h0M37.3 199.5h0M40.4 205.8h0M40.1 205.9h0M41.2 201h0M38.9 208.4h0M44.8 203.6h0M36.2 198.9h0M38.2 202.5h0M38.7 197.7h0" stroke="#eaa0b3" stroke-width="1.1" stroke-linecap="round"/>
<path d="M44.8 200h0M37.2 207.1h0M40.2 204h0M39.1 203.1h0M39.4 197.4h0M42.2 196.1h0M39 204.9h0M37.9 199.2h0M39.3 196.8h0M41.8 201.1h0M41.9 203.4h0M42.5 206.1h0M41.2 201.6h0M41.3 201.2h0M43.4 199.7h0M48.5 208.7h0M39.5 207.9h0M39.9 203.9h0M41.9 194.7h0M45.6 201.8h0M45.1 200.4h0M47.9 200h0M44.4 203.3h0M42.9 201.2h0M37.5 208.6h0M43 201.7h0M42.3 206h0M40.7 197.3h0M35.8 205.8h0M44.8 204.6h0M37.2 200.2h0M43.8 199.6h0M40.1 204h0M41.9 204.8h0M40.6 203.8h0M38.4 200.5h0M38.8 201.5h0M39.7 198.8h0M40.6 202.6h0M44.3 203.8h0M42.3 208.2h0M37.5 203.4h0M39.9 197h0M45.3 203.7h0M42.6 199.2h0M40.1 200.6h0M44.6 204.3h0M39.9 194.1h0M46 206.1h0M42.1 206.8h0M41.3 201.1h0M45.3 203.8h0M40.9 199h0M47.2 199.6h0M43.3 195.9h0M36.2 206.5h0M46.7 205.8h0M42.7 196.7h0M38.1 196.9h0M37.3 204.1h0M40.6 201h0M41.2 205.1h0" stroke="#cf2f58" stroke-width="0.8" stroke-linecap="round"/>
<rect x="34.4" y="156.8" width="70.2" height="53.2" fill="none" stroke="#1c1c1c" stroke-width="1.3"/>
<path d="M54 156.8V210 M34.4 194.7H104.6" stroke="#1c1c1c" stroke-width="1.3" fill="none"/>
<path d="M34.4 210v2.8M34.4 210h-2.8M39.7 210v2.0M34.4 206h-2.0M42.8 210v2.0M34.4 203.7h-2.0M45 210v2.0M34.4 202h-2.0M46.7 210v2.0M34.4 200.7h-2.0M48.1 210v2.0M34.4 199.7h-2.0M49.2 210v2.0M34.4 198.8h-2.0M50.2 210v2.0M34.4 198h-2.0M51.1 210v2.0M34.4 197.3h-2.0M51.9 210v2.8M34.4 196.7h-2.8M57.2 210v2.0M34.4 192.7h-2.0M60.3 210v2.0M34.4 190.4h-2.0M62.5 210v2.0M34.4 188.7h-2.0M64.2 210v2.0M34.4 187.4h-2.0M65.6 210v2.0M34.4 186.4h-2.0M66.8 210v2.0M34.4 185.5h-2.0M67.8 210v2.0M34.4 184.7h-2.0M68.7 210v2.0M34.4 184h-2.0M69.5 210v2.8M34.4 183.4h-2.8M74.8 210v2.0M34.4 179.4h-2.0M77.9 210v2.0M34.4 177.1h-2.0M80.1 210v2.0M34.4 175.4h-2.0M81.8 210v2.0M34.4 174.1h-2.0M83.2 210v2.0M34.4 173.1h-2.0M84.3 210v2.0M34.4 172.2h-2.0M85.3 210v2.0M34.4 171.4h-2.0M86.2 210v2.0M34.4 170.7h-2.0M87 210v2.8M34.4 170.1h-2.8M92.3 210v2.0M34.4 166.1h-2.0M95.4 210v2.0M34.4 163.8h-2.0M97.6 210v2.0M34.4 162.1h-2.0M99.3 210v2.0M34.4 160.8h-2.0M100.7 210v2.0M34.4 159.8h-2.0M101.9 210v2.0M34.4 158.9h-2.0M102.9 210v2.0M34.4 158.1h-2.0M103.8 210v2.0M34.4 157.4h-2.0M104.6 210v2.8M34.4 156.8h-2.8" stroke="#1a1a1a" stroke-width="1.0" fill="none"/>
<text x="34.6" y="220.7" font-size="6.1" text-anchor="middle" fill="#1f1f1f" stroke="#1f1f1f" stroke-width="0.2">10<tspan font-size="5.2" dy="-3.1">0</tspan></text>
<text x="28.8" y="210.3" font-size="6.1" text-anchor="middle" fill="#1f1f1f" stroke="#1f1f1f" stroke-width="0.2" transform="rotate(-90 28.8 210.3)">10<tspan font-size="5.2" dy="-3.1">0</tspan></text>
<text x="52.1" y="220.7" font-size="6.1" text-anchor="middle" fill="#1f1f1f" stroke="#1f1f1f" stroke-width="0.2">10<tspan font-size="5.2" dy="-3.1">1</tspan></text>
<text x="28.8" y="197" font-size="6.1" text-anchor="middle" fill="#1f1f1f" stroke="#1f1f1f" stroke-width="0.2" transform="rotate(-90 28.8 197)">10<tspan font-size="5.2" dy="-3.1">1</tspan></text>
<text x="69.7" y="220.7" font-size="6.1" text-anchor="middle" fill="#1f1f1f" stroke="#1f1f1f" stroke-width="0.2">10<tspan font-size="5.2" dy="-3.1">2</tspan></text>
<text x="28.8" y="183.7" font-size="6.1" text-anchor="middle" fill="#1f1f1f" stroke="#1f1f1f" stroke-width="0.2" transform="rotate(-90 28.8 183.7)">10<tspan font-size="5.2" dy="-3.1">2</tspan></text>
<text x="87.2" y="220.7" font-size="6.1" text-anchor="middle" fill="#1f1f1f" stroke="#1f1f1f" stroke-width="0.2">10<tspan font-size="5.2" dy="-3.1">3</tspan></text>
<text x="28.8" y="170.4" font-size="6.1" text-anchor="middle" fill="#1f1f1f" stroke="#1f1f1f" stroke-width="0.2" transform="rotate(-90 28.8 170.4)">10<tspan font-size="5.2" dy="-3.1">3</tspan></text>
<text x="104.8" y="220.7" font-size="6.1" text-anchor="middle" fill="#1f1f1f" stroke="#1f1f1f" stroke-width="0.2">10<tspan font-size="5.2" dy="-3.1">4</tspan></text>
<text x="28.8" y="157.1" font-size="6.1" text-anchor="middle" fill="#1f1f1f" stroke="#1f1f1f" stroke-width="0.2" transform="rotate(-90 28.8 157.1)">10<tspan font-size="5.2" dy="-3.1">4</tspan></text>
<text x="68.5" y="227.5" font-size="6.1" text-anchor="middle" fill="#1f1f1f" stroke="#1f1f1f" stroke-width="0.24">FL1-H</text>
<text x="20.1" y="183.7" font-size="6.1" text-anchor="middle" transform="rotate(-90 20.1 183.7)" fill="#1f1f1f" stroke="#1f1f1f" stroke-width="0.24">FL4-H</text>
<path d="M154.6 192.8h0M151.3 188.9h0M155.5 188.6h0M152.2 192.4h0M145.9 184.4h0M154.6 184.7h0M155.8 183.7h0M152.8 189.9h0M152.6 186.8h0M155.2 183.4h0M151.7 182.3h0M150.7 183.6h0M154.8 187.5h0M154.4 182.9h0M152.6 192.8h0M150.2 183.1h0M153 183.9h0M158.5 191.4h0M154.7 183h0M153.8 191.4h0M153.5 179.9h0M151.1 189.3h0M154.3 187.2h0M153.9 185.5h0M157.6 183.9h0M157.4 187.3h0M148.6 183.5h0M156.1 183.5h0M158 186h0M150.6 185.7h0M153.8 191.6h0M152.5 185.6h0M148.3 187.5h0M151.5 192.5h0M156.2 186.4h0M160.4 187.4h0M151.8 191.2h0M147.3 193.7h0M157.5 190.1h0M153.6 186.3h0M150.7 183h0M153.8 189h0M158.3 192.1h0M157.1 187.7h0M151.6 185.5h0M152.6 185.6h0M155.1 183.8h0M155.1 189.5h0M155.4 185.2h0M157.3 185.6h0M158 187.7h0M152.4 184.6h0M161.9 184.2h0M156.1 188.1h0M154.7 188.5h0M153 183.2h0M150.9 189.1h0M153.5 184.2h0M158 187.1h0M152.3 186.2h0M150.7 188.4h0M155.7 183.2h0M154 195.3h0M150.8 181.7h0M151.6 186.1h0M156.3 186.4h0M152.1 187.2h0M151.1 186.9h0M156.9 183.2h0M157 183.4h0M156.9 189.5h0M156 185.2h0M155.3 186.1h0M151.4 186.1h0M153.7 190.7h0M155.8 188h0M156.2 188.3h0M150.2 183h0M152.9 177.1h0M156.2 186.6h0M146.1 192h0M153.5 188.3h0M148.4 187.9h0M157.9 187.6h0M155.1 188.2h0M158.3 182.5h0M155 191.2h0M154.1 190.1h0M155.1 184h0M152 189.5h0M151.5 186.9h0M154.2 185h0M155.2 186.6h0" stroke="#eaa0b3" stroke-width="1.1" stroke-linecap="round"/>
<path d="M151.4 180.9h0M148.7 182.7h0M157.8 184.1h0M151.8 186.5h0M146.9 185.4h0M154.3 188.6h0M151.9 183.9h0M159.8 181.1h0M157.2 187.5h0M151.7 187.8h0M154.6 188.3h0M160.5 186.5h0M150.8 182.4h0M154.3 190h0M150.8 188.7h0M157.5 189.9h0M148.3 183.5h0M150.9 180.1h0M157.3 189.3h0M148 189.6h0M154.5 183.6h0M153.9 193h0M154.5 187.1h0M150 185.2h0M151.9 186h0M151.9 187.3h0M154.2 186.6h0M154.4 186.8h0M147 188.7h0M153.6 191.2h0M153.9 187.1h0M151.2 190.7h0M151 190h0M151.5 183h0M147.4 187.6h0M154 186.1h0M155 191.9h0M156.2 186.6h0M152.3 186.4h0M152.2 188.3h0M153.3 189.3h0M156.1 193.5h0M156.3 186.3h0M155.7 189.7h0M150.8 192.2h0M159.1 187.7h0M147.6 191.8h0M152.2 186.6h0M150.1 180h0M151.4 191.4h0M154.3 185.1h0M156.4 185.1h0M158.5 184.2h0M150.8 188h0M157.8 188.5h0M154.8 186.8h0M151.3 188.2h0M158.3 187.5h0M154 180.4h0M153.9 190.4h0M151.4 185.2h0M152.7 189.6h0M152.4 190.7h0M152.2 186.3h0M152.4 186.8h0M152.2 186.7h0M154.4 189.8h0M155.9 187h0M149.7 188.4h0M152.4 183.6h0M155.4 190.3h0M153.5 185.9h0M149.4 186.9h0M150.6 183.8h0M151.6 182.5h0M155.4 186.2h0" stroke="#cf2f58" stroke-width="0.8" stroke-linecap="round"/>
<path d="M152 174.5h0M149.8 172.9h0M150.2 170.1h0M150.8 173.6h0M152.2 171h0M152.1 169.9h0M154.6 169.4h0M152.4 176h0M152.7 175.6h0M149.2 172.7h0M149.2 171.3h0M148.8 171.5h0M157 171h0M157.4 173.1h0M155 169.1h0M155 171.2h0" stroke="#cf2f58" stroke-width="0.9" stroke-linecap="round"/>
<path d="M156.1 171.4h0M144.7 171.9h0M156.2 170.9h0M153 174h0M154.3 173.4h0M158 173.4h0M153 171.4h0M155.5 171h0" stroke="#eaa0b3" stroke-width="1" stroke-linecap="round"/>
<path d="M161.9 190.5h0M168.8 172.9h0M165.7 168.1h0M175.3 175h0M170 179.6h0M169.3 185.4h0M168.1 166.4h0M173.3 181.5h0M172.6 180.2h0M173.3 174.3h0M173.6 172.3h0M177.8 181h0" stroke="#efc3cf" stroke-width="1" stroke-linecap="round"/>
<path d="M148.8 196.8h0M151 196.7h0M150.5 198h0M146 200.3h0M148.3 198.9h0M146.9 198.5h0" stroke="#efc3cf" stroke-width="1" stroke-linecap="round"/>
<rect x="141.6" y="156.7" width="70.6" height="53.3" fill="none" stroke="#1c1c1c" stroke-width="1.3"/>
<path d="M161.3 156.7V210 M141.6 194.4H212.2" stroke="#1c1c1c" stroke-width="1.3" fill="none"/>
<rect x="141.6" y="166.2" width="19.7" height="12.1" fill="none" stroke="#1c1c1c" stroke-width="1.35"/>
<path d="M141.6 210v2.8M141.6 210h-2.8M146.9 210v2.0M141.6 206h-2.0M150 210v2.0M141.6 203.6h-2.0M152.2 210v2.0M141.6 202h-2.0M153.9 210v2.0M141.6 200.7h-2.0M155.3 210v2.0M141.6 199.6h-2.0M156.5 210v2.0M141.6 198.7h-2.0M157.5 210v2.0M141.6 198h-2.0M158.4 210v2.0M141.6 197.3h-2.0M159.2 210v2.8M141.6 196.7h-2.8M164.6 210v2.0M141.6 192.7h-2.0M167.7 210v2.0M141.6 190.3h-2.0M169.9 210v2.0M141.6 188.7h-2.0M171.6 210v2.0M141.6 187.4h-2.0M173 210v2.0M141.6 186.3h-2.0M174.2 210v2.0M141.6 185.4h-2.0M175.2 210v2.0M141.6 184.6h-2.0M176.1 210v2.0M141.6 184h-2.0M176.9 210v2.8M141.6 183.3h-2.8M182.2 210v2.0M141.6 179.3h-2.0M185.3 210v2.0M141.6 177h-2.0M187.5 210v2.0M141.6 175.3h-2.0M189.2 210v2.0M141.6 174h-2.0M190.6 210v2.0M141.6 173h-2.0M191.8 210v2.0M141.6 172.1h-2.0M192.8 210v2.0M141.6 171.3h-2.0M193.7 210v2.0M141.6 170.6h-2.0M194.5 210v2.8M141.6 170h-2.8M199.9 210v2.0M141.6 166h-2.0M203 210v2.0M141.6 163.7h-2.0M205.2 210v2.0M141.6 162h-2.0M206.9 210v2.0M141.6 160.7h-2.0M208.3 210v2.0M141.6 159.7h-2.0M209.5 210v2.0M141.6 158.8h-2.0M210.5 210v2.0M141.6 158h-2.0M211.4 210v2.0M141.6 157.3h-2.0M212.2 210v2.8M141.6 156.7h-2.8" stroke="#1a1a1a" stroke-width="1.0" fill="none"/>
<text x="141.8" y="220.7" font-size="6.1" text-anchor="middle" fill="#1f1f1f" stroke="#1f1f1f" stroke-width="0.2">10<tspan font-size="5.2" dy="-3.1">0</tspan></text>
<text x="136" y="210.3" font-size="6.1" text-anchor="middle" fill="#1f1f1f" stroke="#1f1f1f" stroke-width="0.2" transform="rotate(-90 136 210.3)">10<tspan font-size="5.2" dy="-3.1">0</tspan></text>
<text x="159.4" y="220.7" font-size="6.1" text-anchor="middle" fill="#1f1f1f" stroke="#1f1f1f" stroke-width="0.2">10<tspan font-size="5.2" dy="-3.1">1</tspan></text>
<text x="136" y="197" font-size="6.1" text-anchor="middle" fill="#1f1f1f" stroke="#1f1f1f" stroke-width="0.2" transform="rotate(-90 136 197)">10<tspan font-size="5.2" dy="-3.1">1</tspan></text>
<text x="177.1" y="220.7" font-size="6.1" text-anchor="middle" fill="#1f1f1f" stroke="#1f1f1f" stroke-width="0.2">10<tspan font-size="5.2" dy="-3.1">2</tspan></text>
<text x="136" y="183.7" font-size="6.1" text-anchor="middle" fill="#1f1f1f" stroke="#1f1f1f" stroke-width="0.2" transform="rotate(-90 136 183.7)">10<tspan font-size="5.2" dy="-3.1">2</tspan></text>
<text x="194.7" y="220.7" font-size="6.1" text-anchor="middle" fill="#1f1f1f" stroke="#1f1f1f" stroke-width="0.2">10<tspan font-size="5.2" dy="-3.1">3</tspan></text>
<text x="136" y="170.3" font-size="6.1" text-anchor="middle" fill="#1f1f1f" stroke="#1f1f1f" stroke-width="0.2" transform="rotate(-90 136 170.3)">10<tspan font-size="5.2" dy="-3.1">3</tspan></text>
<text x="212.4" y="220.7" font-size="6.1" text-anchor="middle" fill="#1f1f1f" stroke="#1f1f1f" stroke-width="0.2">10<tspan font-size="5.2" dy="-3.1">4</tspan></text>
<text x="136" y="157" font-size="6.1" text-anchor="middle" fill="#1f1f1f" stroke="#1f1f1f" stroke-width="0.2" transform="rotate(-90 136 157)">10<tspan font-size="5.2" dy="-3.1">4</tspan></text>
<text x="179" y="227.4" font-size="6.1" text-anchor="middle" fill="#1f1f1f" stroke="#1f1f1f" stroke-width="0.24">CD105 FITC</text>
<text x="127.3" y="183.7" font-size="6.1" text-anchor="middle" transform="rotate(-90 127.3 183.7)" fill="#1f1f1f" stroke="#1f1f1f" stroke-width="0.24">CD34 APC</text>
<text x="164.9" y="176" font-size="6.9" text-anchor="start" fill="#4a4a4a" stroke="#4a4a4a" stroke-width="0.24">R4</text>
<path d="M262.6 200.9h0M258 204.6h0M258.8 206.5h0M259.8 202h0M262.3 208h0M253.2 203.9h0M264.9 202.2h0M263.1 203.8h0M261.5 207h0M263.9 200.6h0M259.7 204.8h0M260.2 207.6h0M264.2 204.9h0M252.9 204.9h0M263.9 200.5h0M264.6 201.8h0M262.5 202.4h0M269.4 204.2h0M264.1 204.9h0M265 202.9h0M265.8 203.6h0M254.9 199.3h0M268.2 200.2h0M257.8 202.5h0M258.2 206.8h0M260.6 206.2h0M261.7 201.4h0M266.7 207.8h0M261.9 202.6h0M264.7 198.4h0M269.5 201.1h0M266.4 203.2h0M259.5 205.3h0M254 198.4h0M263.4 209h0M266.7 203.5h0M257.4 208h0M257.9 203.3h0M252.7 206.9h0M262.1 205.2h0M258.2 206.6h0M257 205.9h0M255.5 205h0M262.8 208.4h0M253.9 196.6h0M263.4 204.5h0M258.6 208.7h0M266 206.2h0M255.9 205.8h0M261 205.8h0M256.9 200.8h0M260.8 206.9h0M257 198.6h0M262.6 202.7h0M258.6 206.9h0M265.6 201.1h0M261 203.9h0M266.1 206.1h0M267.1 201.1h0M257.3 201.9h0M261.2 206.7h0M259.3 203.2h0M254.6 198.9h0" stroke="#eaa0b3" stroke-width="1.1" stroke-linecap="round"/>
<path d="M261.5 206.4h0M262 205h0M269.9 206.5h0M258.5 200.6h0M265.1 203.6h0M261.1 202.8h0M264.6 197.6h0M263 201h0M263.7 202.1h0M260.2 202.5h0M268.6 202.7h0M255.3 202.7h0M262.2 203.7h0M267.5 204.5h0M250.9 208h0M253 206.4h0M261.4 206.9h0M261.8 200.6h0M259.2 207h0M265.2 203.6h0M264 200.9h0M268.1 204h0M261 208.2h0M258.9 205.1h0M263.2 207.2h0M264.7 202.3h0M262.5 200.9h0M262.3 197.3h0M263.2 208.7h0M256.1 200.1h0M263.2 201.5h0M262.7 201.8h0M253.1 207.1h0M258.1 204.5h0M261.7 207.7h0M255.3 205.6h0M263.7 202.2h0M257.8 201.4h0M256 205.4h0M254.4 206.3h0M261.1 204.5h0M263.5 200h0M268.3 204.9h0M260.3 205.6h0M266.5 201.5h0M257.9 201.7h0M262.7 206.5h0M258.4 201.3h0M262 204.1h0M266.5 200.4h0M258.1 207.1h0M258 203.1h0M252.4 199.1h0M269.3 207.2h0M257.3 204.8h0M263.3 203.7h0M259.9 208.5h0" stroke="#cf2f58" stroke-width="0.8" stroke-linecap="round"/>
<rect x="249.4" y="156.5" width="70.6" height="53.5" fill="none" stroke="#1c1c1c" stroke-width="1.3"/>
<path d="M272.5 156.5V210 M249.4 194.8H320" stroke="#1c1c1c" stroke-width="1.3" fill="none"/>
<path d="M249.4 210v2.8M249.4 210h-2.8M254.7 210v2.0M249.4 206h-2.0M257.8 210v2.0M249.4 203.6h-2.0M260 210v2.0M249.4 201.9h-2.0M261.7 210v2.0M249.4 200.7h-2.0M263.1 210v2.0M249.4 199.6h-2.0M264.3 210v2.0M249.4 198.7h-2.0M265.3 210v2.0M249.4 197.9h-2.0M266.2 210v2.0M249.4 197.2h-2.0M267.1 210v2.8M249.4 196.6h-2.8M272.4 210v2.0M249.4 192.6h-2.0M275.5 210v2.0M249.4 190.2h-2.0M277.7 210v2.0M249.4 188.6h-2.0M279.4 210v2.0M249.4 187.3h-2.0M280.8 210v2.0M249.4 186.2h-2.0M282 210v2.0M249.4 185.3h-2.0M283 210v2.0M249.4 184.5h-2.0M283.9 210v2.0M249.4 183.9h-2.0M284.7 210v2.8M249.4 183.2h-2.8M290 210v2.0M249.4 179.2h-2.0M293.1 210v2.0M249.4 176.9h-2.0M295.3 210v2.0M249.4 175.2h-2.0M297 210v2.0M249.4 173.9h-2.0M298.4 210v2.0M249.4 172.8h-2.0M299.6 210v2.0M249.4 171.9h-2.0M300.6 210v2.0M249.4 171.2h-2.0M301.5 210v2.0M249.4 170.5h-2.0M302.4 210v2.8M249.4 169.9h-2.8M307.7 210v2.0M249.4 165.8h-2.0M310.8 210v2.0M249.4 163.5h-2.0M313 210v2.0M249.4 161.8h-2.0M314.7 210v2.0M249.4 160.5h-2.0M316.1 210v2.0M249.4 159.5h-2.0M317.3 210v2.0M249.4 158.6h-2.0M318.3 210v2.0M249.4 157.8h-2.0M319.2 210v2.0M249.4 157.1h-2.0M320 210v2.8M249.4 156.5h-2.8" stroke="#1a1a1a" stroke-width="1.0" fill="none"/>
<text x="249.6" y="220.7" font-size="6.1" text-anchor="middle" fill="#1f1f1f" stroke="#1f1f1f" stroke-width="0.2">10<tspan font-size="5.2" dy="-3.1">0</tspan></text>
<text x="243.8" y="210.3" font-size="6.1" text-anchor="middle" fill="#1f1f1f" stroke="#1f1f1f" stroke-width="0.2" transform="rotate(-90 243.8 210.3)">10<tspan font-size="5.2" dy="-3.1">0</tspan></text>
<text x="267.2" y="220.7" font-size="6.1" text-anchor="middle" fill="#1f1f1f" stroke="#1f1f1f" stroke-width="0.2">10<tspan font-size="5.2" dy="-3.1">1</tspan></text>
<text x="243.8" y="196.9" font-size="6.1" text-anchor="middle" fill="#1f1f1f" stroke="#1f1f1f" stroke-width="0.2" transform="rotate(-90 243.8 196.9)">10<tspan font-size="5.2" dy="-3.1">1</tspan></text>
<text x="284.9" y="220.7" font-size="6.1" text-anchor="middle" fill="#1f1f1f" stroke="#1f1f1f" stroke-width="0.2">10<tspan font-size="5.2" dy="-3.1">2</tspan></text>
<text x="243.8" y="183.6" font-size="6.1" text-anchor="middle" fill="#1f1f1f" stroke="#1f1f1f" stroke-width="0.2" transform="rotate(-90 243.8 183.6)">10<tspan font-size="5.2" dy="-3.1">2</tspan></text>
<text x="302.6" y="220.7" font-size="6.1" text-anchor="middle" fill="#1f1f1f" stroke="#1f1f1f" stroke-width="0.2">10<tspan font-size="5.2" dy="-3.1">3</tspan></text>
<text x="243.8" y="170.2" font-size="6.1" text-anchor="middle" fill="#1f1f1f" stroke="#1f1f1f" stroke-width="0.2" transform="rotate(-90 243.8 170.2)">10<tspan font-size="5.2" dy="-3.1">3</tspan></text>
<text x="320.2" y="220.7" font-size="6.1" text-anchor="middle" fill="#1f1f1f" stroke="#1f1f1f" stroke-width="0.2">10<tspan font-size="5.2" dy="-3.1">4</tspan></text>
<text x="243.8" y="156.8" font-size="6.1" text-anchor="middle" fill="#1f1f1f" stroke="#1f1f1f" stroke-width="0.2" transform="rotate(-90 243.8 156.8)">10<tspan font-size="5.2" dy="-3.1">4</tspan></text>
<text x="286.6" y="227.1" font-size="6.1" text-anchor="middle" fill="#1f1f1f" stroke="#1f1f1f" stroke-width="0.24">CD105 FITC</text>
<text x="235.1" y="183.2" font-size="6.1" text-anchor="middle" transform="rotate(-90 235.1 183.2)" fill="#1f1f1f" stroke="#1f1f1f" stroke-width="0.24">CD106 PE</text>
<path d="M403.3 202.3h0M396.7 208.5h0M405.2 204h0M396.8 198.8h0M398.5 205.5h0M397.8 202.3h0M403.9 208.2h0M399.2 199.5h0M399.7 208.4h0M405.6 204h0M403.2 206.5h0M404.5 202.6h0M408.6 205h0M401.2 204.3h0M401 206.3h0M405.3 203.3h0M398.3 207.7h0M409.8 201.7h0M403 208.7h0M395.6 204.5h0M393.2 206.9h0M392.8 208.3h0M410.6 208.9h0M408.7 202.5h0M400.5 206h0M413.1 208.2h0M404.2 199.9h0M403.5 205.5h0M417.9 203.3h0M396 205.2h0M411.7 204.7h0M403.4 205h0M396.5 209.2h0M402.6 205.5h0M408.1 203.8h0M411.4 208.3h0M398.1 202.6h0M398.9 205.1h0M400 205.7h0M409.2 202.6h0M399.1 206.6h0M413.6 208.2h0M404.7 204.8h0M404.6 208.8h0M403 202.4h0M399 205.1h0" stroke="#eaa0b3" stroke-width="1.1" stroke-linecap="round"/>
<path d="M399.4 203.1h0M402.6 203.5h0M401.7 202.3h0M407 204.7h0M400.6 202.6h0M395.1 203.7h0M407.4 204.4h0M405.5 203.7h0M404 200.8h0M395.5 203.2h0M401.4 207.1h0M405.2 203.9h0M405.5 206.1h0M406.6 204.6h0M405.2 207h0M405.8 201.9h0M411.2 205.4h0M396.9 201.2h0M403.8 209.2h0M396.5 207.6h0M403.6 205.1h0M401.7 206.1h0M401.7 205.2h0M404 207.2h0M399.8 206.6h0M394.9 204.7h0M400.7 201.8h0M400.3 207h0M411.9 202.2h0M401.6 204.4h0M404.2 204.6h0M403.1 202.6h0M401.2 204.6h0M404.1 197.5h0M404.5 205h0" stroke="#cf2f58" stroke-width="0.8" stroke-linecap="round"/>
<path d="M396.1 182.5h0M394.7 182.4h0" stroke="#888" stroke-width="1" stroke-linecap="round"/>
<rect x="360.2" y="156.2" width="69.4" height="53.8" fill="none" stroke="#1c1c1c" stroke-width="1.3"/>
<path d="M381.5 156.2V210 M360.2 194.8H429.6" stroke="#1c1c1c" stroke-width="1.3" fill="none"/>
<path d="M360.2 210v2.8M360.2 210h-2.8M365.4 210v2.0M360.2 206h-2.0M368.5 210v2.0M360.2 203.6h-2.0M370.6 210v2.0M360.2 201.9h-2.0M372.3 210v2.0M360.2 200.6h-2.0M373.7 210v2.0M360.2 199.5h-2.0M374.9 210v2.0M360.2 198.6h-2.0M375.9 210v2.0M360.2 197.9h-2.0M376.8 210v2.0M360.2 197.2h-2.0M377.6 210v2.8M360.2 196.6h-2.8M382.8 210v2.0M360.2 192.5h-2.0M385.8 210v2.0M360.2 190.1h-2.0M388 210v2.0M360.2 188.5h-2.0M389.7 210v2.0M360.2 187.1h-2.0M391.1 210v2.0M360.2 186.1h-2.0M392.2 210v2.0M360.2 185.2h-2.0M393.2 210v2.0M360.2 184.4h-2.0M394.1 210v2.0M360.2 183.7h-2.0M394.9 210v2.8M360.2 183.1h-2.8M400.1 210v2.0M360.2 179.1h-2.0M403.2 210v2.0M360.2 176.7h-2.0M405.3 210v2.0M360.2 175h-2.0M407 210v2.0M360.2 173.7h-2.0M408.4 210v2.0M360.2 172.6h-2.0M409.6 210v2.0M360.2 171.7h-2.0M410.6 210v2.0M360.2 171h-2.0M411.5 210v2.0M360.2 170.3h-2.0M412.2 210v2.8M360.2 169.6h-2.8M417.5 210v2.0M360.2 165.6h-2.0M420.5 210v2.0M360.2 163.2h-2.0M422.7 210v2.0M360.2 161.6h-2.0M424.4 210v2.0M360.2 160.2h-2.0M425.8 210v2.0M360.2 159.2h-2.0M426.9 210v2.0M360.2 158.3h-2.0M427.9 210v2.0M360.2 157.5h-2.0M428.8 210v2.0M360.2 156.8h-2.0M429.6 210v2.8M360.2 156.2h-2.8" stroke="#1a1a1a" stroke-width="1.0" fill="none"/>
<text x="360.4" y="220.7" font-size="6.1" text-anchor="middle" fill="#1f1f1f" stroke="#1f1f1f" stroke-width="0.2">10<tspan font-size="5.2" dy="-3.1">0</tspan></text>
<text x="354.6" y="210.3" font-size="6.1" text-anchor="middle" fill="#1f1f1f" stroke="#1f1f1f" stroke-width="0.2" transform="rotate(-90 354.6 210.3)">10<tspan font-size="5.2" dy="-3.1">0</tspan></text>
<text x="377.8" y="220.7" font-size="6.1" text-anchor="middle" fill="#1f1f1f" stroke="#1f1f1f" stroke-width="0.2">10<tspan font-size="5.2" dy="-3.1">1</tspan></text>
<text x="354.6" y="196.9" font-size="6.1" text-anchor="middle" fill="#1f1f1f" stroke="#1f1f1f" stroke-width="0.2" transform="rotate(-90 354.6 196.9)">10<tspan font-size="5.2" dy="-3.1">1</tspan></text>
<text x="395.1" y="220.7" font-size="6.1" text-anchor="middle" fill="#1f1f1f" stroke="#1f1f1f" stroke-width="0.2">10<tspan font-size="5.2" dy="-3.1">2</tspan></text>
<text x="354.6" y="183.4" font-size="6.1" text-anchor="middle" fill="#1f1f1f" stroke="#1f1f1f" stroke-width="0.2" transform="rotate(-90 354.6 183.4)">10<tspan font-size="5.2" dy="-3.1">2</tspan></text>
<text x="412.4" y="220.7" font-size="6.1" text-anchor="middle" fill="#1f1f1f" stroke="#1f1f1f" stroke-width="0.2">10<tspan font-size="5.2" dy="-3.1">3</tspan></text>
<text x="354.6" y="169.9" font-size="6.1" text-anchor="middle" fill="#1f1f1f" stroke="#1f1f1f" stroke-width="0.2" transform="rotate(-90 354.6 169.9)">10<tspan font-size="5.2" dy="-3.1">3</tspan></text>
<text x="429.8" y="220.7" font-size="6.1" text-anchor="middle" fill="#1f1f1f" stroke="#1f1f1f" stroke-width="0.2">10<tspan font-size="5.2" dy="-3.1">4</tspan></text>
<text x="354.6" y="156.5" font-size="6.1" text-anchor="middle" fill="#1f1f1f" stroke="#1f1f1f" stroke-width="0.2" transform="rotate(-90 354.6 156.5)">10<tspan font-size="5.2" dy="-3.1">4</tspan></text>
<text x="393.8" y="226.8" font-size="6.1" text-anchor="middle" fill="#1f1f1f" stroke="#1f1f1f" stroke-width="0.24">CD31 FITC</text>
<text x="345.9" y="182.3" font-size="6.1" text-anchor="middle" transform="rotate(-90 345.9 182.3)" fill="#1f1f1f" stroke="#1f1f1f" stroke-width="0.24">AC133 PE</text>
<path d="M36.8 292.3h0M46.8 289.6h0M48.3 298.3h0M49.2 295.2h0M50.2 299.6h0M38.5 298.3h0M44.9 289.6h0M37.9 292.2h0M49.2 298.7h0M40.7 297.4h0M37.1 289.2h0M41.2 294.2h0M38 290.8h0M49.3 296.5h0M37 297h0M39.6 292.3h0M36.6 291.2h0M39.5 289.7h0M41 296.1h0M49 297.1h0M47.6 298.8h0M38.2 293.3h0M48.7 292.9h0M45.2 291.4h0M42.3 298.4h0M46 290.1h0M39.5 293.4h0M47.2 288.8h0M35.7 293.3h0M45.7 291.2h0M38.5 292.8h0M45.2 295.3h0M44 295.4h0M49.1 299.7h0M50.6 295.4h0M46.8 288.9h0M50.5 292.6h0M43.4 296.4h0M49.6 299.8h0M36.7 298.8h0M43.3 293.2h0M37.8 290.3h0M49.4 290.6h0M48.4 298.9h0M38.2 293.7h0M40.1 295.7h0M43.2 293.1h0M50.7 292.6h0M40.5 296.7h0M45.6 289.1h0M45.3 294.2h0M46.5 298h0M48.5 294.8h0M48.3 296.5h0M43.9 291.8h0M46.6 297.7h0M37.1 299.4h0M36.1 299.1h0M40.8 288.9h0M46.7 298.2h0M36.8 288.7h0M37.9 289.1h0M48.8 294.2h0M43.4 298.6h0M45.6 296.6h0M46.6 296.1h0M36.2 296.5h0M36.6 290.3h0M41.8 292.2h0M49.2 299.4h0M36.1 297.6h0M44.5 295.9h0M42.7 295.6h0M50 289h0M47.5 299.4h0" stroke="#eaa0b3" stroke-width="1.1" stroke-linecap="round"/>
<path d="M44.1 294.4h0M45.3 295.6h0M45.6 291.4h0M46.6 289.1h0M44 294.7h0M45.9 289.5h0M40.5 292.7h0M41.7 293.6h0M36.3 295.6h0M42.4 293.1h0M49.5 297.5h0M46.7 290.7h0M49.5 299.5h0M38.3 292.1h0M44.5 291h0M45.3 299.3h0M40.8 293.5h0M41 292.7h0M43.6 294.4h0M45.6 289h0M50.5 293.7h0M48 293.6h0M43 295.7h0M39.3 290.1h0M46.3 297.5h0M37.5 297.9h0M45.7 290.6h0M45.3 299.3h0M39.4 293h0M47.8 291h0M42.1 293.1h0M48.5 289.9h0M41.2 296.2h0M45.9 294.7h0M44.5 288.8h0M42.9 297h0M48.8 298.1h0M46.7 289.6h0M42.8 291.5h0M44.7 299.3h0M49.4 290.4h0M38.8 292h0M47.3 291h0M42.7 299h0M49.7 290.9h0M48.9 298.7h0M37.8 296.3h0M41.2 296.4h0M50.1 298.5h0M40.6 292.5h0M44 292.3h0M48 295h0M49 299h0M37.9 290.6h0M39.1 297.7h0M44.5 298.5h0M47.2 292.8h0M45 295h0M48.5 291.2h0" stroke="#cf2f58" stroke-width="0.8" stroke-linecap="round"/>
<rect x="34.6" y="247.8" width="70.3" height="52.8" fill="none" stroke="#1c1c1c" stroke-width="1.3"/>
<path d="M56 247.8V300.6 M34.6 287H104.9" stroke="#1c1c1c" stroke-width="1.3" fill="none"/>
<path d="M34.6 300.6v2.8M34.6 300.6h-2.8M39.9 300.6v2.0M34.6 296.6h-2.0M43 300.6v2.0M34.6 294.3h-2.0M45.2 300.6v2.0M34.6 292.7h-2.0M46.9 300.6v2.0M34.6 291.4h-2.0M48.3 300.6v2.0M34.6 290.3h-2.0M49.5 300.6v2.0M34.6 289.4h-2.0M50.5 300.6v2.0M34.6 288.7h-2.0M51.4 300.6v2.0M34.6 288h-2.0M52.2 300.6v2.8M34.6 287.4h-2.8M57.5 300.6v2.0M34.6 283.4h-2.0M60.6 300.6v2.0M34.6 281.1h-2.0M62.8 300.6v2.0M34.6 279.5h-2.0M64.5 300.6v2.0M34.6 278.2h-2.0M65.9 300.6v2.0M34.6 277.1h-2.0M67 300.6v2.0M34.6 276.2h-2.0M68 300.6v2.0M34.6 275.5h-2.0M68.9 300.6v2.0M34.6 274.8h-2.0M69.8 300.6v2.8M34.6 274.2h-2.8M75 300.6v2.0M34.6 270.2h-2.0M78.1 300.6v2.0M34.6 267.9h-2.0M80.3 300.6v2.0M34.6 266.3h-2.0M82 300.6v2.0M34.6 265h-2.0M83.4 300.6v2.0M34.6 263.9h-2.0M84.6 300.6v2.0M34.6 263h-2.0M85.6 300.6v2.0M34.6 262.3h-2.0M86.5 300.6v2.0M34.6 261.6h-2.0M87.3 300.6v2.8M34.6 261h-2.8M92.6 300.6v2.0M34.6 257h-2.0M95.7 300.6v2.0M34.6 254.7h-2.0M97.9 300.6v2.0M34.6 253.1h-2.0M99.6 300.6v2.0M34.6 251.8h-2.0M101 300.6v2.0M34.6 250.7h-2.0M102.2 300.6v2.0M34.6 249.8h-2.0M103.2 300.6v2.0M34.6 249.1h-2.0M104.1 300.6v2.0M34.6 248.4h-2.0M104.9 300.6v2.8M34.6 247.8h-2.8" stroke="#1a1a1a" stroke-width="1.0" fill="none"/>
<text x="34.8" y="311.3" font-size="6.1" text-anchor="middle" fill="#1f1f1f" stroke="#1f1f1f" stroke-width="0.2">10<tspan font-size="5.2" dy="-3.1">0</tspan></text>
<text x="29" y="300.9" font-size="6.1" text-anchor="middle" fill="#1f1f1f" stroke="#1f1f1f" stroke-width="0.2" transform="rotate(-90 29 300.9)">10<tspan font-size="5.2" dy="-3.1">0</tspan></text>
<text x="52.4" y="311.3" font-size="6.1" text-anchor="middle" fill="#1f1f1f" stroke="#1f1f1f" stroke-width="0.2">10<tspan font-size="5.2" dy="-3.1">1</tspan></text>
<text x="29" y="287.7" font-size="6.1" text-anchor="middle" fill="#1f1f1f" stroke="#1f1f1f" stroke-width="0.2" transform="rotate(-90 29 287.7)">10<tspan font-size="5.2" dy="-3.1">1</tspan></text>
<text x="70" y="311.3" font-size="6.1" text-anchor="middle" fill="#1f1f1f" stroke="#1f1f1f" stroke-width="0.2">10<tspan font-size="5.2" dy="-3.1">2</tspan></text>
<text x="29" y="274.5" font-size="6.1" text-anchor="middle" fill="#1f1f1f" stroke="#1f1f1f" stroke-width="0.2" transform="rotate(-90 29 274.5)">10<tspan font-size="5.2" dy="-3.1">2</tspan></text>
<text x="87.5" y="311.3" font-size="6.1" text-anchor="middle" fill="#1f1f1f" stroke="#1f1f1f" stroke-width="0.2">10<tspan font-size="5.2" dy="-3.1">3</tspan></text>
<text x="29" y="261.3" font-size="6.1" text-anchor="middle" fill="#1f1f1f" stroke="#1f1f1f" stroke-width="0.2" transform="rotate(-90 29 261.3)">10<tspan font-size="5.2" dy="-3.1">3</tspan></text>
<text x="105.1" y="311.3" font-size="6.1" text-anchor="middle" fill="#1f1f1f" stroke="#1f1f1f" stroke-width="0.2">10<tspan font-size="5.2" dy="-3.1">4</tspan></text>
<text x="29" y="248.1" font-size="6.1" text-anchor="middle" fill="#1f1f1f" stroke="#1f1f1f" stroke-width="0.2" transform="rotate(-90 29 248.1)">10<tspan font-size="5.2" dy="-3.1">4</tspan></text>
<text x="68.5" y="317.5" font-size="6.1" text-anchor="middle" fill="#1f1f1f" stroke="#1f1f1f" stroke-width="0.24">FL1-H</text>
<text x="20.3" y="274.7" font-size="6.1" text-anchor="middle" transform="rotate(-90 20.3 274.7)" fill="#1f1f1f" stroke="#1f1f1f" stroke-width="0.24">FL4-H</text>
<path d="M160.5 288.4h0M159.4 279.5h0M156.3 282.6h0M151.4 280.4h0M149.2 290h0M155.6 283.2h0M154.4 286.1h0M159.2 286.8h0M158.8 284.4h0M162.3 276.2h0M154.3 288.8h0M161.3 275.5h0M158.2 280.4h0M158.8 287.9h0M160.9 282h0M152.1 278.8h0M149.6 288.2h0M160.3 281.7h0M159 286.3h0M161.3 272.7h0M160.7 275.1h0M158.5 279.9h0M162.3 278.8h0M157.6 283.3h0M165.7 274.7h0M158.2 279.4h0M153.4 277.4h0M157.4 290.3h0M154 286.1h0M152.6 280.9h0M158.1 286.2h0M157.4 284.5h0M157.8 282.5h0M159 282.1h0M158 280h0M152.9 279.8h0M155.8 290.1h0M154.5 288.8h0M154.3 283.7h0M160.6 287.3h0M160.9 275.5h0M166.3 276.7h0M155 278.3h0M156.4 284h0M153.9 281.3h0M167.1 281.9h0M154.4 279.2h0M160.5 283.2h0M155.6 279.9h0M158.9 284h0M159.4 290.4h0M156 274.4h0M157.8 284.3h0M155.6 282.3h0M161.9 283.3h0M159.1 285.5h0M156.6 279.9h0M162.4 283.7h0M155.1 277.4h0M158.7 281.7h0M170.9 281h0M154.8 285.8h0M162.4 281.1h0M156.2 281.8h0M165.1 279.5h0M154.1 285.1h0" stroke="#eaa0b3" stroke-width="1.1" stroke-linecap="round"/>
<path d="M157.5 286h0M157.6 279.8h0M159.9 282.9h0M162 285.2h0M157.1 284.4h0M156.6 287.1h0M156.6 284.3h0M158.6 282.1h0M157.4 278.1h0M158.8 276.5h0M159 283.4h0M158.8 283.5h0M155.5 284.1h0M160.2 286.1h0M151.5 279h0M155 288.2h0M156 282.1h0M158.6 274.6h0M161 282h0M156 275.5h0M157 287.2h0M157.3 281.1h0M155.5 279.7h0M157.3 279.3h0M161.9 280.3h0M153.9 280.2h0M162.6 287.1h0M156.3 280.6h0M161.5 275.9h0M156 285.2h0M154 291.7h0M162.7 290.4h0M159.1 280.5h0M153.1 290.8h0M158.3 281h0M158.5 285.9h0M148.2 279.6h0M163.9 280.8h0M149.2 283.5h0M158.4 283.8h0M158.8 281.7h0M163.2 285.8h0M163 287.3h0M156 285.2h0M150.1 280.3h0M158.2 282.7h0M153.8 283h0M157.9 282.1h0M150 287.3h0M160.9 285.9h0M158.4 281.4h0M154.9 288.2h0M160.6 282h0M157.6 285.6h0" stroke="#cf2f58" stroke-width="0.8" stroke-linecap="round"/>
<path d="M175.5 277.9h0M178.5 277.5h0M172.2 277.9h0M170.5 278h0M182.6 278.1h0M164.9 279.1h0M180 276.7h0M178.4 276.5h0M173.2 276.6h0M179.9 280.2h0M169.5 275.5h0M173.4 277.7h0M177.5 278.4h0M171.5 278.7h0M180.5 280.7h0M178 278.8h0M178.1 279.3h0M174.3 275.8h0M168.4 277.8h0M179.3 277h0M175.9 272.2h0M171.9 276.6h0M178.3 275.8h0M177.1 277.2h0M174.6 276.8h0M174.6 276.7h0M174.2 276.3h0M178.2 273.8h0M176 274.4h0M178.3 282h0M177.5 274.3h0M175.4 282.6h0M175.3 273.5h0M181.2 274.3h0M175.2 281h0M168.1 282.3h0M173.2 277.7h0M178.8 277.3h0M174.9 277.5h0M177.5 281.5h0M177.4 275.8h0M175 278.1h0M177.8 278.4h0M176.2 279.3h0" stroke="#eaa0b3" stroke-width="1.1" stroke-linecap="round"/>
<path d="M175.3 274.8h0M169.6 274.1h0M176.2 278.3h0M174.3 278h0M174.6 276.7h0M176.1 280.1h0M176.6 276.2h0M175.8 278.4h0M173.6 277.8h0M170 279.1h0M179.3 282.6h0M178.7 279.1h0M179.9 277.7h0M172.5 276.6h0M172.5 273.6h0M169.7 276.9h0M174.5 280h0M178.3 277.4h0M178.1 275.2h0M173.9 276.3h0M178.8 278h0M177.4 278h0M178.3 277.2h0M180.7 278.5h0M175.4 277.7h0M178.6 280.2h0M178.9 273.8h0M178.1 270.2h0M168.7 280.8h0M177.1 276.6h0M174.9 281.4h0M177.9 281.5h0M178 277.8h0M174.8 276h0M172.1 281.4h0M174.2 278.3h0" stroke="#cf2f58" stroke-width="0.8" stroke-linecap="round"/>
<path d="M158.7 297.4h0M159 297h0M156.9 295.9h0M160.4 288.6h0M158.7 293.7h0M162.2 291.9h0M159.7 289.6h0M158.4 294h0M155.8 296.4h0M162 297h0M161.5 287.6h0M158.4 289h0" stroke="#efc3cf" stroke-width="1" stroke-linecap="round"/>
<path d="M182.6 282h0M182.2 276.7h0M181.8 279.9h0M184.9 279.6h0M185 280.3h0M187.1 278.8h0M185.2 277.7h0M184 280.4h0M186.9 276.5h0M184.9 281.3h0" stroke="#efc3cf" stroke-width="1" stroke-linecap="round"/>
<rect x="142.3" y="247.6" width="70" height="53" fill="none" stroke="#1c1c1c" stroke-width="1.3"/>
<path d="M164.3 247.6V300.6 M142.3 287H212.3" stroke="#1c1c1c" stroke-width="1.3" fill="none"/>
<path d="M142.3 300.6v2.8M142.3 300.6h-2.8M147.6 300.6v2.0M142.3 296.6h-2.0M150.6 300.6v2.0M142.3 294.3h-2.0M152.8 300.6v2.0M142.3 292.6h-2.0M154.5 300.6v2.0M142.3 291.3h-2.0M155.9 300.6v2.0M142.3 290.3h-2.0M157.1 300.6v2.0M142.3 289.4h-2.0M158.1 300.6v2.0M142.3 288.6h-2.0M159 300.6v2.0M142.3 288h-2.0M159.8 300.6v2.8M142.3 287.4h-2.8M165.1 300.6v2.0M142.3 283.4h-2.0M168.1 300.6v2.0M142.3 281h-2.0M170.3 300.6v2.0M142.3 279.4h-2.0M172 300.6v2.0M142.3 278.1h-2.0M173.4 300.6v2.0M142.3 277h-2.0M174.6 300.6v2.0M142.3 276.2h-2.0M175.6 300.6v2.0M142.3 275.4h-2.0M176.5 300.6v2.0M142.3 274.7h-2.0M177.3 300.6v2.8M142.3 274.1h-2.8M182.6 300.6v2.0M142.3 270.1h-2.0M185.6 300.6v2.0M142.3 267.8h-2.0M187.8 300.6v2.0M142.3 266.1h-2.0M189.5 300.6v2.0M142.3 264.8h-2.0M190.9 300.6v2.0M142.3 263.8h-2.0M192.1 300.6v2.0M142.3 262.9h-2.0M193.1 300.6v2.0M142.3 262.1h-2.0M194 300.6v2.0M142.3 261.5h-2.0M194.8 300.6v2.8M142.3 260.9h-2.8M200.1 300.6v2.0M142.3 256.9h-2.0M203.1 300.6v2.0M142.3 254.5h-2.0M205.3 300.6v2.0M142.3 252.9h-2.0M207 300.6v2.0M142.3 251.6h-2.0M208.4 300.6v2.0M142.3 250.5h-2.0M209.6 300.6v2.0M142.3 249.7h-2.0M210.6 300.6v2.0M142.3 248.9h-2.0M211.5 300.6v2.0M142.3 248.2h-2.0M212.3 300.6v2.8M142.3 247.6h-2.8" stroke="#1a1a1a" stroke-width="1.0" fill="none"/>
<text x="142.5" y="311.3" font-size="6.1" text-anchor="middle" fill="#1f1f1f" stroke="#1f1f1f" stroke-width="0.2">10<tspan font-size="5.2" dy="-3.1">0</tspan></text>
<text x="136.7" y="300.9" font-size="6.1" text-anchor="middle" fill="#1f1f1f" stroke="#1f1f1f" stroke-width="0.2" transform="rotate(-90 136.7 300.9)">10<tspan font-size="5.2" dy="-3.1">0</tspan></text>
<text x="160" y="311.3" font-size="6.1" text-anchor="middle" fill="#1f1f1f" stroke="#1f1f1f" stroke-width="0.2">10<tspan font-size="5.2" dy="-3.1">1</tspan></text>
<text x="136.7" y="287.7" font-size="6.1" text-anchor="middle" fill="#1f1f1f" stroke="#1f1f1f" stroke-width="0.2" transform="rotate(-90 136.7 287.7)">10<tspan font-size="5.2" dy="-3.1">1</tspan></text>
<text x="177.5" y="311.3" font-size="6.1" text-anchor="middle" fill="#1f1f1f" stroke="#1f1f1f" stroke-width="0.2">10<tspan font-size="5.2" dy="-3.1">2</tspan></text>
<text x="136.7" y="274.4" font-size="6.1" text-anchor="middle" fill="#1f1f1f" stroke="#1f1f1f" stroke-width="0.2" transform="rotate(-90 136.7 274.4)">10<tspan font-size="5.2" dy="-3.1">2</tspan></text>
<text x="195" y="311.3" font-size="6.1" text-anchor="middle" fill="#1f1f1f" stroke="#1f1f1f" stroke-width="0.2">10<tspan font-size="5.2" dy="-3.1">3</tspan></text>
<text x="136.7" y="261.2" font-size="6.1" text-anchor="middle" fill="#1f1f1f" stroke="#1f1f1f" stroke-width="0.2" transform="rotate(-90 136.7 261.2)">10<tspan font-size="5.2" dy="-3.1">3</tspan></text>
<text x="212.5" y="311.3" font-size="6.1" text-anchor="middle" fill="#1f1f1f" stroke="#1f1f1f" stroke-width="0.2">10<tspan font-size="5.2" dy="-3.1">4</tspan></text>
<text x="136.7" y="247.9" font-size="6.1" text-anchor="middle" fill="#1f1f1f" stroke="#1f1f1f" stroke-width="0.2" transform="rotate(-90 136.7 247.9)">10<tspan font-size="5.2" dy="-3.1">4</tspan></text>
<text x="179.5" y="317.5" font-size="6.1" text-anchor="middle" fill="#1f1f1f" stroke="#1f1f1f" stroke-width="0.24">CD105 FITC</text>
<text x="128" y="274.4" font-size="6.1" text-anchor="middle" transform="rotate(-90 128 274.4)" fill="#1f1f1f" stroke="#1f1f1f" stroke-width="0.24">CD34 APC</text>
<path d="M265.7 297.2h0M261.8 298.8h0M268.1 291.6h0M259.9 292.9h0M267.8 293.3h0M270.6 293.5h0M254.6 296.8h0M265.5 291.4h0M265.1 293.9h0M262.8 299.2h0M269.6 294.1h0M263.8 297.2h0M269.1 296h0M260.5 294.4h0M263.6 295.3h0M271.7 294.8h0M265.6 295.4h0M265.3 292.8h0M264.5 293.5h0M265.6 295.1h0M260.9 299.1h0M270.8 298.4h0M262.7 292.6h0M261.9 296.2h0M259.8 291.8h0M267.9 297h0M259.3 294.1h0M261.7 298.5h0M263.4 295.1h0M265.7 292.2h0M268.3 294.1h0M263.6 298.1h0M265.2 297.7h0M264.5 297.1h0M265 287.8h0M263.3 291.2h0M254.8 297.3h0M268.2 292h0M264.2 297.5h0M264.9 298.2h0M271.4 294.9h0M267.9 293.2h0M263 294h0M258.1 295.5h0M265.2 296.1h0M263.7 295.4h0M263.1 298.9h0M264.8 293.1h0M262.1 296.1h0M264.7 289.1h0M265.1 296.5h0M265.2 296.1h0M274.4 297.6h0M257.7 297.4h0" stroke="#eaa0b3" stroke-width="1.1" stroke-linecap="round"/>
<path d="M264.8 294.6h0M259.9 297.2h0M266.9 296.5h0M262.7 294.9h0M272.9 297.6h0M262.7 293h0M261.9 292.2h0M262.6 292.8h0M264.2 292.9h0M268.9 290.3h0M265 296.6h0M269.5 297.4h0M265.4 294.9h0M262 293.7h0M269.1 295.4h0M262.9 299.2h0M263.3 299.1h0M254.2 289.6h0M265 290.5h0M261.7 291.2h0M269.7 295.5h0M263.7 298.5h0M260.2 292.9h0M270.7 291.6h0M256.3 295.1h0M272.6 298.6h0M268.3 292.5h0M265.9 296h0M259.7 296.8h0M262.5 294h0M265.3 291.7h0M267.1 295.9h0M264.1 295.6h0M271 299.1h0M258.1 297.3h0M268.3 295.8h0M263.9 294h0M272.2 291h0M261.5 296.5h0M268.4 295.2h0M266.7 296.2h0M268.7 299h0M257.4 293.3h0M263.4 294.8h0" stroke="#cf2f58" stroke-width="0.8" stroke-linecap="round"/>
<path d="M282.6 295.9h0M283 296.7h0M282.8 293.6h0M283.1 292.7h0M281.7 292.1h0M276.8 294.6h0M285.1 294h0M282.6 292.9h0M282.3 289h0M279.7 291.9h0M278.1 293.2h0M283.8 292.1h0M283.6 291.7h0M286.1 292h0M284 291.3h0M282.6 292.8h0M283.7 294.2h0M280.9 292.3h0M283.2 292.1h0M281.6 291.9h0M281.2 294.4h0M278.3 291.9h0M284.6 289.7h0M283.1 291.7h0M280.6 295.6h0M280.8 292.2h0M281.3 290.6h0M282.3 290.5h0M278.8 298h0M279.9 295.4h0M282.4 291.6h0M280.5 295.3h0M283.3 291.8h0" stroke="#eaa0b3" stroke-width="1.1" stroke-linecap="round"/>
<path d="M282.1 290h0M277.8 292.8h0M281.8 291h0M282.3 297.9h0M280.9 299.6h0M279.7 294.3h0M279.5 290h0M278.7 293.6h0M283.7 294.5h0M279.1 288h0M283.6 294.1h0M284.7 291.9h0M279.6 295.1h0M279.7 293.7h0M284 293.2h0M278.3 294.2h0M281.2 291.2h0M277.3 291.9h0M285.5 290.3h0M279.4 292.4h0M282.3 288.7h0M281.1 296.5h0M283.6 294h0M282.6 294.5h0M283.7 296.7h0M279 295.4h0M283 292.8h0" stroke="#cf2f58" stroke-width="0.8" stroke-linecap="round"/>
<path d="M302.7 292.6h0M286.6 292.1h0M288.5 294.6h0M292.3 290.1h0M289.9 285.6h0M292.4 295.7h0M284.8 284.5h0M292.3 298.4h0M295.7 290h0M291.5 296.1h0M287.9 295.2h0M296.8 285.7h0M289 293.3h0M285.7 286.1h0" stroke="#efc3cf" stroke-width="1" stroke-linecap="round"/>
<rect x="250.4" y="247.6" width="69.5" height="53" fill="none" stroke="#1c1c1c" stroke-width="1.3"/>
<path d="M274.7 247.6V300.6 M250.4 285.3H319.9" stroke="#1c1c1c" stroke-width="1.3" fill="none"/>
<path d="M250.4 300.6v2.8M250.4 300.6h-2.8M255.6 300.6v2.0M250.4 296.6h-2.0M258.7 300.6v2.0M250.4 294.3h-2.0M260.9 300.6v2.0M250.4 292.6h-2.0M262.5 300.6v2.0M250.4 291.3h-2.0M263.9 300.6v2.0M250.4 290.3h-2.0M265.1 300.6v2.0M250.4 289.4h-2.0M266.1 300.6v2.0M250.4 288.6h-2.0M267 300.6v2.0M250.4 288h-2.0M267.8 300.6v2.8M250.4 287.4h-2.8M273 300.6v2.0M250.4 283.4h-2.0M276.1 300.6v2.0M250.4 281h-2.0M278.2 300.6v2.0M250.4 279.4h-2.0M279.9 300.6v2.0M250.4 278.1h-2.0M281.3 300.6v2.0M250.4 277h-2.0M282.5 300.6v2.0M250.4 276.2h-2.0M283.5 300.6v2.0M250.4 275.4h-2.0M284.4 300.6v2.0M250.4 274.7h-2.0M285.1 300.6v2.8M250.4 274.1h-2.8M290.4 300.6v2.0M250.4 270.1h-2.0M293.4 300.6v2.0M250.4 267.8h-2.0M295.6 300.6v2.0M250.4 266.1h-2.0M297.3 300.6v2.0M250.4 264.8h-2.0M298.7 300.6v2.0M250.4 263.8h-2.0M299.8 300.6v2.0M250.4 262.9h-2.0M300.8 300.6v2.0M250.4 262.1h-2.0M301.7 300.6v2.0M250.4 261.5h-2.0M302.5 300.6v2.8M250.4 260.9h-2.8M307.8 300.6v2.0M250.4 256.9h-2.0M310.8 300.6v2.0M250.4 254.5h-2.0M313 300.6v2.0M250.4 252.9h-2.0M314.7 300.6v2.0M250.4 251.6h-2.0M316 300.6v2.0M250.4 250.5h-2.0M317.2 300.6v2.0M250.4 249.7h-2.0M318.2 300.6v2.0M250.4 248.9h-2.0M319.1 300.6v2.0M250.4 248.2h-2.0M319.9 300.6v2.8M250.4 247.6h-2.8" stroke="#1a1a1a" stroke-width="1.0" fill="none"/>
<text x="250.6" y="311.3" font-size="6.1" text-anchor="middle" fill="#1f1f1f" stroke="#1f1f1f" stroke-width="0.2">10<tspan font-size="5.2" dy="-3.1">0</tspan></text>
<text x="244.8" y="300.9" font-size="6.1" text-anchor="middle" fill="#1f1f1f" stroke="#1f1f1f" stroke-width="0.2" transform="rotate(-90 244.8 300.9)">10<tspan font-size="5.2" dy="-3.1">0</tspan></text>
<text x="268" y="311.3" font-size="6.1" text-anchor="middle" fill="#1f1f1f" stroke="#1f1f1f" stroke-width="0.2">10<tspan font-size="5.2" dy="-3.1">1</tspan></text>
<text x="244.8" y="287.7" font-size="6.1" text-anchor="middle" fill="#1f1f1f" stroke="#1f1f1f" stroke-width="0.2" transform="rotate(-90 244.8 287.7)">10<tspan font-size="5.2" dy="-3.1">1</tspan></text>
<text x="285.3" y="311.3" font-size="6.1" text-anchor="middle" fill="#1f1f1f" stroke="#1f1f1f" stroke-width="0.2">10<tspan font-size="5.2" dy="-3.1">2</tspan></text>
<text x="244.8" y="274.4" font-size="6.1" text-anchor="middle" fill="#1f1f1f" stroke="#1f1f1f" stroke-width="0.2" transform="rotate(-90 244.8 274.4)">10<tspan font-size="5.2" dy="-3.1">2</tspan></text>
<text x="302.7" y="311.3" font-size="6.1" text-anchor="middle" fill="#1f1f1f" stroke="#1f1f1f" stroke-width="0.2">10<tspan font-size="5.2" dy="-3.1">3</tspan></text>
<text x="244.8" y="261.2" font-size="6.1" text-anchor="middle" fill="#1f1f1f" stroke="#1f1f1f" stroke-width="0.2" transform="rotate(-90 244.8 261.2)">10<tspan font-size="5.2" dy="-3.1">3</tspan></text>
<text x="320.1" y="311.3" font-size="6.1" text-anchor="middle" fill="#1f1f1f" stroke="#1f1f1f" stroke-width="0.2">10<tspan font-size="5.2" dy="-3.1">4</tspan></text>
<text x="244.8" y="247.9" font-size="6.1" text-anchor="middle" fill="#1f1f1f" stroke="#1f1f1f" stroke-width="0.2" transform="rotate(-90 244.8 247.9)">10<tspan font-size="5.2" dy="-3.1">4</tspan></text>
<text x="286.9" y="317.5" font-size="6.1" text-anchor="middle" fill="#1f1f1f" stroke="#1f1f1f" stroke-width="0.24">CD105 FITC</text>
<text x="236.1" y="274.1" font-size="6.1" text-anchor="middle" transform="rotate(-90 236.1 274.1)" fill="#1f1f1f" stroke="#1f1f1f" stroke-width="0.24">CD106 PE</text>
<path d="M393.8 298.1h0M398.5 296.6h0M403.4 293.8h0M406.6 299.8h0M405.5 289.8h0M397.1 292.2h0M402 289.6h0M401 293.6h0M402.3 291.5h0M402.7 293.5h0M399.5 289.1h0M404.3 297.2h0M404.3 290.9h0M404.6 288.4h0M402.4 296.2h0M400.6 294.6h0M401 295.2h0M406 295.5h0M404 291.1h0M400.6 286.2h0M398.8 299.5h0M399.4 295.8h0M401.3 287.9h0M399.2 285.7h0M408.1 289.6h0M405.5 296h0M403.3 295.6h0M401.7 293.1h0M408.5 298.1h0M397.3 296.8h0M400.3 293.3h0M401.2 292.1h0M394.7 291.5h0M399.5 290.9h0M398.1 293.4h0" stroke="#eaa0b3" stroke-width="1.1" stroke-linecap="round"/>
<path d="M398 290.3h0M399.7 294.2h0M401.6 294.1h0M402.1 295.2h0M399.6 293h0M407.3 290.5h0M405.5 290.3h0M408.1 294.8h0M402.5 297.3h0M404 292.4h0M410.5 297.9h0M393.7 294.5h0M402.8 298h0M396.9 297.2h0M407.7 297.9h0M405.2 291h0M401.9 295.6h0M400 295.9h0M402.2 291.4h0M403.3 295.3h0M398.8 293.3h0M406.3 293.4h0M406.9 295h0M403.4 295.7h0M392.3 292.3h0M402.5 291.5h0M401.1 292.1h0M396 295.6h0M396.7 294.1h0" stroke="#cf2f58" stroke-width="0.8" stroke-linecap="round"/>
<path d="M414.8 294.7h0M411.3 297.7h0M412.1 290.3h0M412.6 295.8h0M412.5 291.7h0M411.7 299.2h0M411.9 285.7h0M412.8 292.1h0M409.1 285.9h0M414 287.2h0M411.4 288.4h0M412.3 291.2h0M413.1 296h0M412.8 293.8h0M416.1 293.8h0M412.9 287.3h0M414.4 297.4h0M411.9 296.6h0M412.7 285.3h0M411.1 285.7h0M412.3 292h0M414 291.2h0M413.2 296.9h0M413.4 292.6h0M411.4 295.5h0M412.7 295.1h0M414.7 290.9h0M413.3 295.2h0M410.4 293.9h0M411.2 297.6h0M412.8 296.6h0M412.2 285.7h0M410.6 290.6h0M414 291.2h0M412.5 297.3h0M410.8 293.1h0M411.5 291.5h0M410.4 291.9h0M412.4 296.6h0M414.9 285.7h0M412.3 289.6h0M414.2 295h0M415.2 293.3h0" stroke="#cf2f58" stroke-width="1" stroke-linecap="round"/>
<path d="M411.8 295.5h0M415.6 293.9h0M413.8 283.9h0M413.1 288.7h0M411.7 289.9h0M412 294.1h0M413.7 295.6h0M413.8 282.4h0M409 297.3h0M414.5 292h0M413.2 296h0M415.3 294.9h0M412 297h0M408.5 292.8h0M411 292.2h0M412.4 292.1h0M411.8 293h0M413.6 291h0M413.2 295.3h0M414.4 284.5h0M412 291h0M412.6 295.7h0M412.8 291.4h0M413.1 288.2h0M412.9 291.5h0M410.7 286.7h0M413.1 291.6h0M412.4 292.7h0M415.8 289h0M416.2 292.9h0" stroke="#eaa0b3" stroke-width="1.1" stroke-linecap="round"/>
<rect x="360.6" y="247.6" width="69.3" height="53" fill="none" stroke="#1c1c1c" stroke-width="1.3"/>
<path d="M382.7 247.6V300.6 M360.6 285.3H429.9" stroke="#1c1c1c" stroke-width="1.3" fill="none"/>
<path d="M360.6 300.6v2.8M360.6 300.6h-2.8M365.8 300.6v2.0M360.6 296.6h-2.0M368.9 300.6v2.0M360.6 294.3h-2.0M371 300.6v2.0M360.6 292.6h-2.0M372.7 300.6v2.0M360.6 291.3h-2.0M374.1 300.6v2.0M360.6 290.3h-2.0M375.2 300.6v2.0M360.6 289.4h-2.0M376.2 300.6v2.0M360.6 288.6h-2.0M377.1 300.6v2.0M360.6 288h-2.0M377.9 300.6v2.8M360.6 287.4h-2.8M383.1 300.6v2.0M360.6 283.4h-2.0M386.2 300.6v2.0M360.6 281h-2.0M388.4 300.6v2.0M360.6 279.4h-2.0M390 300.6v2.0M360.6 278.1h-2.0M391.4 300.6v2.0M360.6 277h-2.0M392.6 300.6v2.0M360.6 276.2h-2.0M393.6 300.6v2.0M360.6 275.4h-2.0M394.5 300.6v2.0M360.6 274.7h-2.0M395.2 300.6v2.8M360.6 274.1h-2.8M400.5 300.6v2.0M360.6 270.1h-2.0M403.5 300.6v2.0M360.6 267.8h-2.0M405.7 300.6v2.0M360.6 266.1h-2.0M407.4 300.6v2.0M360.6 264.8h-2.0M408.7 300.6v2.0M360.6 263.8h-2.0M409.9 300.6v2.0M360.6 262.9h-2.0M410.9 300.6v2.0M360.6 262.1h-2.0M411.8 300.6v2.0M360.6 261.5h-2.0M412.6 300.6v2.8M360.6 260.9h-2.8M417.8 300.6v2.0M360.6 256.9h-2.0M420.8 300.6v2.0M360.6 254.5h-2.0M423 300.6v2.0M360.6 252.9h-2.0M424.7 300.6v2.0M360.6 251.6h-2.0M426.1 300.6v2.0M360.6 250.5h-2.0M427.2 300.6v2.0M360.6 249.7h-2.0M428.2 300.6v2.0M360.6 248.9h-2.0M429.1 300.6v2.0M360.6 248.2h-2.0M429.9 300.6v2.8M360.6 247.6h-2.8" stroke="#1a1a1a" stroke-width="1.0" fill="none"/>
<text x="360.8" y="311.3" font-size="6.1" text-anchor="middle" fill="#1f1f1f" stroke="#1f1f1f" stroke-width="0.2">10<tspan font-size="5.2" dy="-3.1">0</tspan></text>
<text x="355" y="300.9" font-size="6.1" text-anchor="middle" fill="#1f1f1f" stroke="#1f1f1f" stroke-width="0.2" transform="rotate(-90 355 300.9)">10<tspan font-size="5.2" dy="-3.1">0</tspan></text>
<text x="378.1" y="311.3" font-size="6.1" text-anchor="middle" fill="#1f1f1f" stroke="#1f1f1f" stroke-width="0.2">10<tspan font-size="5.2" dy="-3.1">1</tspan></text>
<text x="355" y="287.7" font-size="6.1" text-anchor="middle" fill="#1f1f1f" stroke="#1f1f1f" stroke-width="0.2" transform="rotate(-90 355 287.7)">10<tspan font-size="5.2" dy="-3.1">1</tspan></text>
<text x="395.4" y="311.3" font-size="6.1" text-anchor="middle" fill="#1f1f1f" stroke="#1f1f1f" stroke-width="0.2">10<tspan font-size="5.2" dy="-3.1">2</tspan></text>
<text x="355" y="274.4" font-size="6.1" text-anchor="middle" fill="#1f1f1f" stroke="#1f1f1f" stroke-width="0.2" transform="rotate(-90 355 274.4)">10<tspan font-size="5.2" dy="-3.1">2</tspan></text>
<text x="412.8" y="311.3" font-size="6.1" text-anchor="middle" fill="#1f1f1f" stroke="#1f1f1f" stroke-width="0.2">10<tspan font-size="5.2" dy="-3.1">3</tspan></text>
<text x="355" y="261.2" font-size="6.1" text-anchor="middle" fill="#1f1f1f" stroke="#1f1f1f" stroke-width="0.2" transform="rotate(-90 355 261.2)">10<tspan font-size="5.2" dy="-3.1">3</tspan></text>
<text x="430.1" y="311.3" font-size="6.1" text-anchor="middle" fill="#1f1f1f" stroke="#1f1f1f" stroke-width="0.2">10<tspan font-size="5.2" dy="-3.1">4</tspan></text>
<text x="355" y="247.9" font-size="6.1" text-anchor="middle" fill="#1f1f1f" stroke="#1f1f1f" stroke-width="0.2" transform="rotate(-90 355 247.9)">10<tspan font-size="5.2" dy="-3.1">4</tspan></text>
<text x="394.9" y="317.2" font-size="6.1" text-anchor="middle" fill="#1f1f1f" stroke="#1f1f1f" stroke-width="0.24">CD31 FITC</text>
<text x="346.3" y="273.3" font-size="6.1" text-anchor="middle" transform="rotate(-90 346.3 273.3)" fill="#1f1f1f" stroke="#1f1f1f" stroke-width="0.24">AC133 PE</text>
<text x="0" y="163.8" font-size="16.8" text-anchor="start" font-weight="bold" fill="#111">B</text>
<text x="-0.6" y="254.3" font-size="16.8" text-anchor="start" font-weight="bold" fill="#111">C</text>
<text x="450.3" y="198.6" font-size="9.5" text-anchor="start" fill="#1f1f1f" stroke="#1f1f1f" stroke-width="0.24" letter-spacing="0.04">Healthy</text>
<text x="489.7" y="198.6" font-size="9.5" text-anchor="start" fill="#1f1f1f" stroke="#1f1f1f" stroke-width="0.24" letter-spacing="0.04">control</text>
<text x="452.4" y="283" font-size="9.5" text-anchor="start" fill="#1f1f1f" stroke="#1f1f1f" stroke-width="0.24" letter-spacing="0.04">Cancer</text>
<text x="488.5" y="283" font-size="9.5" text-anchor="start" fill="#1f1f1f" stroke="#1f1f1f" stroke-width="0.24" letter-spacing="0.04">patient</text>
<text x="23.2" y="344.2" font-size="9.4" text-anchor="start" fill="#1f1f1f" stroke="#1f1f1f" stroke-width="0.24" letter-spacing="0.08">Negative</text>
<text x="67.2" y="344.2" font-size="9.4" text-anchor="start" fill="#1f1f1f" stroke="#1f1f1f" stroke-width="0.24" letter-spacing="0.08">control</text>
<text x="167.4" y="344.2" font-size="9.4" text-anchor="start" fill="#1f1f1f" stroke="#1f1f1f" stroke-width="0.24" letter-spacing="0.08">Resting</text>
<text x="204.1" y="344.2" font-size="9.4" text-anchor="start" fill="#1f1f1f" stroke="#1f1f1f" stroke-width="0.24" letter-spacing="0.08">and</text>
<text x="225.6" y="344.2" font-size="9.4" text-anchor="start" fill="#1f1f1f" stroke="#1f1f1f" stroke-width="0.24" letter-spacing="0.08">activation</text>
<text x="271.4" y="344.2" font-size="9.4" text-anchor="start" fill="#1f1f1f" stroke="#1f1f1f" stroke-width="0.24" letter-spacing="0.08">markers</text>
<text x="349.5" y="342.7" font-size="9.4" text-anchor="start" fill="#1f1f1f" stroke="#1f1f1f" stroke-width="0.24" letter-spacing="0.08">Progenitor</text>
<text x="401.5" y="342.7" font-size="9.4" text-anchor="start" fill="#1f1f1f" stroke="#1f1f1f" stroke-width="0.24" letter-spacing="0.08">markers</text>
</svg>
</body></html>
